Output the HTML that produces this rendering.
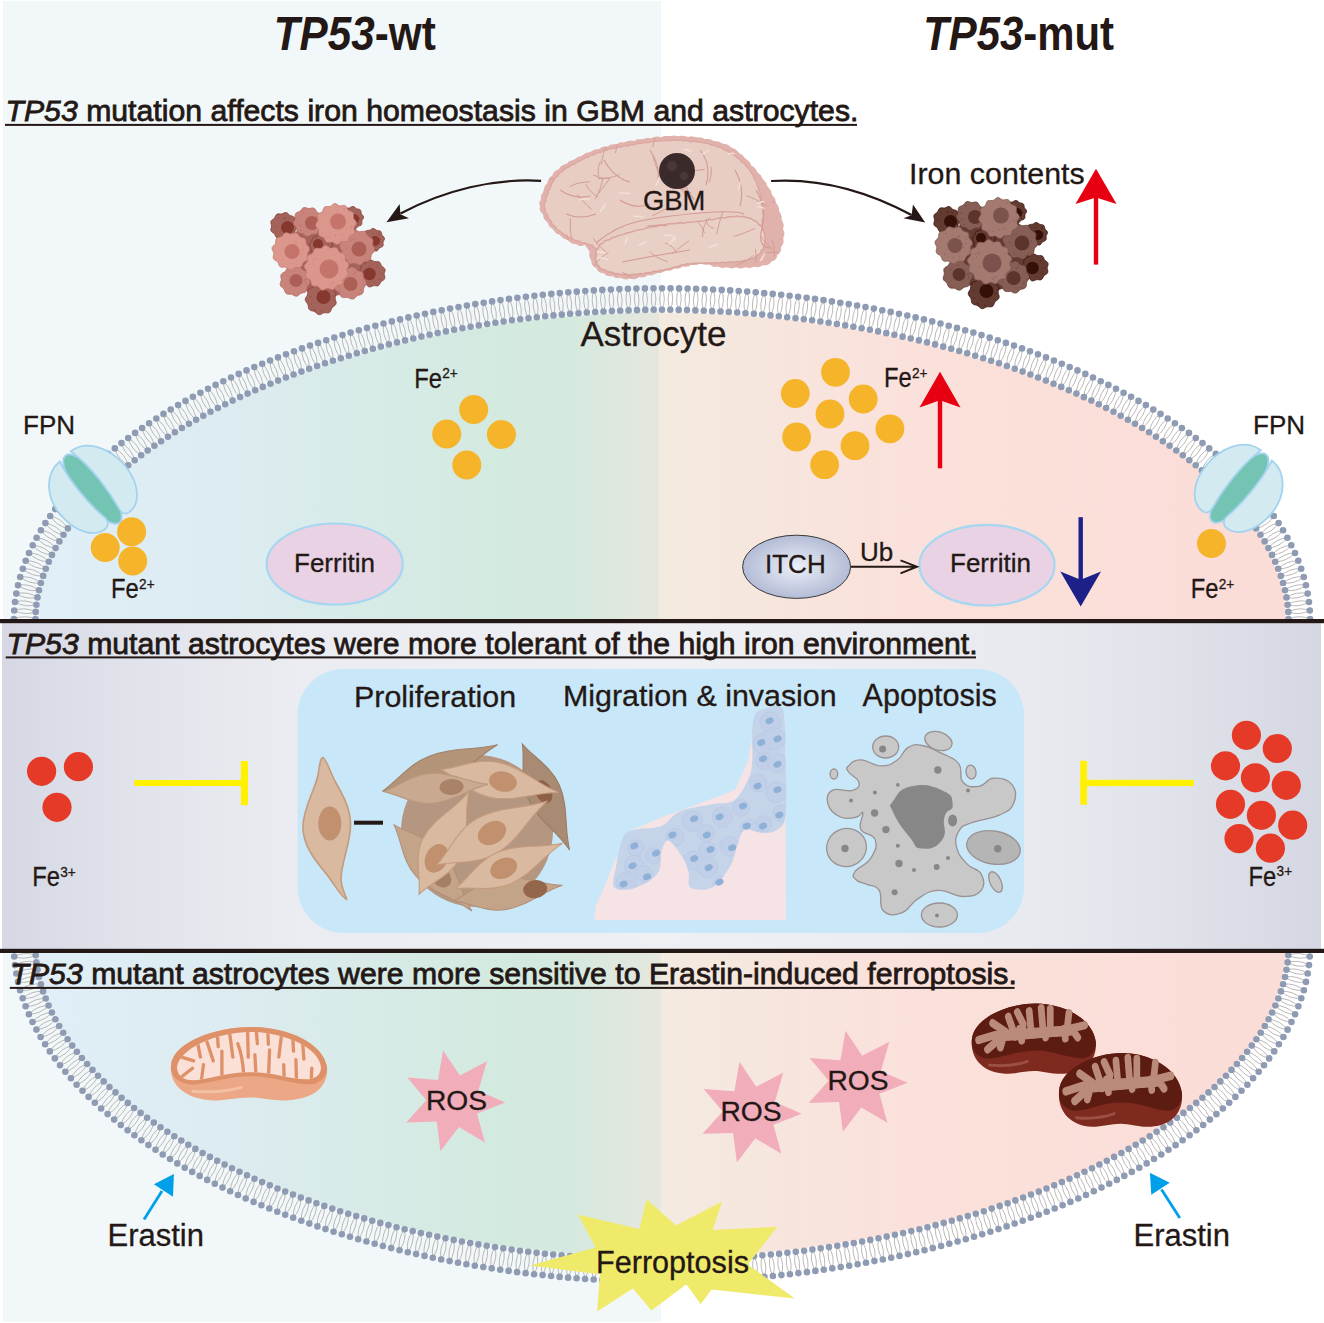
<!DOCTYPE html>
<html><head><meta charset="utf-8"><title>TP53 graphical abstract</title>
<style>html,body{margin:0;padding:0;background:#fff;width:1324px;height:1323px;overflow:hidden}
svg text{font-family:'Liberation Sans',sans-serif}</style></head><body>
<svg width="1324" height="1323" viewBox="0 0 1324 1323" style="display:block">
<defs>
<linearGradient id="gL" x1="0" y1="0" x2="1324" y2="0" gradientUnits="userSpaceOnUse">
 <stop offset="0.02" stop-color="#e1eff8"/><stop offset="0.2" stop-color="#dbebee"/><stop offset="0.38" stop-color="#d3eadf"/><stop offset="0.43" stop-color="#d5e9df"/><stop offset="0.5" stop-color="#e6e7de"/>
</linearGradient>
<linearGradient id="gR" x1="0" y1="0" x2="1324" y2="0" gradientUnits="userSpaceOnUse">
 <stop offset="0.5" stop-color="#f3eae0"/><stop offset="0.68" stop-color="#fbe1db"/><stop offset="1" stop-color="#fbdcd7"/>
</linearGradient>
<linearGradient id="gBand" x1="0" y1="0" x2="1324" y2="0" gradientUnits="userSpaceOnUse">
 <stop offset="0" stop-color="#d5d8e4"/><stop offset="0.1" stop-color="#e1e3eb"/><stop offset="0.22" stop-color="#ebecf1"/><stop offset="0.5" stop-color="#eff0f4"/><stop offset="0.78" stop-color="#e9eaf0"/><stop offset="0.88" stop-color="#e1e3ea"/><stop offset="1" stop-color="#d4d7e2"/>
</linearGradient>
<radialGradient id="gItch" cx="0.5" cy="0.5" r="0.5">
 <stop offset="0" stop-color="#eceff8"/><stop offset="1" stop-color="#b3bcd6"/>
</radialGradient>
<clipPath id="cTop"><path d="M38.1 619 L38.1 617.7 L38.1 616.3 L38.2 614.9 L38.2 613.4 L38.3 612 L38.4 610.5 L38.5 609 L38.7 607.6 L38.8 606.1 L39 604.6 L39.2 603.1 L39.4 601.6 L39.6 600.1 L39.8 598.6 L40.1 597.1 L40.4 595.6 L40.7 594 L41 592.5 L41.3 591 L41.6 589.5 L42 587.9 L42.4 586.4 L42.8 584.9 L43.2 583.4 L43.6 581.8 L44.1 580.3 L44.5 578.8 L45 577.2 L45.5 575.7 L46.1 574.2 L46.6 572.6 L47.2 571.1 L47.7 569.5 L48.3 568 L48.9 566.5 L49.5 564.9 L50.2 563.4 L50.9 561.9 L51.5 560.3 L52.2 558.8 L52.9 557.2 L53.7 555.7 L54.4 554.2 L55.2 552.6 L56 551.1 L56.8 549.6 L57.6 548 L58.4 546.5 L59.2 545 L60.1 543.4 L61 541.9 L61.9 540.4 L62.8 538.9 L63.8 537.3 L64.7 535.8 L65.7 534.3 L66.7 532.8 L67.7 531.2 L68.7 529.7 L69.7 528.2 L70.8 526.7 L71.8 525.2 L72.9 523.7 L74 522.2 L75.1 520.6 L76.3 519.1 L77.4 517.6 L78.6 516.1 L79.8 514.6 L81 513.1 L82.2 511.6 L83.4 510.2 L84.7 508.7 L86 507.2 L87.2 505.7 L88.5 504.2 L89.9 502.7 L91.2 501.2 L92.5 499.8 L93.9 498.3 L95.3 496.8 L96.7 495.4 L98.1 493.9 L99.5 492.4 L101 491 L102.4 489.5 L103.9 488.1 L105.4 486.6 L106.9 485.2 L108.4 483.7 L110 482.3 L111.5 480.9 L113.1 479.4 L114.7 478 L116.3 476.6 L117.9 475.2 L119.5 473.7 L121.2 472.3 L122.8 470.9 L124.5 469.5 L126.2 468.1 L127.9 466.7 L129.6 465.3 L131.4 463.9 L133.1 462.5 L134.9 461.1 L136.7 459.8 L138.4 458.4 L140.3 457 L142.1 455.7 L143.9 454.3 L145.8 452.9 L147.6 451.6 L149.5 450.2 L151.4 448.9 L153.3 447.5 L155.3 446.2 L157.2 444.9 L159.2 443.5 L161.1 442.2 L163.1 440.9 L165.1 439.6 L167.1 438.3 L169.1 437 L171.2 435.7 L173.2 434.4 L175.3 433.1 L177.4 431.8 L179.4 430.5 L181.6 429.3 L183.7 428 L185.8 426.7 L187.9 425.5 L190.1 424.2 L192.3 423 L194.5 421.7 L196.7 420.5 L198.9 419.3 L201.1 418 L203.3 416.8 L205.6 415.6 L207.8 414.4 L210.1 413.2 L212.4 412 L214.7 410.8 L217 409.6 L219.3 408.4 L221.6 407.2 L224 406.1 L226.3 404.9 L228.7 403.8 L231.1 402.6 L233.5 401.5 L235.9 400.3 L238.3 399.2 L240.7 398 L243.2 396.9 L245.6 395.8 L248.1 394.7 L250.6 393.6 L253.1 392.5 L255.5 391.4 L258.1 390.3 L260.6 389.2 L263.1 388.2 L265.6 387.1 L268.2 386 L270.8 385 L273.3 383.9 L275.9 382.9 L278.5 381.9 L281.1 380.8 L283.7 379.8 L286.3 378.8 L289 377.8 L291.6 376.8 L294.3 375.8 L296.9 374.8 L299.6 373.8 L302.3 372.9 L305 371.9 L307.7 370.9 L310.4 370 L313.1 369 L315.8 368.1 L318.6 367.2 L321.3 366.2 L324.1 365.3 L326.8 364.4 L329.6 363.5 L332.4 362.6 L335.2 361.7 L338 360.8 L340.8 360 L343.6 359.1 L346.4 358.2 L349.3 357.4 L352.1 356.5 L354.9 355.7 L357.8 354.9 L360.7 354 L363.5 353.2 L366.4 352.4 L369.3 351.6 L372.2 350.8 L375.1 350 L378 349.2 L380.9 348.5 L383.8 347.7 L386.8 347 L389.7 346.2 L392.6 345.5 L395.6 344.7 L398.5 344 L401.5 343.3 L404.5 342.6 L407.4 341.9 L410.4 341.2 L413.4 340.5 L416.4 339.8 L419.4 339.2 L422.4 338.5 L425.4 337.8 L428.4 337.2 L431.4 336.6 L434.4 335.9 L437.5 335.3 L440.5 334.7 L443.5 334.1 L446.6 333.5 L449.6 332.9 L452.7 332.3 L455.7 331.7 L458.8 331.2 L461.9 330.6 L464.9 330.1 L468 329.5 L471.1 329 L474.2 328.5 L477.2 327.9 L480.3 327.4 L483.4 326.9 L486.5 326.4 L489.6 325.9 L492.7 325.5 L495.8 325 L498.9 324.5 L502 324.1 L505.1 323.7 L508.2 323.2 L511.4 322.8 L514.5 322.4 L517.6 322 L520.7 321.6 L523.8 321.2 L527 320.8 L530.1 320.4 L533.2 320 L536.3 319.7 L539.5 319.3 L542.6 319 L545.7 318.7 L548.9 318.3 L552 318 L555.1 317.7 L558.2 317.4 L561.4 317.1 L564.5 316.8 L567.6 316.6 L570.8 316.3 L573.9 316.1 L577 315.8 L580.1 315.6 L583.2 315.3 L586.4 315.1 L589.5 314.9 L592.6 314.7 L595.7 314.5 L598.8 314.3 L601.9 314.1 L605 314 L608.1 313.8 L611.2 313.7 L614.3 313.5 L617.4 313.4 L620.4 313.3 L623.5 313.1 L626.6 313 L629.6 312.9 L632.7 312.8 L635.7 312.8 L638.7 312.7 L641.7 312.6 L644.7 312.6 L647.7 312.5 L650.6 312.5 L653.6 312.4 L656.5 312.4 L659.3 312.4 L662 312.4 L664.7 312.4 L667.5 312.4 L670.4 312.4 L673.4 312.5 L676.3 312.5 L679.3 312.6 L682.3 312.6 L685.3 312.7 L688.3 312.8 L691.3 312.8 L694.4 312.9 L697.4 313 L700.5 313.1 L703.6 313.3 L706.6 313.4 L709.7 313.5 L712.8 313.7 L715.9 313.8 L719 314 L722.1 314.1 L725.2 314.3 L728.3 314.5 L731.4 314.7 L734.5 314.9 L737.6 315.1 L740.8 315.3 L743.9 315.6 L747 315.8 L750.1 316.1 L753.2 316.3 L756.4 316.6 L759.5 316.8 L762.6 317.1 L765.8 317.4 L768.9 317.7 L772 318 L775.1 318.3 L778.3 318.7 L781.4 319 L784.5 319.3 L787.7 319.7 L790.8 320 L793.9 320.4 L797 320.8 L800.2 321.2 L803.3 321.6 L806.4 322 L809.5 322.4 L812.6 322.8 L815.8 323.2 L818.9 323.7 L822 324.1 L825.1 324.5 L828.2 325 L831.3 325.5 L834.4 325.9 L837.5 326.4 L840.6 326.9 L843.7 327.4 L846.8 327.9 L849.8 328.5 L852.9 329 L856 329.5 L859.1 330.1 L862.1 330.6 L865.2 331.2 L868.3 331.7 L871.3 332.3 L874.4 332.9 L877.4 333.5 L880.5 334.1 L883.5 334.7 L886.5 335.3 L889.6 335.9 L892.6 336.6 L895.6 337.2 L898.6 337.8 L901.6 338.5 L904.6 339.2 L907.6 339.8 L910.6 340.5 L913.6 341.2 L916.6 341.9 L919.5 342.6 L922.5 343.3 L925.5 344 L928.4 344.7 L931.4 345.5 L934.3 346.2 L937.2 347 L940.2 347.7 L943.1 348.5 L946 349.2 L948.9 350 L951.8 350.8 L954.7 351.6 L957.6 352.4 L960.5 353.2 L963.3 354 L966.2 354.9 L969.1 355.7 L971.9 356.5 L974.7 357.4 L977.6 358.2 L980.4 359.1 L983.2 360 L986 360.8 L988.8 361.7 L991.6 362.6 L994.4 363.5 L997.2 364.4 L999.9 365.3 L1002.7 366.2 L1005.4 367.2 L1008.2 368.1 L1010.9 369 L1013.6 370 L1016.3 370.9 L1019 371.9 L1021.7 372.9 L1024.4 373.8 L1027.1 374.8 L1029.7 375.8 L1032.4 376.8 L1035 377.8 L1037.7 378.8 L1040.3 379.8 L1042.9 380.8 L1045.5 381.9 L1048.1 382.9 L1050.7 383.9 L1053.2 385 L1055.8 386 L1058.4 387.1 L1060.9 388.2 L1063.4 389.2 L1065.9 390.3 L1068.5 391.4 L1070.9 392.5 L1073.4 393.6 L1075.9 394.7 L1078.4 395.8 L1080.8 396.9 L1083.3 398 L1085.7 399.2 L1088.1 400.3 L1090.5 401.5 L1092.9 402.6 L1095.3 403.8 L1097.7 404.9 L1100 406.1 L1102.4 407.2 L1104.7 408.4 L1107 409.6 L1109.3 410.8 L1111.6 412 L1113.9 413.2 L1116.2 414.4 L1118.4 415.6 L1120.7 416.8 L1122.9 418 L1125.1 419.3 L1127.3 420.5 L1129.5 421.7 L1131.7 423 L1133.9 424.2 L1136.1 425.5 L1138.2 426.7 L1140.3 428 L1142.4 429.3 L1144.6 430.5 L1146.6 431.8 L1148.7 433.1 L1150.8 434.4 L1152.8 435.7 L1154.9 437 L1156.9 438.3 L1158.9 439.6 L1160.9 440.9 L1162.9 442.2 L1164.8 443.5 L1166.8 444.9 L1168.7 446.2 L1170.7 447.5 L1172.6 448.9 L1174.5 450.2 L1176.4 451.6 L1178.2 452.9 L1180.1 454.3 L1181.9 455.7 L1183.7 457 L1185.6 458.4 L1187.3 459.8 L1189.1 461.1 L1190.9 462.5 L1192.6 463.9 L1194.4 465.3 L1196.1 466.7 L1197.8 468.1 L1199.5 469.5 L1201.2 470.9 L1202.8 472.3 L1204.5 473.7 L1206.1 475.2 L1207.7 476.6 L1209.3 478 L1210.9 479.4 L1212.5 480.9 L1214 482.3 L1215.6 483.7 L1217.1 485.2 L1218.6 486.6 L1220.1 488.1 L1221.6 489.5 L1223 491 L1224.5 492.4 L1225.9 493.9 L1227.3 495.4 L1228.7 496.8 L1230.1 498.3 L1231.5 499.8 L1232.8 501.2 L1234.1 502.7 L1235.5 504.2 L1236.8 505.7 L1238 507.2 L1239.3 508.7 L1240.6 510.2 L1241.8 511.6 L1243 513.1 L1244.2 514.6 L1245.4 516.1 L1246.6 517.6 L1247.7 519.1 L1248.9 520.6 L1250 522.2 L1251.1 523.7 L1252.2 525.2 L1253.2 526.7 L1254.3 528.2 L1255.3 529.7 L1256.3 531.2 L1257.3 532.8 L1258.3 534.3 L1259.3 535.8 L1260.2 537.3 L1261.2 538.9 L1262.1 540.4 L1263 541.9 L1263.9 543.4 L1264.8 545 L1265.6 546.5 L1266.4 548 L1267.2 549.6 L1268 551.1 L1268.8 552.6 L1269.6 554.2 L1270.3 555.7 L1271.1 557.2 L1271.8 558.8 L1272.5 560.3 L1273.1 561.9 L1273.8 563.4 L1274.5 564.9 L1275.1 566.5 L1275.7 568 L1276.3 569.5 L1276.8 571.1 L1277.4 572.6 L1277.9 574.2 L1278.5 575.7 L1279 577.2 L1279.5 578.8 L1279.9 580.3 L1280.4 581.8 L1280.8 583.4 L1281.2 584.9 L1281.6 586.4 L1282 587.9 L1282.4 589.5 L1282.7 591 L1283 592.5 L1283.3 594 L1283.6 595.6 L1283.9 597.1 L1284.2 598.6 L1284.4 600.1 L1284.6 601.6 L1284.8 603.1 L1285 604.6 L1285.2 606.1 L1285.3 607.6 L1285.5 609 L1285.6 610.5 L1285.7 612 L1285.8 613.4 L1285.8 614.9 L1285.9 616.3 L1285.9 617.7 L1285.9 619 Z"/></clipPath>
<clipPath id="cBot"><path d="M38.1 948 L38.1 949.3 L38.1 950.7 L38.2 952.2 L38.2 953.6 L38.3 955.1 L38.4 956.6 L38.5 958.1 L38.7 959.6 L38.8 961.1 L39 962.6 L39.2 964.1 L39.4 965.6 L39.6 967.1 L39.8 968.6 L40.1 970.1 L40.4 971.7 L40.7 973.2 L41 974.7 L41.3 976.3 L41.6 977.8 L42 979.4 L42.4 980.9 L42.8 982.4 L43.2 984 L43.6 985.5 L44.1 987.1 L44.5 988.6 L45 990.2 L45.5 991.7 L46.1 993.3 L46.6 994.8 L47.2 996.4 L47.7 997.9 L48.3 999.5 L48.9 1001 L49.5 1002.6 L50.2 1004.1 L50.9 1005.7 L51.5 1007.3 L52.2 1008.8 L52.9 1010.4 L53.7 1011.9 L54.4 1013.5 L55.2 1015 L56 1016.6 L56.8 1018.1 L57.6 1019.7 L58.4 1021.2 L59.2 1022.8 L60.1 1024.3 L61 1025.8 L61.9 1027.4 L62.8 1028.9 L63.8 1030.5 L64.7 1032 L65.7 1033.5 L66.7 1035.1 L67.7 1036.6 L68.7 1038.2 L69.7 1039.7 L70.8 1041.2 L71.8 1042.7 L72.9 1044.3 L74 1045.8 L75.1 1047.3 L76.3 1048.8 L77.4 1050.4 L78.6 1051.9 L79.8 1053.4 L81 1054.9 L82.2 1056.4 L83.4 1057.9 L84.7 1059.4 L86 1060.9 L87.2 1062.4 L88.5 1063.9 L89.9 1065.4 L91.2 1066.9 L92.5 1068.4 L93.9 1069.9 L95.3 1071.4 L96.7 1072.8 L98.1 1074.3 L99.5 1075.8 L101 1077.3 L102.4 1078.7 L103.9 1080.2 L105.4 1081.7 L106.9 1083.1 L108.4 1084.6 L110 1086 L111.5 1087.5 L113.1 1088.9 L114.7 1090.4 L116.3 1091.8 L117.9 1093.3 L119.5 1094.7 L121.2 1096.1 L122.8 1097.5 L124.5 1099 L126.2 1100.4 L127.9 1101.8 L129.6 1103.2 L131.4 1104.6 L133.1 1106 L134.9 1107.4 L136.7 1108.8 L138.4 1110.2 L140.3 1111.6 L142.1 1112.9 L143.9 1114.3 L145.8 1115.7 L147.6 1117.1 L149.5 1118.4 L151.4 1119.8 L153.3 1121.1 L155.3 1122.5 L157.2 1123.8 L159.2 1125.2 L161.1 1126.5 L163.1 1127.8 L165.1 1129.2 L167.1 1130.5 L169.1 1131.8 L171.2 1133.1 L173.2 1134.4 L175.3 1135.7 L177.4 1137 L179.4 1138.3 L181.6 1139.6 L183.7 1140.9 L185.8 1142.1 L187.9 1143.4 L190.1 1144.7 L192.3 1145.9 L194.5 1147.2 L196.7 1148.5 L198.9 1149.7 L201.1 1150.9 L203.3 1152.2 L205.6 1153.4 L207.8 1154.6 L210.1 1155.8 L212.4 1157 L214.7 1158.2 L217 1159.4 L219.3 1160.6 L221.6 1161.8 L224 1163 L226.3 1164.2 L228.7 1165.4 L231.1 1166.5 L233.5 1167.7 L235.9 1168.8 L238.3 1170 L240.7 1171.1 L243.2 1172.2 L245.6 1173.4 L248.1 1174.5 L250.6 1175.6 L253.1 1176.7 L255.5 1177.8 L258.1 1178.9 L260.6 1180 L263.1 1181.1 L265.6 1182.2 L268.2 1183.2 L270.8 1184.3 L273.3 1185.4 L275.9 1186.4 L278.5 1187.5 L281.1 1188.5 L283.7 1189.5 L286.3 1190.6 L289 1191.6 L291.6 1192.6 L294.3 1193.6 L296.9 1194.6 L299.6 1195.6 L302.3 1196.6 L305 1197.5 L307.7 1198.5 L310.4 1199.5 L313.1 1200.4 L315.8 1201.4 L318.6 1202.3 L321.3 1203.2 L324.1 1204.2 L326.8 1205.1 L329.6 1206 L332.4 1206.9 L335.2 1207.8 L338 1208.7 L340.8 1209.6 L343.6 1210.5 L346.4 1211.3 L349.3 1212.2 L352.1 1213 L354.9 1213.9 L357.8 1214.7 L360.7 1215.6 L363.5 1216.4 L366.4 1217.2 L369.3 1218 L372.2 1218.8 L375.1 1219.6 L378 1220.4 L380.9 1221.2 L383.8 1221.9 L386.8 1222.7 L389.7 1223.5 L392.6 1224.2 L395.6 1224.9 L398.5 1225.7 L401.5 1226.4 L404.5 1227.1 L407.4 1227.8 L410.4 1228.5 L413.4 1229.2 L416.4 1229.9 L419.4 1230.6 L422.4 1231.3 L425.4 1231.9 L428.4 1232.6 L431.4 1233.2 L434.4 1233.8 L437.5 1234.5 L440.5 1235.1 L443.5 1235.7 L446.6 1236.3 L449.6 1236.9 L452.7 1237.5 L455.7 1238.1 L458.8 1238.7 L461.9 1239.2 L464.9 1239.8 L468 1240.3 L471.1 1240.9 L474.2 1241.4 L477.2 1241.9 L480.3 1242.4 L483.4 1242.9 L486.5 1243.4 L489.6 1243.9 L492.7 1244.4 L495.8 1244.9 L498.9 1245.3 L502 1245.8 L505.1 1246.2 L508.2 1246.7 L511.4 1247.1 L514.5 1247.5 L517.6 1247.9 L520.7 1248.3 L523.8 1248.7 L527 1249.1 L530.1 1249.5 L533.2 1249.9 L536.3 1250.2 L539.5 1250.6 L542.6 1250.9 L545.7 1251.3 L548.9 1251.6 L552 1251.9 L555.1 1252.2 L558.2 1252.5 L561.4 1252.8 L564.5 1253.1 L567.6 1253.4 L570.8 1253.7 L573.9 1253.9 L577 1254.2 L580.1 1254.4 L583.2 1254.6 L586.4 1254.9 L589.5 1255.1 L592.6 1255.3 L595.7 1255.5 L598.8 1255.7 L601.9 1255.8 L605 1256 L608.1 1256.2 L611.2 1256.3 L614.3 1256.5 L617.4 1256.6 L620.4 1256.7 L623.5 1256.9 L626.6 1257 L629.6 1257.1 L632.7 1257.2 L635.7 1257.2 L638.7 1257.3 L641.7 1257.4 L644.7 1257.4 L647.7 1257.5 L650.6 1257.5 L653.6 1257.6 L656.5 1257.6 L659.3 1257.6 L662 1257.6 L664.7 1257.6 L667.5 1257.6 L670.4 1257.6 L673.4 1257.5 L676.3 1257.5 L679.3 1257.4 L682.3 1257.4 L685.3 1257.3 L688.3 1257.2 L691.3 1257.2 L694.4 1257.1 L697.4 1257 L700.5 1256.9 L703.6 1256.7 L706.6 1256.6 L709.7 1256.5 L712.8 1256.3 L715.9 1256.2 L719 1256 L722.1 1255.8 L725.2 1255.7 L728.3 1255.5 L731.4 1255.3 L734.5 1255.1 L737.6 1254.9 L740.8 1254.6 L743.9 1254.4 L747 1254.2 L750.1 1253.9 L753.2 1253.7 L756.4 1253.4 L759.5 1253.1 L762.6 1252.8 L765.8 1252.5 L768.9 1252.2 L772 1251.9 L775.1 1251.6 L778.3 1251.3 L781.4 1250.9 L784.5 1250.6 L787.7 1250.2 L790.8 1249.9 L793.9 1249.5 L797 1249.1 L800.2 1248.7 L803.3 1248.3 L806.4 1247.9 L809.5 1247.5 L812.6 1247.1 L815.8 1246.7 L818.9 1246.2 L822 1245.8 L825.1 1245.3 L828.2 1244.9 L831.3 1244.4 L834.4 1243.9 L837.5 1243.4 L840.6 1242.9 L843.7 1242.4 L846.8 1241.9 L849.8 1241.4 L852.9 1240.9 L856 1240.3 L859.1 1239.8 L862.1 1239.2 L865.2 1238.7 L868.3 1238.1 L871.3 1237.5 L874.4 1236.9 L877.4 1236.3 L880.5 1235.7 L883.5 1235.1 L886.5 1234.5 L889.6 1233.8 L892.6 1233.2 L895.6 1232.6 L898.6 1231.9 L901.6 1231.3 L904.6 1230.6 L907.6 1229.9 L910.6 1229.2 L913.6 1228.5 L916.6 1227.8 L919.5 1227.1 L922.5 1226.4 L925.5 1225.7 L928.4 1224.9 L931.4 1224.2 L934.3 1223.5 L937.2 1222.7 L940.2 1221.9 L943.1 1221.2 L946 1220.4 L948.9 1219.6 L951.8 1218.8 L954.7 1218 L957.6 1217.2 L960.5 1216.4 L963.3 1215.6 L966.2 1214.7 L969.1 1213.9 L971.9 1213 L974.7 1212.2 L977.6 1211.3 L980.4 1210.5 L983.2 1209.6 L986 1208.7 L988.8 1207.8 L991.6 1206.9 L994.4 1206 L997.2 1205.1 L999.9 1204.2 L1002.7 1203.2 L1005.4 1202.3 L1008.2 1201.4 L1010.9 1200.4 L1013.6 1199.5 L1016.3 1198.5 L1019 1197.5 L1021.7 1196.6 L1024.4 1195.6 L1027.1 1194.6 L1029.7 1193.6 L1032.4 1192.6 L1035 1191.6 L1037.7 1190.6 L1040.3 1189.5 L1042.9 1188.5 L1045.5 1187.5 L1048.1 1186.4 L1050.7 1185.4 L1053.2 1184.3 L1055.8 1183.2 L1058.4 1182.2 L1060.9 1181.1 L1063.4 1180 L1065.9 1178.9 L1068.5 1177.8 L1070.9 1176.7 L1073.4 1175.6 L1075.9 1174.5 L1078.4 1173.4 L1080.8 1172.2 L1083.3 1171.1 L1085.7 1170 L1088.1 1168.8 L1090.5 1167.7 L1092.9 1166.5 L1095.3 1165.4 L1097.7 1164.2 L1100 1163 L1102.4 1161.8 L1104.7 1160.6 L1107 1159.4 L1109.3 1158.2 L1111.6 1157 L1113.9 1155.8 L1116.2 1154.6 L1118.4 1153.4 L1120.7 1152.2 L1122.9 1150.9 L1125.1 1149.7 L1127.3 1148.5 L1129.5 1147.2 L1131.7 1145.9 L1133.9 1144.7 L1136.1 1143.4 L1138.2 1142.1 L1140.3 1140.9 L1142.4 1139.6 L1144.6 1138.3 L1146.6 1137 L1148.7 1135.7 L1150.8 1134.4 L1152.8 1133.1 L1154.9 1131.8 L1156.9 1130.5 L1158.9 1129.2 L1160.9 1127.8 L1162.9 1126.5 L1164.8 1125.2 L1166.8 1123.8 L1168.7 1122.5 L1170.7 1121.1 L1172.6 1119.8 L1174.5 1118.4 L1176.4 1117.1 L1178.2 1115.7 L1180.1 1114.3 L1181.9 1112.9 L1183.7 1111.6 L1185.6 1110.2 L1187.3 1108.8 L1189.1 1107.4 L1190.9 1106 L1192.6 1104.6 L1194.4 1103.2 L1196.1 1101.8 L1197.8 1100.4 L1199.5 1099 L1201.2 1097.5 L1202.8 1096.1 L1204.5 1094.7 L1206.1 1093.3 L1207.7 1091.8 L1209.3 1090.4 L1210.9 1088.9 L1212.5 1087.5 L1214 1086 L1215.6 1084.6 L1217.1 1083.1 L1218.6 1081.7 L1220.1 1080.2 L1221.6 1078.7 L1223 1077.3 L1224.5 1075.8 L1225.9 1074.3 L1227.3 1072.8 L1228.7 1071.4 L1230.1 1069.9 L1231.5 1068.4 L1232.8 1066.9 L1234.1 1065.4 L1235.5 1063.9 L1236.8 1062.4 L1238 1060.9 L1239.3 1059.4 L1240.6 1057.9 L1241.8 1056.4 L1243 1054.9 L1244.2 1053.4 L1245.4 1051.9 L1246.6 1050.4 L1247.7 1048.8 L1248.9 1047.3 L1250 1045.8 L1251.1 1044.3 L1252.2 1042.7 L1253.2 1041.2 L1254.3 1039.7 L1255.3 1038.2 L1256.3 1036.6 L1257.3 1035.1 L1258.3 1033.5 L1259.3 1032 L1260.2 1030.5 L1261.2 1028.9 L1262.1 1027.4 L1263 1025.8 L1263.9 1024.3 L1264.8 1022.8 L1265.6 1021.2 L1266.4 1019.7 L1267.2 1018.1 L1268 1016.6 L1268.8 1015 L1269.6 1013.5 L1270.3 1011.9 L1271.1 1010.4 L1271.8 1008.8 L1272.5 1007.3 L1273.1 1005.7 L1273.8 1004.1 L1274.5 1002.6 L1275.1 1001 L1275.7 999.5 L1276.3 997.9 L1276.8 996.4 L1277.4 994.8 L1277.9 993.3 L1278.5 991.7 L1279 990.2 L1279.5 988.6 L1279.9 987.1 L1280.4 985.5 L1280.8 984 L1281.2 982.4 L1281.6 980.9 L1282 979.4 L1282.4 977.8 L1282.7 976.3 L1283 974.7 L1283.3 973.2 L1283.6 971.7 L1283.9 970.1 L1284.2 968.6 L1284.4 967.1 L1284.6 965.6 L1284.8 964.1 L1285 962.6 L1285.2 961.1 L1285.3 959.6 L1285.5 958.1 L1285.6 956.6 L1285.7 955.1 L1285.8 953.6 L1285.8 952.2 L1285.9 950.7 L1285.9 949.3 L1285.9 948 Z"/></clipPath>
</defs>
<rect width="1324" height="1323" fill="#ffffff"/>
<rect x="3" y="1" width="658" height="1321" fill="#f2f8f9"/>
<g clip-path="url(#cTop)"><rect x="0" y="0" width="659" height="1323" fill="url(#gL)"/><rect x="659" y="0" width="665" height="1323" fill="url(#gR)"/></g>
<g clip-path="url(#cBot)"><rect x="0" y="0" width="661" height="1323" fill="url(#gL)"/><rect x="661" y="0" width="663" height="1323" fill="url(#gR)"/></g>
<path d="M13.9 619Q24.7 623.6 35.5 619 M13.9 619Q24.7 614.4 35.5 619 M14.2 610.5Q24.7 615.8 35.7 611.9 M14.2 610.5Q25.3 606.6 35.7 611.9 M15 602Q25.1 607.9 36.4 604.7 M15 602Q26.3 598.8 36.4 604.7 M16.3 593.6Q26.1 600 37.5 597.4 M16.3 593.6Q27.7 591 37.5 597.4 M18 585.2Q27.5 592.2 39 590.2 M18 585.2Q29.6 583.2 39 590.2 M20.2 577Q29.3 584.4 40.9 583 M20.2 577Q31.8 575.6 40.9 583 M22.8 568.8Q31.5 576.7 43.2 575.9 M22.8 568.8Q34.5 568 43.2 575.9 M25.7 560.8Q34.1 569.1 45.8 568.8 M25.7 560.8Q37.5 560.5 45.8 568.8 M29 553Q37 561.6 48.8 561.8 M29 553Q40.8 553.2 48.8 561.8 M32.7 545.3Q40.3 554.2 52 554.9 M32.7 545.3Q44.4 546 52 554.9 M36.6 537.7Q43.9 546.9 55.6 548.1 M36.6 537.7Q48.3 538.9 55.6 548.1 M40.9 530.3Q47.8 539.8 59.4 541.4 M40.9 530.3Q52.5 531.9 59.4 541.4 M45.4 523.1Q52 532.8 63.5 534.8 M45.4 523.1Q57 525.1 63.5 534.8 M50.2 516Q56.4 526 67.9 528.4 M50.2 516Q61.7 518.4 67.9 528.4 M55.2 509.1Q61.1 519.2 72.5 522 M55.2 509.1Q66.6 511.9 72.5 522 M60.4 502.3Q66 512.7 77.3 515.8 M60.4 502.3Q71.7 505.5 77.3 515.8 M65.8 495.8Q71.1 506.2 82.3 509.7 M65.8 495.8Q77 499.2 82.3 509.7 M71.4 489.3Q76.4 499.9 87.5 503.7 M71.4 489.3Q82.5 493.1 87.5 503.7 M77.1 483Q81.8 493.8 92.9 497.9 M77.1 483Q88.2 487.1 92.9 497.9 M83.1 476.9Q87.5 487.8 98.4 492.1 M83.1 476.9Q94 481.2 98.4 492.1 M89.2 470.9Q93.3 481.9 104.1 486.5 M89.2 470.9Q100 475.5 104.1 486.5 M95.4 465.1Q99.3 476.2 110 481 M95.4 465.1Q106.1 469.9 110 481 M101.7 459.4Q105.4 470.5 116 475.6 M101.7 459.4Q112.3 464.5 116 475.6 M108.2 453.8Q111.6 465.1 122.1 470.4 M108.2 453.8Q118.7 459.1 122.1 470.4 M114.8 448.4Q118 459.7 128.3 465.2 M114.8 448.4Q125.1 453.9 128.3 465.2 M121.5 443.1Q124.4 454.5 134.7 460.2 M121.5 443.1Q131.7 448.8 134.7 460.2 M128.2 438Q131 449.4 141.2 455.3 M128.2 438Q138.4 443.9 141.2 455.3 M135.1 432.9Q137.7 444.4 147.7 450.5 M135.1 432.9Q145.2 439 147.7 450.5 M142.1 428Q144.5 439.5 154.4 445.8 M142.1 428Q152 434.3 154.4 445.8 M149.1 423.2Q151.3 434.7 161.1 441.2 M149.1 423.2Q159 429.6 161.1 441.2 M156.3 418.5Q158.3 430.1 168 436.7 M156.3 418.5Q166 425.1 168 436.7 M163.5 413.9Q165.3 425.5 174.9 432.3 M163.5 413.9Q173.1 420.7 174.9 432.3 M170.7 409.5Q172.4 421.1 181.9 428 M170.7 409.5Q180.3 416.4 181.9 428 M178.1 405.1Q179.5 416.8 189 423.8 M178.1 405.1Q187.5 412.1 189 423.8 M185.5 400.9Q186.8 412.6 196.1 419.7 M185.5 400.9Q194.8 408 196.1 419.7 M192.9 396.7Q194.1 408.4 203.3 415.7 M192.9 396.7Q202.1 404 203.3 415.7 M200.4 392.7Q201.4 404.4 210.5 411.8 M200.4 392.7Q209.6 400.1 210.5 411.8 M208 388.8Q208.8 400.5 217.9 408 M208 388.8Q217 396.3 217.9 408 M215.6 384.9Q216.3 396.6 225.2 404.2 M215.6 384.9Q224.5 392.5 225.2 404.2 M223.3 381.2Q223.8 392.9 232.6 400.6 M223.3 381.2Q232.1 388.9 232.6 400.6 M231 377.5Q231.4 389.2 240.1 397.1 M231 377.5Q239.7 385.3 240.1 397.1 M238.7 373.9Q239 385.7 247.6 393.6 M238.7 373.9Q247.4 381.9 247.6 393.6 M246.5 370.4Q246.6 382.2 255.2 390.2 M246.5 370.4Q255.1 378.5 255.2 390.2 M254.3 367Q254.3 378.8 262.8 386.9 M254.3 367Q262.8 375.2 262.8 386.9 M262.2 363.7Q262.1 375.5 270.5 383.7 M262.2 363.7Q270.6 372 270.5 383.7 M270.1 360.5Q269.8 372.3 278.1 380.6 M270.1 360.5Q278.4 368.8 278.1 380.6 M278 357.4Q277.6 369.1 285.9 377.5 M278 357.4Q286.2 365.8 285.9 377.5 M286 354.3Q285.5 366 293.6 374.5 M286 354.3Q294.1 362.8 293.6 374.5 M294 351.3Q293.4 363.1 301.4 371.6 M294 351.3Q302 359.9 301.4 371.6 M302 348.4Q301.3 360.2 309.2 368.8 M302 348.4Q309.9 357.1 309.2 368.8 M310 345.6Q309.2 357.3 317.1 366 M310 345.6Q317.9 354.3 317.1 366 M318.1 342.9Q317.2 354.6 325 363.3 M318.1 342.9Q325.9 351.6 325 363.3 M326.2 340.2Q325.2 351.9 332.9 360.7 M326.2 340.2Q333.9 349 332.9 360.7 M334.3 337.6Q333.2 349.3 340.8 358.2 M334.3 337.6Q341.9 346.5 340.8 358.2 M342.5 335.1Q341.2 346.7 348.8 355.7 M342.5 335.1Q350 344.1 348.8 355.7 M350.6 332.6Q349.3 344.3 356.8 353.3 M350.6 332.6Q358.1 341.7 356.8 353.3 M358.8 330.2Q357.4 341.9 364.8 351 M358.8 330.2Q366.2 339.4 364.8 351 M367 327.9Q365.5 339.6 372.8 348.8 M367 327.9Q374.3 337.1 372.8 348.8 M375.3 325.7Q373.6 337.3 380.8 346.6 M375.3 325.7Q382.5 334.9 380.8 346.6 M383.5 323.5Q381.8 335.1 388.9 344.4 M383.5 323.5Q390.7 332.8 388.9 344.4 M391.8 321.4Q389.9 333 397 342.4 M391.8 321.4Q398.9 330.8 397 342.4 M400.1 319.4Q398.1 331 405.1 340.4 M400.1 319.4Q407.1 328.8 405.1 340.4 M408.4 317.4Q406.3 329 413.3 338.5 M408.4 317.4Q415.3 326.9 413.3 338.5 M416.7 315.5Q414.5 327.1 421.4 336.6 M416.7 315.5Q423.5 325.1 421.4 336.6 M425 313.7Q422.8 325.2 429.6 334.8 M425 313.7Q431.8 323.3 429.6 334.8 M433.3 311.9Q431 323.5 437.7 333.1 M433.3 311.9Q440 321.6 437.7 333.1 M441.7 310.2Q439.3 321.7 445.9 331.4 M441.7 310.2Q448.3 319.9 445.9 331.4 M450.1 308.6Q447.6 320.1 454.1 329.8 M450.1 308.6Q456.6 318.3 454.1 329.8 M458.5 307Q455.9 318.5 462.4 328.3 M458.5 307Q464.9 316.8 462.4 328.3 M466.9 305.5Q464.2 317 470.6 326.8 M466.9 305.5Q473.3 315.4 470.6 326.8 M475.3 304.1Q472.5 315.5 478.8 325.4 M475.3 304.1Q481.6 314 478.8 325.4 M483.7 302.7Q480.8 314.1 487.1 324 M483.7 302.7Q489.9 312.6 487.1 324 M492.1 301.4Q489.2 312.8 495.4 322.7 M492.1 301.4Q498.3 311.4 495.4 322.7 M500.5 300.1Q497.5 311.5 503.6 321.5 M500.5 300.1Q506.6 310.2 503.6 321.5 M509 298.9Q505.9 310.3 511.9 320.3 M509 298.9Q515 309 511.9 320.3 M517.4 297.8Q514.3 309.1 520.2 319.2 M517.4 297.8Q523.4 307.9 520.2 319.2 M525.9 296.7Q522.6 308 528.5 318.2 M525.9 296.7Q531.8 306.9 528.5 318.2 M534.4 295.7Q531 307 536.8 317.2 M534.4 295.7Q540.2 305.9 536.8 317.2 M542.8 294.8Q539.4 306 545.2 316.3 M542.8 294.8Q548.6 305 545.2 316.3 M551.3 293.9Q547.8 305.1 553.5 315.4 M551.3 293.9Q557 304.2 553.5 315.4 M559.8 293.1Q556.2 304.3 561.8 314.6 M559.8 293.1Q565.4 303.4 561.8 314.6 M568.3 292.3Q564.6 303.5 570.1 313.8 M568.3 292.3Q573.8 302.7 570.1 313.8 M576.8 291.6Q573.1 302.8 578.5 313.2 M576.8 291.6Q582.2 302 578.5 313.2 M585.3 291Q581.5 302.1 586.8 312.5 M585.3 291Q590.7 301.4 586.8 312.5 M593.8 290.4Q589.9 301.5 595.2 312 M593.8 290.4Q599.1 300.9 595.2 312 M602.3 289.9Q598.3 301 603.5 311.5 M602.3 289.9Q607.5 300.4 603.5 311.5 M610.9 289.5Q606.8 300.5 611.9 311.1 M610.9 289.5Q616 300 611.9 311.1 M619.4 289.1Q615.2 300.1 620.2 310.7 M619.4 289.1Q624.4 299.7 620.2 310.7 M627.9 288.8Q623.7 299.7 628.6 310.4 M627.9 288.8Q632.8 299.4 628.6 310.4 M636.4 288.5Q632.1 299.4 637 310.1 M636.4 288.5Q641.3 299.2 637 310.1 M644.9 288.4Q640.5 299.2 645.3 309.9 M644.9 288.4Q649.7 299.1 645.3 309.9 M653.5 288.2Q649 299.1 653.7 309.8 M653.5 288.2Q658.2 299 653.7 309.8 M662 288.2Q657.4 299 662 309.8 M662 288.2Q666.6 299 662 309.8 M670.5 288.2Q665.8 299 670.3 309.8 M670.5 288.2Q675 299.1 670.3 309.8 M679.1 288.4Q674.3 299.1 678.7 309.9 M679.1 288.4Q683.5 299.2 678.7 309.9 M687.6 288.5Q682.7 299.2 687 310.1 M687.6 288.5Q691.9 299.4 687 310.1 M696.1 288.8Q691.2 299.4 695.4 310.4 M696.1 288.8Q700.3 299.7 695.4 310.4 M704.6 289.1Q699.6 299.7 703.8 310.7 M704.6 289.1Q708.8 300.1 703.8 310.7 M713.1 289.5Q708 300 712.1 311.1 M713.1 289.5Q717.2 300.5 712.1 311.1 M721.7 289.9Q716.5 300.4 720.5 311.5 M721.7 289.9Q725.7 301 720.5 311.5 M730.2 290.4Q724.9 300.9 728.8 312 M730.2 290.4Q734.1 301.5 728.8 312 M738.7 291Q733.3 301.4 737.2 312.5 M738.7 291Q742.5 302.1 737.2 312.5 M747.2 291.6Q741.8 302 745.5 313.2 M747.2 291.6Q750.9 302.8 745.5 313.2 M755.7 292.3Q750.2 302.7 753.9 313.8 M755.7 292.3Q759.4 303.5 753.9 313.8 M764.2 293.1Q758.6 303.4 762.2 314.6 M764.2 293.1Q767.8 304.3 762.2 314.6 M772.7 293.9Q767 304.2 770.5 315.4 M772.7 293.9Q776.2 305.1 770.5 315.4 M781.2 294.8Q775.4 305 778.8 316.3 M781.2 294.8Q784.6 306 778.8 316.3 M789.6 295.7Q783.8 305.9 787.2 317.2 M789.6 295.7Q793 307 787.2 317.2 M798.1 296.7Q792.2 306.9 795.5 318.2 M798.1 296.7Q801.4 308 795.5 318.2 M806.6 297.8Q800.6 307.9 803.8 319.2 M806.6 297.8Q809.7 309.1 803.8 319.2 M815 298.9Q809 309 812.1 320.3 M815 298.9Q818.1 310.3 812.1 320.3 M823.5 300.1Q817.4 310.2 820.4 321.5 M823.5 300.1Q826.5 311.5 820.4 321.5 M831.9 301.4Q825.7 311.4 828.6 322.7 M831.9 301.4Q834.8 312.8 828.6 322.7 M840.3 302.7Q834.1 312.6 836.9 324 M840.3 302.7Q843.2 314.1 836.9 324 M848.7 304.1Q842.4 314 845.2 325.4 M848.7 304.1Q851.5 315.5 845.2 325.4 M857.1 305.5Q850.7 315.4 853.4 326.8 M857.1 305.5Q859.8 317 853.4 326.8 M865.5 307Q859.1 316.8 861.6 328.3 M865.5 307Q868.1 318.5 861.6 328.3 M873.9 308.6Q867.4 318.3 869.9 329.8 M873.9 308.6Q876.4 320.1 869.9 329.8 M882.3 310.2Q875.7 319.9 878.1 331.4 M882.3 310.2Q884.7 321.7 878.1 331.4 M890.7 311.9Q884 321.6 886.3 333.1 M890.7 311.9Q893 323.5 886.3 333.1 M899 313.7Q892.2 323.3 894.4 334.8 M899 313.7Q901.2 325.2 894.4 334.8 M907.3 315.5Q900.5 325.1 902.6 336.6 M907.3 315.5Q909.5 327.1 902.6 336.6 M915.6 317.4Q908.7 326.9 910.7 338.5 M915.6 317.4Q917.7 329 910.7 338.5 M923.9 319.4Q916.9 328.8 918.9 340.4 M923.9 319.4Q925.9 331 918.9 340.4 M932.2 321.4Q925.1 330.8 927 342.4 M932.2 321.4Q934.1 333 927 342.4 M940.5 323.5Q933.3 332.8 935.1 344.4 M940.5 323.5Q942.2 335.1 935.1 344.4 M948.7 325.7Q941.5 334.9 943.2 346.6 M948.7 325.7Q950.4 337.3 943.2 346.6 M957 327.9Q949.7 337.1 951.2 348.8 M957 327.9Q958.5 339.6 951.2 348.8 M965.2 330.2Q957.8 339.4 959.2 351 M965.2 330.2Q966.6 341.9 959.2 351 M973.4 332.6Q965.9 341.7 967.2 353.3 M973.4 332.6Q974.7 344.3 967.2 353.3 M981.5 335.1Q974 344.1 975.2 355.7 M981.5 335.1Q982.8 346.7 975.2 355.7 M989.7 337.6Q982.1 346.5 983.2 358.2 M989.7 337.6Q990.8 349.3 983.2 358.2 M997.8 340.2Q990.1 349 991.1 360.7 M997.8 340.2Q998.8 351.9 991.1 360.7 M1005.9 342.9Q998.1 351.6 999 363.3 M1005.9 342.9Q1006.8 354.6 999 363.3 M1014 345.6Q1006.1 354.3 1006.9 366 M1014 345.6Q1014.8 357.3 1006.9 366 M1022 348.4Q1014.1 357.1 1014.8 368.8 M1022 348.4Q1022.7 360.2 1014.8 368.8 M1030 351.3Q1022 359.9 1022.6 371.6 M1030 351.3Q1030.6 363.1 1022.6 371.6 M1038 354.3Q1029.9 362.8 1030.4 374.5 M1038 354.3Q1038.5 366 1030.4 374.5 M1046 357.4Q1037.8 365.8 1038.1 377.5 M1046 357.4Q1046.4 369.1 1038.1 377.5 M1053.9 360.5Q1045.6 368.8 1045.9 380.6 M1053.9 360.5Q1054.2 372.3 1045.9 380.6 M1061.8 363.7Q1053.4 372 1053.5 383.7 M1061.8 363.7Q1061.9 375.5 1053.5 383.7 M1069.7 367Q1061.2 375.2 1061.2 386.9 M1069.7 367Q1069.7 378.8 1061.2 386.9 M1077.5 370.4Q1068.9 378.5 1068.8 390.2 M1077.5 370.4Q1077.4 382.2 1068.8 390.2 M1085.3 373.9Q1076.6 381.9 1076.4 393.6 M1085.3 373.9Q1085 385.7 1076.4 393.6 M1093 377.5Q1084.3 385.3 1083.9 397.1 M1093 377.5Q1092.6 389.2 1083.9 397.1 M1100.7 381.2Q1091.9 388.9 1091.4 400.6 M1100.7 381.2Q1100.2 392.9 1091.4 400.6 M1108.4 384.9Q1099.5 392.5 1098.8 404.2 M1108.4 384.9Q1107.7 396.6 1098.8 404.2 M1116 388.8Q1107 396.3 1106.1 408 M1116 388.8Q1115.2 400.5 1106.1 408 M1123.6 392.7Q1114.4 400.1 1113.5 411.8 M1123.6 392.7Q1122.6 404.4 1113.5 411.8 M1131.1 396.7Q1121.9 404 1120.7 415.7 M1131.1 396.7Q1129.9 408.4 1120.7 415.7 M1138.5 400.9Q1129.2 408 1127.9 419.7 M1138.5 400.9Q1137.2 412.6 1127.9 419.7 M1145.9 405.1Q1136.5 412.1 1135 423.8 M1145.9 405.1Q1144.5 416.8 1135 423.8 M1153.3 409.5Q1143.7 416.4 1142.1 428 M1153.3 409.5Q1151.6 421.1 1142.1 428 M1160.5 413.9Q1150.9 420.7 1149.1 432.3 M1160.5 413.9Q1158.7 425.5 1149.1 432.3 M1167.7 418.5Q1158 425.1 1156 436.7 M1167.7 418.5Q1165.7 430.1 1156 436.7 M1174.9 423.2Q1165 429.6 1162.9 441.2 M1174.9 423.2Q1172.7 434.7 1162.9 441.2 M1181.9 428Q1172 434.3 1169.6 445.8 M1181.9 428Q1179.5 439.5 1169.6 445.8 M1188.9 432.9Q1178.8 439 1176.3 450.5 M1188.9 432.9Q1186.3 444.4 1176.3 450.5 M1195.8 438Q1185.6 443.9 1182.8 455.3 M1195.8 438Q1193 449.4 1182.8 455.3 M1202.5 443.1Q1192.3 448.8 1189.3 460.2 M1202.5 443.1Q1199.6 454.5 1189.3 460.2 M1209.2 448.4Q1198.9 453.9 1195.7 465.2 M1209.2 448.4Q1206 459.7 1195.7 465.2 M1215.8 453.8Q1205.3 459.1 1201.9 470.4 M1215.8 453.8Q1212.4 465.1 1201.9 470.4 M1222.3 459.4Q1211.7 464.5 1208 475.6 M1222.3 459.4Q1218.6 470.5 1208 475.6 M1228.6 465.1Q1217.9 469.9 1214 481 M1228.6 465.1Q1224.7 476.2 1214 481 M1234.8 470.9Q1224 475.5 1219.9 486.5 M1234.8 470.9Q1230.7 481.9 1219.9 486.5 M1240.9 476.9Q1230 481.2 1225.6 492.1 M1240.9 476.9Q1236.5 487.8 1225.6 492.1 M1246.9 483Q1235.8 487.1 1231.1 497.9 M1246.9 483Q1242.2 493.8 1231.1 497.9 M1252.6 489.3Q1241.5 493.1 1236.5 503.7 M1252.6 489.3Q1247.6 499.9 1236.5 503.7 M1258.2 495.8Q1247 499.2 1241.7 509.7 M1258.2 495.8Q1252.9 506.2 1241.7 509.7 M1263.6 502.3Q1252.3 505.5 1246.7 515.8 M1263.6 502.3Q1258 512.7 1246.7 515.8 M1268.8 509.1Q1257.4 511.9 1251.5 522 M1268.8 509.1Q1262.9 519.2 1251.5 522 M1273.8 516Q1262.3 518.4 1256.1 528.4 M1273.8 516Q1267.6 526 1256.1 528.4 M1278.6 523.1Q1267 525.1 1260.5 534.8 M1278.6 523.1Q1272 532.8 1260.5 534.8 M1283.1 530.3Q1271.5 531.9 1264.6 541.4 M1283.1 530.3Q1276.2 539.8 1264.6 541.4 M1287.4 537.7Q1275.7 538.9 1268.4 548.1 M1287.4 537.7Q1280.1 546.9 1268.4 548.1 M1291.3 545.3Q1279.6 546 1272 554.9 M1291.3 545.3Q1283.7 554.2 1272 554.9 M1295 553Q1283.2 553.2 1275.2 561.8 M1295 553Q1287 561.6 1275.2 561.8 M1298.3 560.8Q1286.5 560.5 1278.2 568.8 M1298.3 560.8Q1289.9 569.1 1278.2 568.8 M1301.2 568.8Q1289.5 568 1280.8 575.9 M1301.2 568.8Q1292.5 576.7 1280.8 575.9 M1303.8 577Q1292.2 575.6 1283.1 583 M1303.8 577Q1294.7 584.4 1283.1 583 M1306 585.2Q1294.4 583.2 1285 590.2 M1306 585.2Q1296.5 592.2 1285 590.2 M1307.7 593.6Q1296.3 591 1286.5 597.4 M1307.7 593.6Q1297.9 600 1286.5 597.4 M1309 602Q1297.7 598.8 1287.6 604.7 M1309 602Q1298.9 607.9 1287.6 604.7 M1309.8 610.5Q1298.7 606.6 1288.3 611.9 M1309.8 610.5Q1299.3 615.8 1288.3 611.9 M1310.1 619Q1299.3 614.4 1288.5 619 M1310.1 619Q1299.3 623.6 1288.5 619" fill="none" stroke="#a09a9a" stroke-width="0.7"/>
<path d="M10.6 619a3.3 3.3 0 1 0 6.6 0a3.3 3.3 0 1 0 -6.6 0 M10.9 610.5a3.3 3.3 0 1 0 6.6 0a3.3 3.3 0 1 0 -6.6 0 M11.7 602a3.3 3.3 0 1 0 6.6 0a3.3 3.3 0 1 0 -6.6 0 M13 593.6a3.3 3.3 0 1 0 6.6 0a3.3 3.3 0 1 0 -6.6 0 M14.7 585.2a3.3 3.3 0 1 0 6.6 0a3.3 3.3 0 1 0 -6.6 0 M16.9 577a3.3 3.3 0 1 0 6.6 0a3.3 3.3 0 1 0 -6.6 0 M19.5 568.8a3.3 3.3 0 1 0 6.6 0a3.3 3.3 0 1 0 -6.6 0 M22.4 560.8a3.3 3.3 0 1 0 6.6 0a3.3 3.3 0 1 0 -6.6 0 M25.7 553a3.3 3.3 0 1 0 6.6 0a3.3 3.3 0 1 0 -6.6 0 M29.4 545.3a3.3 3.3 0 1 0 6.6 0a3.3 3.3 0 1 0 -6.6 0 M33.3 537.7a3.3 3.3 0 1 0 6.6 0a3.3 3.3 0 1 0 -6.6 0 M37.6 530.3a3.3 3.3 0 1 0 6.6 0a3.3 3.3 0 1 0 -6.6 0 M42.1 523.1a3.3 3.3 0 1 0 6.6 0a3.3 3.3 0 1 0 -6.6 0 M46.9 516a3.3 3.3 0 1 0 6.6 0a3.3 3.3 0 1 0 -6.6 0 M51.9 509.1a3.3 3.3 0 1 0 6.6 0a3.3 3.3 0 1 0 -6.6 0 M57.1 502.3a3.3 3.3 0 1 0 6.6 0a3.3 3.3 0 1 0 -6.6 0 M62.5 495.8a3.3 3.3 0 1 0 6.6 0a3.3 3.3 0 1 0 -6.6 0 M68.1 489.3a3.3 3.3 0 1 0 6.6 0a3.3 3.3 0 1 0 -6.6 0 M73.8 483a3.3 3.3 0 1 0 6.6 0a3.3 3.3 0 1 0 -6.6 0 M79.8 476.9a3.3 3.3 0 1 0 6.6 0a3.3 3.3 0 1 0 -6.6 0 M85.9 470.9a3.3 3.3 0 1 0 6.6 0a3.3 3.3 0 1 0 -6.6 0 M92.1 465.1a3.3 3.3 0 1 0 6.6 0a3.3 3.3 0 1 0 -6.6 0 M98.4 459.4a3.3 3.3 0 1 0 6.6 0a3.3 3.3 0 1 0 -6.6 0 M104.9 453.8a3.3 3.3 0 1 0 6.6 0a3.3 3.3 0 1 0 -6.6 0 M111.5 448.4a3.3 3.3 0 1 0 6.6 0a3.3 3.3 0 1 0 -6.6 0 M118.2 443.1a3.3 3.3 0 1 0 6.6 0a3.3 3.3 0 1 0 -6.6 0 M124.9 438a3.3 3.3 0 1 0 6.6 0a3.3 3.3 0 1 0 -6.6 0 M131.8 432.9a3.3 3.3 0 1 0 6.6 0a3.3 3.3 0 1 0 -6.6 0 M138.8 428a3.3 3.3 0 1 0 6.6 0a3.3 3.3 0 1 0 -6.6 0 M145.8 423.2a3.3 3.3 0 1 0 6.6 0a3.3 3.3 0 1 0 -6.6 0 M153 418.5a3.3 3.3 0 1 0 6.6 0a3.3 3.3 0 1 0 -6.6 0 M160.2 413.9a3.3 3.3 0 1 0 6.6 0a3.3 3.3 0 1 0 -6.6 0 M167.4 409.5a3.3 3.3 0 1 0 6.6 0a3.3 3.3 0 1 0 -6.6 0 M174.8 405.1a3.3 3.3 0 1 0 6.6 0a3.3 3.3 0 1 0 -6.6 0 M182.2 400.9a3.3 3.3 0 1 0 6.6 0a3.3 3.3 0 1 0 -6.6 0 M189.6 396.7a3.3 3.3 0 1 0 6.6 0a3.3 3.3 0 1 0 -6.6 0 M197.1 392.7a3.3 3.3 0 1 0 6.6 0a3.3 3.3 0 1 0 -6.6 0 M204.7 388.8a3.3 3.3 0 1 0 6.6 0a3.3 3.3 0 1 0 -6.6 0 M212.3 384.9a3.3 3.3 0 1 0 6.6 0a3.3 3.3 0 1 0 -6.6 0 M220 381.2a3.3 3.3 0 1 0 6.6 0a3.3 3.3 0 1 0 -6.6 0 M227.7 377.5a3.3 3.3 0 1 0 6.6 0a3.3 3.3 0 1 0 -6.6 0 M235.4 373.9a3.3 3.3 0 1 0 6.6 0a3.3 3.3 0 1 0 -6.6 0 M243.2 370.4a3.3 3.3 0 1 0 6.6 0a3.3 3.3 0 1 0 -6.6 0 M251 367a3.3 3.3 0 1 0 6.6 0a3.3 3.3 0 1 0 -6.6 0 M258.9 363.7a3.3 3.3 0 1 0 6.6 0a3.3 3.3 0 1 0 -6.6 0 M266.8 360.5a3.3 3.3 0 1 0 6.6 0a3.3 3.3 0 1 0 -6.6 0 M274.7 357.4a3.3 3.3 0 1 0 6.6 0a3.3 3.3 0 1 0 -6.6 0 M282.7 354.3a3.3 3.3 0 1 0 6.6 0a3.3 3.3 0 1 0 -6.6 0 M290.7 351.3a3.3 3.3 0 1 0 6.6 0a3.3 3.3 0 1 0 -6.6 0 M298.7 348.4a3.3 3.3 0 1 0 6.6 0a3.3 3.3 0 1 0 -6.6 0 M306.7 345.6a3.3 3.3 0 1 0 6.6 0a3.3 3.3 0 1 0 -6.6 0 M314.8 342.9a3.3 3.3 0 1 0 6.6 0a3.3 3.3 0 1 0 -6.6 0 M322.9 340.2a3.3 3.3 0 1 0 6.6 0a3.3 3.3 0 1 0 -6.6 0 M331 337.6a3.3 3.3 0 1 0 6.6 0a3.3 3.3 0 1 0 -6.6 0 M339.2 335.1a3.3 3.3 0 1 0 6.6 0a3.3 3.3 0 1 0 -6.6 0 M347.3 332.6a3.3 3.3 0 1 0 6.6 0a3.3 3.3 0 1 0 -6.6 0 M355.5 330.2a3.3 3.3 0 1 0 6.6 0a3.3 3.3 0 1 0 -6.6 0 M363.7 327.9a3.3 3.3 0 1 0 6.6 0a3.3 3.3 0 1 0 -6.6 0 M372 325.7a3.3 3.3 0 1 0 6.6 0a3.3 3.3 0 1 0 -6.6 0 M380.2 323.5a3.3 3.3 0 1 0 6.6 0a3.3 3.3 0 1 0 -6.6 0 M388.5 321.4a3.3 3.3 0 1 0 6.6 0a3.3 3.3 0 1 0 -6.6 0 M396.8 319.4a3.3 3.3 0 1 0 6.6 0a3.3 3.3 0 1 0 -6.6 0 M405.1 317.4a3.3 3.3 0 1 0 6.6 0a3.3 3.3 0 1 0 -6.6 0 M413.4 315.5a3.3 3.3 0 1 0 6.6 0a3.3 3.3 0 1 0 -6.6 0 M421.7 313.7a3.3 3.3 0 1 0 6.6 0a3.3 3.3 0 1 0 -6.6 0 M430 311.9a3.3 3.3 0 1 0 6.6 0a3.3 3.3 0 1 0 -6.6 0 M438.4 310.2a3.3 3.3 0 1 0 6.6 0a3.3 3.3 0 1 0 -6.6 0 M446.8 308.6a3.3 3.3 0 1 0 6.6 0a3.3 3.3 0 1 0 -6.6 0 M455.2 307a3.3 3.3 0 1 0 6.6 0a3.3 3.3 0 1 0 -6.6 0 M463.6 305.5a3.3 3.3 0 1 0 6.6 0a3.3 3.3 0 1 0 -6.6 0 M472 304.1a3.3 3.3 0 1 0 6.6 0a3.3 3.3 0 1 0 -6.6 0 M480.4 302.7a3.3 3.3 0 1 0 6.6 0a3.3 3.3 0 1 0 -6.6 0 M488.8 301.4a3.3 3.3 0 1 0 6.6 0a3.3 3.3 0 1 0 -6.6 0 M497.2 300.1a3.3 3.3 0 1 0 6.6 0a3.3 3.3 0 1 0 -6.6 0 M505.7 298.9a3.3 3.3 0 1 0 6.6 0a3.3 3.3 0 1 0 -6.6 0 M514.1 297.8a3.3 3.3 0 1 0 6.6 0a3.3 3.3 0 1 0 -6.6 0 M522.6 296.7a3.3 3.3 0 1 0 6.6 0a3.3 3.3 0 1 0 -6.6 0 M531.1 295.7a3.3 3.3 0 1 0 6.6 0a3.3 3.3 0 1 0 -6.6 0 M539.5 294.8a3.3 3.3 0 1 0 6.6 0a3.3 3.3 0 1 0 -6.6 0 M548 293.9a3.3 3.3 0 1 0 6.6 0a3.3 3.3 0 1 0 -6.6 0 M556.5 293.1a3.3 3.3 0 1 0 6.6 0a3.3 3.3 0 1 0 -6.6 0 M565 292.3a3.3 3.3 0 1 0 6.6 0a3.3 3.3 0 1 0 -6.6 0 M573.5 291.6a3.3 3.3 0 1 0 6.6 0a3.3 3.3 0 1 0 -6.6 0 M582 291a3.3 3.3 0 1 0 6.6 0a3.3 3.3 0 1 0 -6.6 0 M590.5 290.4a3.3 3.3 0 1 0 6.6 0a3.3 3.3 0 1 0 -6.6 0 M599 289.9a3.3 3.3 0 1 0 6.6 0a3.3 3.3 0 1 0 -6.6 0 M607.6 289.5a3.3 3.3 0 1 0 6.6 0a3.3 3.3 0 1 0 -6.6 0 M616.1 289.1a3.3 3.3 0 1 0 6.6 0a3.3 3.3 0 1 0 -6.6 0 M624.6 288.8a3.3 3.3 0 1 0 6.6 0a3.3 3.3 0 1 0 -6.6 0 M633.1 288.5a3.3 3.3 0 1 0 6.6 0a3.3 3.3 0 1 0 -6.6 0 M641.6 288.4a3.3 3.3 0 1 0 6.6 0a3.3 3.3 0 1 0 -6.6 0 M650.2 288.2a3.3 3.3 0 1 0 6.6 0a3.3 3.3 0 1 0 -6.6 0 M658.7 288.2a3.3 3.3 0 1 0 6.6 0a3.3 3.3 0 1 0 -6.6 0 M667.2 288.2a3.3 3.3 0 1 0 6.6 0a3.3 3.3 0 1 0 -6.6 0 M675.8 288.4a3.3 3.3 0 1 0 6.6 0a3.3 3.3 0 1 0 -6.6 0 M684.3 288.5a3.3 3.3 0 1 0 6.6 0a3.3 3.3 0 1 0 -6.6 0 M692.8 288.8a3.3 3.3 0 1 0 6.6 0a3.3 3.3 0 1 0 -6.6 0 M701.3 289.1a3.3 3.3 0 1 0 6.6 0a3.3 3.3 0 1 0 -6.6 0 M709.8 289.5a3.3 3.3 0 1 0 6.6 0a3.3 3.3 0 1 0 -6.6 0 M718.4 289.9a3.3 3.3 0 1 0 6.6 0a3.3 3.3 0 1 0 -6.6 0 M726.9 290.4a3.3 3.3 0 1 0 6.6 0a3.3 3.3 0 1 0 -6.6 0 M735.4 291a3.3 3.3 0 1 0 6.6 0a3.3 3.3 0 1 0 -6.6 0 M743.9 291.6a3.3 3.3 0 1 0 6.6 0a3.3 3.3 0 1 0 -6.6 0 M752.4 292.3a3.3 3.3 0 1 0 6.6 0a3.3 3.3 0 1 0 -6.6 0 M760.9 293.1a3.3 3.3 0 1 0 6.6 0a3.3 3.3 0 1 0 -6.6 0 M769.4 293.9a3.3 3.3 0 1 0 6.6 0a3.3 3.3 0 1 0 -6.6 0 M777.9 294.8a3.3 3.3 0 1 0 6.6 0a3.3 3.3 0 1 0 -6.6 0 M786.3 295.7a3.3 3.3 0 1 0 6.6 0a3.3 3.3 0 1 0 -6.6 0 M794.8 296.7a3.3 3.3 0 1 0 6.6 0a3.3 3.3 0 1 0 -6.6 0 M803.3 297.8a3.3 3.3 0 1 0 6.6 0a3.3 3.3 0 1 0 -6.6 0 M811.7 298.9a3.3 3.3 0 1 0 6.6 0a3.3 3.3 0 1 0 -6.6 0 M820.2 300.1a3.3 3.3 0 1 0 6.6 0a3.3 3.3 0 1 0 -6.6 0 M828.6 301.4a3.3 3.3 0 1 0 6.6 0a3.3 3.3 0 1 0 -6.6 0 M837 302.7a3.3 3.3 0 1 0 6.6 0a3.3 3.3 0 1 0 -6.6 0 M845.4 304.1a3.3 3.3 0 1 0 6.6 0a3.3 3.3 0 1 0 -6.6 0 M853.8 305.5a3.3 3.3 0 1 0 6.6 0a3.3 3.3 0 1 0 -6.6 0 M862.2 307a3.3 3.3 0 1 0 6.6 0a3.3 3.3 0 1 0 -6.6 0 M870.6 308.6a3.3 3.3 0 1 0 6.6 0a3.3 3.3 0 1 0 -6.6 0 M879 310.2a3.3 3.3 0 1 0 6.6 0a3.3 3.3 0 1 0 -6.6 0 M887.4 311.9a3.3 3.3 0 1 0 6.6 0a3.3 3.3 0 1 0 -6.6 0 M895.7 313.7a3.3 3.3 0 1 0 6.6 0a3.3 3.3 0 1 0 -6.6 0 M904 315.5a3.3 3.3 0 1 0 6.6 0a3.3 3.3 0 1 0 -6.6 0 M912.3 317.4a3.3 3.3 0 1 0 6.6 0a3.3 3.3 0 1 0 -6.6 0 M920.6 319.4a3.3 3.3 0 1 0 6.6 0a3.3 3.3 0 1 0 -6.6 0 M928.9 321.4a3.3 3.3 0 1 0 6.6 0a3.3 3.3 0 1 0 -6.6 0 M937.2 323.5a3.3 3.3 0 1 0 6.6 0a3.3 3.3 0 1 0 -6.6 0 M945.4 325.7a3.3 3.3 0 1 0 6.6 0a3.3 3.3 0 1 0 -6.6 0 M953.7 327.9a3.3 3.3 0 1 0 6.6 0a3.3 3.3 0 1 0 -6.6 0 M961.9 330.2a3.3 3.3 0 1 0 6.6 0a3.3 3.3 0 1 0 -6.6 0 M970.1 332.6a3.3 3.3 0 1 0 6.6 0a3.3 3.3 0 1 0 -6.6 0 M978.2 335.1a3.3 3.3 0 1 0 6.6 0a3.3 3.3 0 1 0 -6.6 0 M986.4 337.6a3.3 3.3 0 1 0 6.6 0a3.3 3.3 0 1 0 -6.6 0 M994.5 340.2a3.3 3.3 0 1 0 6.6 0a3.3 3.3 0 1 0 -6.6 0 M1002.6 342.9a3.3 3.3 0 1 0 6.6 0a3.3 3.3 0 1 0 -6.6 0 M1010.7 345.6a3.3 3.3 0 1 0 6.6 0a3.3 3.3 0 1 0 -6.6 0 M1018.7 348.4a3.3 3.3 0 1 0 6.6 0a3.3 3.3 0 1 0 -6.6 0 M1026.7 351.3a3.3 3.3 0 1 0 6.6 0a3.3 3.3 0 1 0 -6.6 0 M1034.7 354.3a3.3 3.3 0 1 0 6.6 0a3.3 3.3 0 1 0 -6.6 0 M1042.7 357.4a3.3 3.3 0 1 0 6.6 0a3.3 3.3 0 1 0 -6.6 0 M1050.6 360.5a3.3 3.3 0 1 0 6.6 0a3.3 3.3 0 1 0 -6.6 0 M1058.5 363.7a3.3 3.3 0 1 0 6.6 0a3.3 3.3 0 1 0 -6.6 0 M1066.4 367a3.3 3.3 0 1 0 6.6 0a3.3 3.3 0 1 0 -6.6 0 M1074.2 370.4a3.3 3.3 0 1 0 6.6 0a3.3 3.3 0 1 0 -6.6 0 M1082 373.9a3.3 3.3 0 1 0 6.6 0a3.3 3.3 0 1 0 -6.6 0 M1089.7 377.5a3.3 3.3 0 1 0 6.6 0a3.3 3.3 0 1 0 -6.6 0 M1097.4 381.2a3.3 3.3 0 1 0 6.6 0a3.3 3.3 0 1 0 -6.6 0 M1105.1 384.9a3.3 3.3 0 1 0 6.6 0a3.3 3.3 0 1 0 -6.6 0 M1112.7 388.8a3.3 3.3 0 1 0 6.6 0a3.3 3.3 0 1 0 -6.6 0 M1120.3 392.7a3.3 3.3 0 1 0 6.6 0a3.3 3.3 0 1 0 -6.6 0 M1127.8 396.7a3.3 3.3 0 1 0 6.6 0a3.3 3.3 0 1 0 -6.6 0 M1135.2 400.9a3.3 3.3 0 1 0 6.6 0a3.3 3.3 0 1 0 -6.6 0 M1142.6 405.1a3.3 3.3 0 1 0 6.6 0a3.3 3.3 0 1 0 -6.6 0 M1150 409.5a3.3 3.3 0 1 0 6.6 0a3.3 3.3 0 1 0 -6.6 0 M1157.2 413.9a3.3 3.3 0 1 0 6.6 0a3.3 3.3 0 1 0 -6.6 0 M1164.4 418.5a3.3 3.3 0 1 0 6.6 0a3.3 3.3 0 1 0 -6.6 0 M1171.6 423.2a3.3 3.3 0 1 0 6.6 0a3.3 3.3 0 1 0 -6.6 0 M1178.6 428a3.3 3.3 0 1 0 6.6 0a3.3 3.3 0 1 0 -6.6 0 M1185.6 432.9a3.3 3.3 0 1 0 6.6 0a3.3 3.3 0 1 0 -6.6 0 M1192.5 438a3.3 3.3 0 1 0 6.6 0a3.3 3.3 0 1 0 -6.6 0 M1199.2 443.1a3.3 3.3 0 1 0 6.6 0a3.3 3.3 0 1 0 -6.6 0 M1205.9 448.4a3.3 3.3 0 1 0 6.6 0a3.3 3.3 0 1 0 -6.6 0 M1212.5 453.8a3.3 3.3 0 1 0 6.6 0a3.3 3.3 0 1 0 -6.6 0 M1219 459.4a3.3 3.3 0 1 0 6.6 0a3.3 3.3 0 1 0 -6.6 0 M1225.3 465.1a3.3 3.3 0 1 0 6.6 0a3.3 3.3 0 1 0 -6.6 0 M1231.5 470.9a3.3 3.3 0 1 0 6.6 0a3.3 3.3 0 1 0 -6.6 0 M1237.6 476.9a3.3 3.3 0 1 0 6.6 0a3.3 3.3 0 1 0 -6.6 0 M1243.6 483a3.3 3.3 0 1 0 6.6 0a3.3 3.3 0 1 0 -6.6 0 M1249.3 489.3a3.3 3.3 0 1 0 6.6 0a3.3 3.3 0 1 0 -6.6 0 M1254.9 495.8a3.3 3.3 0 1 0 6.6 0a3.3 3.3 0 1 0 -6.6 0 M1260.3 502.3a3.3 3.3 0 1 0 6.6 0a3.3 3.3 0 1 0 -6.6 0 M1265.5 509.1a3.3 3.3 0 1 0 6.6 0a3.3 3.3 0 1 0 -6.6 0 M1270.5 516a3.3 3.3 0 1 0 6.6 0a3.3 3.3 0 1 0 -6.6 0 M1275.3 523.1a3.3 3.3 0 1 0 6.6 0a3.3 3.3 0 1 0 -6.6 0 M1279.8 530.3a3.3 3.3 0 1 0 6.6 0a3.3 3.3 0 1 0 -6.6 0 M1284.1 537.7a3.3 3.3 0 1 0 6.6 0a3.3 3.3 0 1 0 -6.6 0 M1288 545.3a3.3 3.3 0 1 0 6.6 0a3.3 3.3 0 1 0 -6.6 0 M1291.7 553a3.3 3.3 0 1 0 6.6 0a3.3 3.3 0 1 0 -6.6 0 M1295 560.8a3.3 3.3 0 1 0 6.6 0a3.3 3.3 0 1 0 -6.6 0 M1297.9 568.8a3.3 3.3 0 1 0 6.6 0a3.3 3.3 0 1 0 -6.6 0 M1300.5 577a3.3 3.3 0 1 0 6.6 0a3.3 3.3 0 1 0 -6.6 0 M1302.7 585.2a3.3 3.3 0 1 0 6.6 0a3.3 3.3 0 1 0 -6.6 0 M1304.4 593.6a3.3 3.3 0 1 0 6.6 0a3.3 3.3 0 1 0 -6.6 0 M1305.7 602a3.3 3.3 0 1 0 6.6 0a3.3 3.3 0 1 0 -6.6 0 M1306.5 610.5a3.3 3.3 0 1 0 6.6 0a3.3 3.3 0 1 0 -6.6 0 M1306.8 619a3.3 3.3 0 1 0 6.6 0a3.3 3.3 0 1 0 -6.6 0 M32.2 619a3.3 3.3 0 1 0 6.6 0a3.3 3.3 0 1 0 -6.6 0 M32.4 611.9a3.3 3.3 0 1 0 6.6 0a3.3 3.3 0 1 0 -6.6 0 M33.1 604.7a3.3 3.3 0 1 0 6.6 0a3.3 3.3 0 1 0 -6.6 0 M34.2 597.4a3.3 3.3 0 1 0 6.6 0a3.3 3.3 0 1 0 -6.6 0 M35.7 590.2a3.3 3.3 0 1 0 6.6 0a3.3 3.3 0 1 0 -6.6 0 M37.6 583a3.3 3.3 0 1 0 6.6 0a3.3 3.3 0 1 0 -6.6 0 M39.9 575.9a3.3 3.3 0 1 0 6.6 0a3.3 3.3 0 1 0 -6.6 0 M42.5 568.8a3.3 3.3 0 1 0 6.6 0a3.3 3.3 0 1 0 -6.6 0 M45.5 561.8a3.3 3.3 0 1 0 6.6 0a3.3 3.3 0 1 0 -6.6 0 M48.7 554.9a3.3 3.3 0 1 0 6.6 0a3.3 3.3 0 1 0 -6.6 0 M52.3 548.1a3.3 3.3 0 1 0 6.6 0a3.3 3.3 0 1 0 -6.6 0 M56.1 541.4a3.3 3.3 0 1 0 6.6 0a3.3 3.3 0 1 0 -6.6 0 M60.2 534.8a3.3 3.3 0 1 0 6.6 0a3.3 3.3 0 1 0 -6.6 0 M64.6 528.4a3.3 3.3 0 1 0 6.6 0a3.3 3.3 0 1 0 -6.6 0 M69.2 522a3.3 3.3 0 1 0 6.6 0a3.3 3.3 0 1 0 -6.6 0 M74 515.8a3.3 3.3 0 1 0 6.6 0a3.3 3.3 0 1 0 -6.6 0 M79 509.7a3.3 3.3 0 1 0 6.6 0a3.3 3.3 0 1 0 -6.6 0 M84.2 503.7a3.3 3.3 0 1 0 6.6 0a3.3 3.3 0 1 0 -6.6 0 M89.6 497.9a3.3 3.3 0 1 0 6.6 0a3.3 3.3 0 1 0 -6.6 0 M95.1 492.1a3.3 3.3 0 1 0 6.6 0a3.3 3.3 0 1 0 -6.6 0 M100.8 486.5a3.3 3.3 0 1 0 6.6 0a3.3 3.3 0 1 0 -6.6 0 M106.7 481a3.3 3.3 0 1 0 6.6 0a3.3 3.3 0 1 0 -6.6 0 M112.7 475.6a3.3 3.3 0 1 0 6.6 0a3.3 3.3 0 1 0 -6.6 0 M118.8 470.4a3.3 3.3 0 1 0 6.6 0a3.3 3.3 0 1 0 -6.6 0 M125 465.2a3.3 3.3 0 1 0 6.6 0a3.3 3.3 0 1 0 -6.6 0 M131.4 460.2a3.3 3.3 0 1 0 6.6 0a3.3 3.3 0 1 0 -6.6 0 M137.9 455.3a3.3 3.3 0 1 0 6.6 0a3.3 3.3 0 1 0 -6.6 0 M144.4 450.5a3.3 3.3 0 1 0 6.6 0a3.3 3.3 0 1 0 -6.6 0 M151.1 445.8a3.3 3.3 0 1 0 6.6 0a3.3 3.3 0 1 0 -6.6 0 M157.8 441.2a3.3 3.3 0 1 0 6.6 0a3.3 3.3 0 1 0 -6.6 0 M164.7 436.7a3.3 3.3 0 1 0 6.6 0a3.3 3.3 0 1 0 -6.6 0 M171.6 432.3a3.3 3.3 0 1 0 6.6 0a3.3 3.3 0 1 0 -6.6 0 M178.6 428a3.3 3.3 0 1 0 6.6 0a3.3 3.3 0 1 0 -6.6 0 M185.7 423.8a3.3 3.3 0 1 0 6.6 0a3.3 3.3 0 1 0 -6.6 0 M192.8 419.7a3.3 3.3 0 1 0 6.6 0a3.3 3.3 0 1 0 -6.6 0 M200 415.7a3.3 3.3 0 1 0 6.6 0a3.3 3.3 0 1 0 -6.6 0 M207.2 411.8a3.3 3.3 0 1 0 6.6 0a3.3 3.3 0 1 0 -6.6 0 M214.6 408a3.3 3.3 0 1 0 6.6 0a3.3 3.3 0 1 0 -6.6 0 M221.9 404.2a3.3 3.3 0 1 0 6.6 0a3.3 3.3 0 1 0 -6.6 0 M229.3 400.6a3.3 3.3 0 1 0 6.6 0a3.3 3.3 0 1 0 -6.6 0 M236.8 397.1a3.3 3.3 0 1 0 6.6 0a3.3 3.3 0 1 0 -6.6 0 M244.3 393.6a3.3 3.3 0 1 0 6.6 0a3.3 3.3 0 1 0 -6.6 0 M251.9 390.2a3.3 3.3 0 1 0 6.6 0a3.3 3.3 0 1 0 -6.6 0 M259.5 386.9a3.3 3.3 0 1 0 6.6 0a3.3 3.3 0 1 0 -6.6 0 M267.2 383.7a3.3 3.3 0 1 0 6.6 0a3.3 3.3 0 1 0 -6.6 0 M274.8 380.6a3.3 3.3 0 1 0 6.6 0a3.3 3.3 0 1 0 -6.6 0 M282.6 377.5a3.3 3.3 0 1 0 6.6 0a3.3 3.3 0 1 0 -6.6 0 M290.3 374.5a3.3 3.3 0 1 0 6.6 0a3.3 3.3 0 1 0 -6.6 0 M298.1 371.6a3.3 3.3 0 1 0 6.6 0a3.3 3.3 0 1 0 -6.6 0 M305.9 368.8a3.3 3.3 0 1 0 6.6 0a3.3 3.3 0 1 0 -6.6 0 M313.8 366a3.3 3.3 0 1 0 6.6 0a3.3 3.3 0 1 0 -6.6 0 M321.7 363.3a3.3 3.3 0 1 0 6.6 0a3.3 3.3 0 1 0 -6.6 0 M329.6 360.7a3.3 3.3 0 1 0 6.6 0a3.3 3.3 0 1 0 -6.6 0 M337.5 358.2a3.3 3.3 0 1 0 6.6 0a3.3 3.3 0 1 0 -6.6 0 M345.5 355.7a3.3 3.3 0 1 0 6.6 0a3.3 3.3 0 1 0 -6.6 0 M353.5 353.3a3.3 3.3 0 1 0 6.6 0a3.3 3.3 0 1 0 -6.6 0 M361.5 351a3.3 3.3 0 1 0 6.6 0a3.3 3.3 0 1 0 -6.6 0 M369.5 348.8a3.3 3.3 0 1 0 6.6 0a3.3 3.3 0 1 0 -6.6 0 M377.5 346.6a3.3 3.3 0 1 0 6.6 0a3.3 3.3 0 1 0 -6.6 0 M385.6 344.4a3.3 3.3 0 1 0 6.6 0a3.3 3.3 0 1 0 -6.6 0 M393.7 342.4a3.3 3.3 0 1 0 6.6 0a3.3 3.3 0 1 0 -6.6 0 M401.8 340.4a3.3 3.3 0 1 0 6.6 0a3.3 3.3 0 1 0 -6.6 0 M410 338.5a3.3 3.3 0 1 0 6.6 0a3.3 3.3 0 1 0 -6.6 0 M418.1 336.6a3.3 3.3 0 1 0 6.6 0a3.3 3.3 0 1 0 -6.6 0 M426.3 334.8a3.3 3.3 0 1 0 6.6 0a3.3 3.3 0 1 0 -6.6 0 M434.4 333.1a3.3 3.3 0 1 0 6.6 0a3.3 3.3 0 1 0 -6.6 0 M442.6 331.4a3.3 3.3 0 1 0 6.6 0a3.3 3.3 0 1 0 -6.6 0 M450.8 329.8a3.3 3.3 0 1 0 6.6 0a3.3 3.3 0 1 0 -6.6 0 M459.1 328.3a3.3 3.3 0 1 0 6.6 0a3.3 3.3 0 1 0 -6.6 0 M467.3 326.8a3.3 3.3 0 1 0 6.6 0a3.3 3.3 0 1 0 -6.6 0 M475.5 325.4a3.3 3.3 0 1 0 6.6 0a3.3 3.3 0 1 0 -6.6 0 M483.8 324a3.3 3.3 0 1 0 6.6 0a3.3 3.3 0 1 0 -6.6 0 M492.1 322.7a3.3 3.3 0 1 0 6.6 0a3.3 3.3 0 1 0 -6.6 0 M500.3 321.5a3.3 3.3 0 1 0 6.6 0a3.3 3.3 0 1 0 -6.6 0 M508.6 320.3a3.3 3.3 0 1 0 6.6 0a3.3 3.3 0 1 0 -6.6 0 M516.9 319.2a3.3 3.3 0 1 0 6.6 0a3.3 3.3 0 1 0 -6.6 0 M525.2 318.2a3.3 3.3 0 1 0 6.6 0a3.3 3.3 0 1 0 -6.6 0 M533.5 317.2a3.3 3.3 0 1 0 6.6 0a3.3 3.3 0 1 0 -6.6 0 M541.9 316.3a3.3 3.3 0 1 0 6.6 0a3.3 3.3 0 1 0 -6.6 0 M550.2 315.4a3.3 3.3 0 1 0 6.6 0a3.3 3.3 0 1 0 -6.6 0 M558.5 314.6a3.3 3.3 0 1 0 6.6 0a3.3 3.3 0 1 0 -6.6 0 M566.8 313.8a3.3 3.3 0 1 0 6.6 0a3.3 3.3 0 1 0 -6.6 0 M575.2 313.2a3.3 3.3 0 1 0 6.6 0a3.3 3.3 0 1 0 -6.6 0 M583.5 312.5a3.3 3.3 0 1 0 6.6 0a3.3 3.3 0 1 0 -6.6 0 M591.9 312a3.3 3.3 0 1 0 6.6 0a3.3 3.3 0 1 0 -6.6 0 M600.2 311.5a3.3 3.3 0 1 0 6.6 0a3.3 3.3 0 1 0 -6.6 0 M608.6 311.1a3.3 3.3 0 1 0 6.6 0a3.3 3.3 0 1 0 -6.6 0 M616.9 310.7a3.3 3.3 0 1 0 6.6 0a3.3 3.3 0 1 0 -6.6 0 M625.3 310.4a3.3 3.3 0 1 0 6.6 0a3.3 3.3 0 1 0 -6.6 0 M633.7 310.1a3.3 3.3 0 1 0 6.6 0a3.3 3.3 0 1 0 -6.6 0 M642 309.9a3.3 3.3 0 1 0 6.6 0a3.3 3.3 0 1 0 -6.6 0 M650.4 309.8a3.3 3.3 0 1 0 6.6 0a3.3 3.3 0 1 0 -6.6 0 M658.7 309.8a3.3 3.3 0 1 0 6.6 0a3.3 3.3 0 1 0 -6.6 0 M667 309.8a3.3 3.3 0 1 0 6.6 0a3.3 3.3 0 1 0 -6.6 0 M675.4 309.9a3.3 3.3 0 1 0 6.6 0a3.3 3.3 0 1 0 -6.6 0 M683.7 310.1a3.3 3.3 0 1 0 6.6 0a3.3 3.3 0 1 0 -6.6 0 M692.1 310.4a3.3 3.3 0 1 0 6.6 0a3.3 3.3 0 1 0 -6.6 0 M700.5 310.7a3.3 3.3 0 1 0 6.6 0a3.3 3.3 0 1 0 -6.6 0 M708.8 311.1a3.3 3.3 0 1 0 6.6 0a3.3 3.3 0 1 0 -6.6 0 M717.2 311.5a3.3 3.3 0 1 0 6.6 0a3.3 3.3 0 1 0 -6.6 0 M725.5 312a3.3 3.3 0 1 0 6.6 0a3.3 3.3 0 1 0 -6.6 0 M733.9 312.5a3.3 3.3 0 1 0 6.6 0a3.3 3.3 0 1 0 -6.6 0 M742.2 313.2a3.3 3.3 0 1 0 6.6 0a3.3 3.3 0 1 0 -6.6 0 M750.6 313.8a3.3 3.3 0 1 0 6.6 0a3.3 3.3 0 1 0 -6.6 0 M758.9 314.6a3.3 3.3 0 1 0 6.6 0a3.3 3.3 0 1 0 -6.6 0 M767.2 315.4a3.3 3.3 0 1 0 6.6 0a3.3 3.3 0 1 0 -6.6 0 M775.5 316.3a3.3 3.3 0 1 0 6.6 0a3.3 3.3 0 1 0 -6.6 0 M783.9 317.2a3.3 3.3 0 1 0 6.6 0a3.3 3.3 0 1 0 -6.6 0 M792.2 318.2a3.3 3.3 0 1 0 6.6 0a3.3 3.3 0 1 0 -6.6 0 M800.5 319.2a3.3 3.3 0 1 0 6.6 0a3.3 3.3 0 1 0 -6.6 0 M808.8 320.3a3.3 3.3 0 1 0 6.6 0a3.3 3.3 0 1 0 -6.6 0 M817.1 321.5a3.3 3.3 0 1 0 6.6 0a3.3 3.3 0 1 0 -6.6 0 M825.3 322.7a3.3 3.3 0 1 0 6.6 0a3.3 3.3 0 1 0 -6.6 0 M833.6 324a3.3 3.3 0 1 0 6.6 0a3.3 3.3 0 1 0 -6.6 0 M841.9 325.4a3.3 3.3 0 1 0 6.6 0a3.3 3.3 0 1 0 -6.6 0 M850.1 326.8a3.3 3.3 0 1 0 6.6 0a3.3 3.3 0 1 0 -6.6 0 M858.3 328.3a3.3 3.3 0 1 0 6.6 0a3.3 3.3 0 1 0 -6.6 0 M866.6 329.8a3.3 3.3 0 1 0 6.6 0a3.3 3.3 0 1 0 -6.6 0 M874.8 331.4a3.3 3.3 0 1 0 6.6 0a3.3 3.3 0 1 0 -6.6 0 M883 333.1a3.3 3.3 0 1 0 6.6 0a3.3 3.3 0 1 0 -6.6 0 M891.1 334.8a3.3 3.3 0 1 0 6.6 0a3.3 3.3 0 1 0 -6.6 0 M899.3 336.6a3.3 3.3 0 1 0 6.6 0a3.3 3.3 0 1 0 -6.6 0 M907.4 338.5a3.3 3.3 0 1 0 6.6 0a3.3 3.3 0 1 0 -6.6 0 M915.6 340.4a3.3 3.3 0 1 0 6.6 0a3.3 3.3 0 1 0 -6.6 0 M923.7 342.4a3.3 3.3 0 1 0 6.6 0a3.3 3.3 0 1 0 -6.6 0 M931.8 344.4a3.3 3.3 0 1 0 6.6 0a3.3 3.3 0 1 0 -6.6 0 M939.9 346.6a3.3 3.3 0 1 0 6.6 0a3.3 3.3 0 1 0 -6.6 0 M947.9 348.8a3.3 3.3 0 1 0 6.6 0a3.3 3.3 0 1 0 -6.6 0 M955.9 351a3.3 3.3 0 1 0 6.6 0a3.3 3.3 0 1 0 -6.6 0 M963.9 353.3a3.3 3.3 0 1 0 6.6 0a3.3 3.3 0 1 0 -6.6 0 M971.9 355.7a3.3 3.3 0 1 0 6.6 0a3.3 3.3 0 1 0 -6.6 0 M979.9 358.2a3.3 3.3 0 1 0 6.6 0a3.3 3.3 0 1 0 -6.6 0 M987.8 360.7a3.3 3.3 0 1 0 6.6 0a3.3 3.3 0 1 0 -6.6 0 M995.7 363.3a3.3 3.3 0 1 0 6.6 0a3.3 3.3 0 1 0 -6.6 0 M1003.6 366a3.3 3.3 0 1 0 6.6 0a3.3 3.3 0 1 0 -6.6 0 M1011.5 368.8a3.3 3.3 0 1 0 6.6 0a3.3 3.3 0 1 0 -6.6 0 M1019.3 371.6a3.3 3.3 0 1 0 6.6 0a3.3 3.3 0 1 0 -6.6 0 M1027.1 374.5a3.3 3.3 0 1 0 6.6 0a3.3 3.3 0 1 0 -6.6 0 M1034.8 377.5a3.3 3.3 0 1 0 6.6 0a3.3 3.3 0 1 0 -6.6 0 M1042.6 380.6a3.3 3.3 0 1 0 6.6 0a3.3 3.3 0 1 0 -6.6 0 M1050.2 383.7a3.3 3.3 0 1 0 6.6 0a3.3 3.3 0 1 0 -6.6 0 M1057.9 386.9a3.3 3.3 0 1 0 6.6 0a3.3 3.3 0 1 0 -6.6 0 M1065.5 390.2a3.3 3.3 0 1 0 6.6 0a3.3 3.3 0 1 0 -6.6 0 M1073.1 393.6a3.3 3.3 0 1 0 6.6 0a3.3 3.3 0 1 0 -6.6 0 M1080.6 397.1a3.3 3.3 0 1 0 6.6 0a3.3 3.3 0 1 0 -6.6 0 M1088.1 400.6a3.3 3.3 0 1 0 6.6 0a3.3 3.3 0 1 0 -6.6 0 M1095.5 404.2a3.3 3.3 0 1 0 6.6 0a3.3 3.3 0 1 0 -6.6 0 M1102.8 408a3.3 3.3 0 1 0 6.6 0a3.3 3.3 0 1 0 -6.6 0 M1110.2 411.8a3.3 3.3 0 1 0 6.6 0a3.3 3.3 0 1 0 -6.6 0 M1117.4 415.7a3.3 3.3 0 1 0 6.6 0a3.3 3.3 0 1 0 -6.6 0 M1124.6 419.7a3.3 3.3 0 1 0 6.6 0a3.3 3.3 0 1 0 -6.6 0 M1131.7 423.8a3.3 3.3 0 1 0 6.6 0a3.3 3.3 0 1 0 -6.6 0 M1138.8 428a3.3 3.3 0 1 0 6.6 0a3.3 3.3 0 1 0 -6.6 0 M1145.8 432.3a3.3 3.3 0 1 0 6.6 0a3.3 3.3 0 1 0 -6.6 0 M1152.7 436.7a3.3 3.3 0 1 0 6.6 0a3.3 3.3 0 1 0 -6.6 0 M1159.6 441.2a3.3 3.3 0 1 0 6.6 0a3.3 3.3 0 1 0 -6.6 0 M1166.3 445.8a3.3 3.3 0 1 0 6.6 0a3.3 3.3 0 1 0 -6.6 0 M1173 450.5a3.3 3.3 0 1 0 6.6 0a3.3 3.3 0 1 0 -6.6 0 M1179.5 455.3a3.3 3.3 0 1 0 6.6 0a3.3 3.3 0 1 0 -6.6 0 M1186 460.2a3.3 3.3 0 1 0 6.6 0a3.3 3.3 0 1 0 -6.6 0 M1192.4 465.2a3.3 3.3 0 1 0 6.6 0a3.3 3.3 0 1 0 -6.6 0 M1198.6 470.4a3.3 3.3 0 1 0 6.6 0a3.3 3.3 0 1 0 -6.6 0 M1204.7 475.6a3.3 3.3 0 1 0 6.6 0a3.3 3.3 0 1 0 -6.6 0 M1210.7 481a3.3 3.3 0 1 0 6.6 0a3.3 3.3 0 1 0 -6.6 0 M1216.6 486.5a3.3 3.3 0 1 0 6.6 0a3.3 3.3 0 1 0 -6.6 0 M1222.3 492.1a3.3 3.3 0 1 0 6.6 0a3.3 3.3 0 1 0 -6.6 0 M1227.8 497.9a3.3 3.3 0 1 0 6.6 0a3.3 3.3 0 1 0 -6.6 0 M1233.2 503.7a3.3 3.3 0 1 0 6.6 0a3.3 3.3 0 1 0 -6.6 0 M1238.4 509.7a3.3 3.3 0 1 0 6.6 0a3.3 3.3 0 1 0 -6.6 0 M1243.4 515.8a3.3 3.3 0 1 0 6.6 0a3.3 3.3 0 1 0 -6.6 0 M1248.2 522a3.3 3.3 0 1 0 6.6 0a3.3 3.3 0 1 0 -6.6 0 M1252.8 528.4a3.3 3.3 0 1 0 6.6 0a3.3 3.3 0 1 0 -6.6 0 M1257.2 534.8a3.3 3.3 0 1 0 6.6 0a3.3 3.3 0 1 0 -6.6 0 M1261.3 541.4a3.3 3.3 0 1 0 6.6 0a3.3 3.3 0 1 0 -6.6 0 M1265.1 548.1a3.3 3.3 0 1 0 6.6 0a3.3 3.3 0 1 0 -6.6 0 M1268.7 554.9a3.3 3.3 0 1 0 6.6 0a3.3 3.3 0 1 0 -6.6 0 M1271.9 561.8a3.3 3.3 0 1 0 6.6 0a3.3 3.3 0 1 0 -6.6 0 M1274.9 568.8a3.3 3.3 0 1 0 6.6 0a3.3 3.3 0 1 0 -6.6 0 M1277.5 575.9a3.3 3.3 0 1 0 6.6 0a3.3 3.3 0 1 0 -6.6 0 M1279.8 583a3.3 3.3 0 1 0 6.6 0a3.3 3.3 0 1 0 -6.6 0 M1281.7 590.2a3.3 3.3 0 1 0 6.6 0a3.3 3.3 0 1 0 -6.6 0 M1283.2 597.4a3.3 3.3 0 1 0 6.6 0a3.3 3.3 0 1 0 -6.6 0 M1284.3 604.7a3.3 3.3 0 1 0 6.6 0a3.3 3.3 0 1 0 -6.6 0 M1285 611.9a3.3 3.3 0 1 0 6.6 0a3.3 3.3 0 1 0 -6.6 0 M1285.2 619a3.3 3.3 0 1 0 6.6 0a3.3 3.3 0 1 0 -6.6 0" fill="#8e9bb3"/>
<path d="M13.9 948Q24.7 952.6 35.5 948 M13.9 948Q24.7 943.4 35.5 948 M14.2 956.5Q25.3 960.4 35.7 955.2 M14.2 956.5Q24.7 951.3 35.7 955.2 M15 965.1Q26.3 968.3 36.4 962.4 M15 965.1Q25.1 959.2 36.4 962.4 M16.3 973.5Q27.7 976.1 37.5 969.7 M16.3 973.5Q26.1 967.1 37.5 969.7 M18 981.9Q29.5 983.9 39 977 M18 981.9Q27.4 975 39 977 M20.1 990.2Q31.8 991.6 40.9 984.2 M20.1 990.2Q29.2 982.8 40.9 984.2 M22.7 998.3Q34.4 999.2 43.1 991.4 M22.7 998.3Q31.4 990.5 43.1 991.4 M25.6 1006.3Q37.3 1006.7 45.7 998.5 M25.6 1006.3Q34 998.1 45.7 998.5 M28.9 1014.2Q40.6 1014.1 48.6 1005.5 M28.9 1014.2Q36.9 1005.7 48.6 1005.5 M32.5 1022Q44.2 1021.4 51.9 1012.5 M32.5 1022Q40.1 1013.1 51.9 1012.5 M36.4 1029.6Q48.1 1028.5 55.4 1019.3 M36.4 1029.6Q43.7 1020.4 55.4 1019.3 M40.6 1037Q52.3 1035.5 59.2 1026 M40.6 1037Q47.6 1027.6 59.2 1026 M45.1 1044.3Q56.7 1042.4 63.3 1032.7 M45.1 1044.3Q51.7 1034.6 63.3 1032.7 M49.8 1051.4Q61.3 1049.1 67.6 1039.2 M49.8 1051.4Q56.1 1041.5 67.6 1039.2 M54.8 1058.4Q66.2 1055.7 72.2 1045.6 M54.8 1058.4Q60.7 1048.3 72.2 1045.6 M60 1065.2Q71.3 1062.1 76.9 1051.8 M60 1065.2Q65.6 1054.9 76.9 1051.8 M65.3 1071.8Q76.6 1068.4 81.9 1058 M65.3 1071.8Q70.7 1061.4 81.9 1058 M70.9 1078.3Q82 1074.6 87.1 1064 M70.9 1078.3Q76 1067.7 87.1 1064 M76.6 1084.7Q87.7 1080.7 92.5 1069.9 M76.6 1084.7Q81.4 1073.9 92.5 1069.9 M82.5 1090.8Q93.5 1086.6 98 1075.7 M82.5 1090.8Q87 1080 98 1075.7 M88.6 1096.9Q99.4 1092.3 103.7 1081.4 M88.6 1096.9Q92.8 1085.9 103.7 1081.4 M94.8 1102.8Q105.5 1098 109.5 1087 M94.8 1102.8Q98.8 1091.7 109.5 1087 M101.1 1108.5Q111.7 1103.5 115.5 1092.4 M101.1 1108.5Q104.9 1097.4 115.5 1092.4 M107.6 1114.1Q118.1 1108.9 121.6 1097.7 M107.6 1114.1Q111.1 1102.9 121.6 1097.7 M114.1 1119.6Q124.5 1114.2 127.8 1102.9 M114.1 1119.6Q117.4 1108.3 127.8 1102.9 M120.8 1125Q131.1 1119.3 134.1 1108 M120.8 1125Q123.9 1113.6 134.1 1108 M127.6 1130.2Q137.7 1124.3 140.6 1112.9 M127.6 1130.2Q130.4 1118.8 140.6 1112.9 M134.4 1135.3Q144.5 1129.2 147.1 1117.8 M134.4 1135.3Q137.1 1123.8 147.1 1117.8 M141.4 1140.2Q151.4 1134 153.8 1122.6 M141.4 1140.2Q143.8 1128.8 153.8 1122.6 M148.4 1145.1Q158.3 1138.7 160.5 1127.2 M148.4 1145.1Q150.7 1133.6 160.5 1127.2 M155.5 1149.8Q165.3 1143.3 167.4 1131.8 M155.5 1149.8Q157.6 1138.3 167.4 1131.8 M162.7 1154.5Q172.4 1147.8 174.3 1136.2 M162.7 1154.5Q164.6 1142.9 174.3 1136.2 M170 1159Q179.6 1152.1 181.3 1140.5 M170 1159Q171.7 1147.3 181.3 1140.5 M177.3 1163.4Q186.8 1156.4 188.3 1144.8 M177.3 1163.4Q178.9 1151.7 188.3 1144.8 M184.7 1167.7Q194.1 1160.6 195.4 1148.9 M184.7 1167.7Q186.1 1156 195.4 1148.9 M192.2 1171.9Q201.4 1164.6 202.6 1153 M192.2 1171.9Q193.4 1160.2 202.6 1153 M199.7 1175.9Q208.8 1168.6 209.9 1156.9 M199.7 1175.9Q200.7 1164.3 209.9 1156.9 M207.2 1179.9Q216.3 1172.5 217.2 1160.8 M207.2 1179.9Q208.1 1168.2 217.2 1160.8 M214.8 1183.8Q223.8 1176.3 224.6 1164.5 M214.8 1183.8Q215.6 1172.1 224.6 1164.5 M222.5 1187.6Q231.4 1179.9 232 1168.2 M222.5 1187.6Q223.1 1175.9 232 1168.2 M230.2 1191.3Q239 1183.5 239.5 1171.8 M230.2 1191.3Q230.7 1179.6 239.5 1171.8 M238 1195Q246.6 1187.1 247 1175.3 M238 1195Q238.3 1183.2 247 1175.3 M245.7 1198.5Q254.3 1190.5 254.5 1178.7 M245.7 1198.5Q245.9 1186.7 254.5 1178.7 M253.6 1201.9Q262.1 1193.8 262.1 1182.1 M253.6 1201.9Q253.6 1190.2 262.1 1182.1 M261.4 1205.3Q269.9 1197.1 269.8 1185.3 M261.4 1205.3Q261.4 1193.5 269.8 1185.3 M269.3 1208.5Q277.7 1200.3 277.5 1188.5 M269.3 1208.5Q269.1 1196.8 277.5 1188.5 M277.3 1211.7Q285.5 1203.4 285.2 1191.6 M277.3 1211.7Q277 1200 285.2 1191.6 M285.2 1214.8Q293.4 1206.4 293 1194.6 M285.2 1214.8Q284.8 1203.1 293 1194.6 M293.2 1217.8Q301.3 1209.3 300.8 1197.6 M293.2 1217.8Q292.7 1206.1 300.8 1197.6 M301.3 1220.8Q309.3 1212.2 308.6 1200.4 M301.3 1220.8Q300.6 1209 308.6 1200.4 M309.3 1223.6Q317.2 1214.9 316.4 1203.2 M309.3 1223.6Q308.5 1211.9 316.4 1203.2 M317.4 1226.4Q325.2 1217.6 324.3 1205.9 M317.4 1226.4Q316.5 1214.7 324.3 1205.9 M325.5 1229.1Q333.3 1220.3 332.3 1208.6 M325.5 1229.1Q324.5 1217.4 332.3 1208.6 M333.6 1231.7Q341.3 1222.8 340.2 1211.2 M333.6 1231.7Q332.5 1220.1 340.2 1211.2 M341.8 1234.3Q349.4 1225.3 348.2 1213.7 M341.8 1234.3Q340.6 1222.6 348.2 1213.7 M350 1236.8Q357.5 1227.7 356.2 1216.1 M350 1236.8Q348.7 1225.1 356.2 1216.1 M358.2 1239.2Q365.6 1230.1 364.2 1218.4 M358.2 1239.2Q356.8 1227.5 364.2 1218.4 M366.4 1241.5Q373.7 1232.4 372.2 1220.7 M366.4 1241.5Q364.9 1229.9 372.2 1220.7 M374.7 1243.8Q381.9 1234.6 380.3 1222.9 M374.7 1243.8Q373 1232.2 380.3 1222.9 M382.9 1246Q390.1 1236.7 388.4 1225.1 M382.9 1246Q381.2 1234.4 388.4 1225.1 M391.2 1248.1Q398.3 1238.8 396.5 1227.2 M391.2 1248.1Q389.4 1236.5 396.5 1227.2 M399.5 1250.2Q406.5 1240.8 404.6 1229.2 M399.5 1250.2Q397.6 1238.6 404.6 1229.2 M407.8 1252.2Q414.8 1242.7 412.7 1231.1 M407.8 1252.2Q405.8 1240.6 412.7 1231.1 M416.1 1254.1Q423 1244.6 420.9 1233 M416.1 1254.1Q414 1242.5 420.9 1233 M424.5 1255.9Q431.3 1246.4 429.1 1234.8 M424.5 1255.9Q422.3 1244.4 429.1 1234.8 M432.8 1257.7Q439.6 1248.1 437.3 1236.6 M432.8 1257.7Q430.6 1246.2 437.3 1236.6 M441.2 1259.5Q447.9 1249.8 445.5 1238.3 M441.2 1259.5Q438.8 1248 445.5 1238.3 M449.6 1261.1Q456.2 1251.4 453.7 1239.9 M449.6 1261.1Q447.1 1249.6 453.7 1239.9 M458 1262.7Q464.5 1252.9 461.9 1241.5 M458 1262.7Q455.4 1251.3 461.9 1241.5 M466.4 1264.2Q472.8 1254.4 470.2 1243 M466.4 1264.2Q463.8 1252.8 470.2 1243 M474.8 1265.7Q481.2 1255.8 478.4 1244.4 M474.8 1265.7Q472.1 1254.3 478.4 1244.4 M483.3 1267.1Q489.5 1257.2 486.7 1245.8 M483.3 1267.1Q480.5 1255.7 486.7 1245.8 M491.7 1268.4Q497.9 1258.5 495 1247.1 M491.7 1268.4Q488.8 1257.1 495 1247.1 M500.2 1269.7Q506.3 1259.7 503.3 1248.3 M500.2 1269.7Q497.2 1258.4 503.3 1248.3 M508.6 1270.9Q514.7 1260.9 511.6 1249.5 M508.6 1270.9Q505.6 1259.6 511.6 1249.5 M517.1 1272.1Q523.1 1262 519.9 1250.7 M517.1 1272.1Q513.9 1260.8 519.9 1250.7 M525.6 1273.1Q531.5 1263 528.2 1251.7 M525.6 1273.1Q522.3 1261.9 528.2 1251.7 M534.1 1274.2Q539.9 1264 536.6 1252.7 M534.1 1274.2Q530.7 1262.9 536.6 1252.7 M542.6 1275.1Q548.3 1264.9 544.9 1253.7 M542.6 1275.1Q539.2 1263.9 544.9 1253.7 M551.1 1276Q556.7 1265.7 553.2 1254.5 M551.1 1276Q547.6 1264.8 553.2 1254.5 M559.6 1276.9Q565.2 1266.5 561.6 1255.3 M559.6 1276.9Q556 1265.7 561.6 1255.3 M568.1 1277.6Q573.6 1267.3 569.9 1256.1 M568.1 1277.6Q564.4 1266.5 569.9 1256.1 M576.6 1278.3Q582 1267.9 578.3 1256.8 M576.6 1278.3Q572.9 1267.2 578.3 1256.8 M585.1 1279Q590.5 1268.5 586.7 1257.4 M585.1 1279Q581.3 1267.9 586.7 1257.4 M593.7 1279.5Q598.9 1269.1 595 1258 M593.7 1279.5Q589.8 1268.5 595 1258 M602.2 1280.1Q607.4 1269.5 603.4 1258.5 M602.2 1280.1Q598.2 1269 603.4 1258.5 M610.7 1280.5Q615.8 1269.9 611.8 1258.9 M610.7 1280.5Q606.7 1269.5 611.8 1258.9 M619.3 1280.9Q624.3 1270.3 620.2 1259.3 M619.3 1280.9Q615.1 1269.9 620.2 1259.3 M627.8 1281.2Q632.8 1270.6 628.5 1259.6 M627.8 1281.2Q623.6 1270.3 628.5 1259.6 M636.4 1281.5Q641.2 1270.8 636.9 1259.9 M636.4 1281.5Q632 1270.5 636.9 1259.9 M644.9 1281.6Q649.7 1270.9 645.3 1260 M644.9 1281.6Q640.5 1270.8 645.3 1260 M653.5 1281.8Q658.2 1271 653.6 1260.2 M653.5 1281.8Q649 1270.9 653.6 1260.2 M662 1281.8Q666.6 1271 662 1260.2 M662 1281.8Q657.4 1271 662 1260.2 M670.5 1281.8Q675 1270.9 670.4 1260.2 M670.5 1281.8Q665.8 1271 670.4 1260.2 M679.1 1281.6Q683.5 1270.8 678.7 1260 M679.1 1281.6Q674.3 1270.9 678.7 1260 M687.6 1281.5Q692 1270.5 687.1 1259.9 M687.6 1281.5Q682.8 1270.8 687.1 1259.9 M696.2 1281.2Q700.4 1270.3 695.5 1259.6 M696.2 1281.2Q691.2 1270.6 695.5 1259.6 M704.7 1280.9Q708.9 1269.9 703.8 1259.3 M704.7 1280.9Q699.7 1270.3 703.8 1259.3 M713.3 1280.5Q717.3 1269.5 712.2 1258.9 M713.3 1280.5Q708.2 1269.9 712.2 1258.9 M721.8 1280.1Q725.8 1269 720.6 1258.5 M721.8 1280.1Q716.6 1269.5 720.6 1258.5 M730.3 1279.5Q734.2 1268.5 729 1258 M730.3 1279.5Q725.1 1269.1 729 1258 M738.9 1279Q742.7 1267.9 737.3 1257.4 M738.9 1279Q733.5 1268.5 737.3 1257.4 M747.4 1278.3Q751.1 1267.2 745.7 1256.8 M747.4 1278.3Q742 1267.9 745.7 1256.8 M755.9 1277.6Q759.6 1266.5 754.1 1256.1 M755.9 1277.6Q750.4 1267.3 754.1 1256.1 M764.4 1276.9Q768 1265.7 762.4 1255.3 M764.4 1276.9Q758.8 1266.5 762.4 1255.3 M772.9 1276Q776.4 1264.8 770.8 1254.5 M772.9 1276Q767.3 1265.7 770.8 1254.5 M781.4 1275.1Q784.8 1263.9 779.1 1253.7 M781.4 1275.1Q775.7 1264.9 779.1 1253.7 M789.9 1274.2Q793.3 1262.9 787.4 1252.7 M789.9 1274.2Q784.1 1264 787.4 1252.7 M798.4 1273.1Q801.7 1261.9 795.8 1251.7 M798.4 1273.1Q792.5 1263 795.8 1251.7 M806.9 1272.1Q810.1 1260.8 804.1 1250.7 M806.9 1272.1Q800.9 1262 804.1 1250.7 M815.4 1270.9Q818.4 1259.6 812.4 1249.5 M815.4 1270.9Q809.3 1260.9 812.4 1249.5 M823.8 1269.7Q826.8 1258.4 820.7 1248.3 M823.8 1269.7Q817.7 1259.7 820.7 1248.3 M832.3 1268.4Q835.2 1257.1 829 1247.1 M832.3 1268.4Q826.1 1258.5 829 1247.1 M840.7 1267.1Q843.5 1255.7 837.3 1245.8 M840.7 1267.1Q834.5 1257.2 837.3 1245.8 M849.2 1265.7Q851.9 1254.3 845.6 1244.4 M849.2 1265.7Q842.8 1255.8 845.6 1244.4 M857.6 1264.2Q860.2 1252.8 853.8 1243 M857.6 1264.2Q851.2 1254.4 853.8 1243 M866 1262.7Q868.6 1251.3 862.1 1241.5 M866 1262.7Q859.5 1252.9 862.1 1241.5 M874.4 1261.1Q876.9 1249.6 870.3 1239.9 M874.4 1261.1Q867.8 1251.4 870.3 1239.9 M882.8 1259.5Q885.2 1248 878.5 1238.3 M882.8 1259.5Q876.1 1249.8 878.5 1238.3 M891.2 1257.7Q893.4 1246.2 886.7 1236.6 M891.2 1257.7Q884.4 1248.1 886.7 1236.6 M899.5 1255.9Q901.7 1244.4 894.9 1234.8 M899.5 1255.9Q892.7 1246.4 894.9 1234.8 M907.9 1254.1Q910 1242.5 903.1 1233 M907.9 1254.1Q901 1244.6 903.1 1233 M916.2 1252.2Q918.2 1240.6 911.3 1231.1 M916.2 1252.2Q909.2 1242.7 911.3 1231.1 M924.5 1250.2Q926.4 1238.6 919.4 1229.2 M924.5 1250.2Q917.5 1240.8 919.4 1229.2 M932.8 1248.1Q934.6 1236.5 927.5 1227.2 M932.8 1248.1Q925.7 1238.8 927.5 1227.2 M941.1 1246Q942.8 1234.4 935.6 1225.1 M941.1 1246Q933.9 1236.7 935.6 1225.1 M949.3 1243.8Q951 1232.2 943.7 1222.9 M949.3 1243.8Q942.1 1234.6 943.7 1222.9 M957.6 1241.5Q959.1 1229.9 951.8 1220.7 M957.6 1241.5Q950.3 1232.4 951.8 1220.7 M965.8 1239.2Q967.2 1227.5 959.8 1218.4 M965.8 1239.2Q958.4 1230.1 959.8 1218.4 M974 1236.8Q975.3 1225.1 967.8 1216.1 M974 1236.8Q966.5 1227.7 967.8 1216.1 M982.2 1234.3Q983.4 1222.6 975.8 1213.7 M982.2 1234.3Q974.6 1225.3 975.8 1213.7 M990.4 1231.7Q991.5 1220.1 983.8 1211.2 M990.4 1231.7Q982.7 1222.8 983.8 1211.2 M998.5 1229.1Q999.5 1217.4 991.7 1208.6 M998.5 1229.1Q990.7 1220.3 991.7 1208.6 M1006.6 1226.4Q1007.5 1214.7 999.7 1205.9 M1006.6 1226.4Q998.8 1217.6 999.7 1205.9 M1014.7 1223.6Q1015.5 1211.9 1007.6 1203.2 M1014.7 1223.6Q1006.8 1214.9 1007.6 1203.2 M1022.7 1220.8Q1023.4 1209 1015.4 1200.4 M1022.7 1220.8Q1014.7 1212.2 1015.4 1200.4 M1030.8 1217.8Q1031.3 1206.1 1023.2 1197.6 M1030.8 1217.8Q1022.7 1209.3 1023.2 1197.6 M1038.8 1214.8Q1039.2 1203.1 1031 1194.6 M1038.8 1214.8Q1030.6 1206.4 1031 1194.6 M1046.7 1211.7Q1047 1200 1038.8 1191.6 M1046.7 1211.7Q1038.5 1203.4 1038.8 1191.6 M1054.7 1208.5Q1054.9 1196.8 1046.5 1188.5 M1054.7 1208.5Q1046.3 1200.3 1046.5 1188.5 M1062.6 1205.3Q1062.6 1193.5 1054.2 1185.3 M1062.6 1205.3Q1054.1 1197.1 1054.2 1185.3 M1070.4 1201.9Q1070.4 1190.2 1061.9 1182.1 M1070.4 1201.9Q1061.9 1193.8 1061.9 1182.1 M1078.3 1198.5Q1078.1 1186.7 1069.5 1178.7 M1078.3 1198.5Q1069.7 1190.5 1069.5 1178.7 M1086 1195Q1085.7 1183.2 1077 1175.3 M1086 1195Q1077.4 1187.1 1077 1175.3 M1093.8 1191.3Q1093.3 1179.6 1084.5 1171.8 M1093.8 1191.3Q1085 1183.5 1084.5 1171.8 M1101.5 1187.6Q1100.9 1175.9 1092 1168.2 M1101.5 1187.6Q1092.6 1179.9 1092 1168.2 M1109.2 1183.8Q1108.4 1172.1 1099.4 1164.5 M1109.2 1183.8Q1100.2 1176.3 1099.4 1164.5 M1116.8 1179.9Q1115.9 1168.2 1106.8 1160.8 M1116.8 1179.9Q1107.7 1172.5 1106.8 1160.8 M1124.3 1175.9Q1123.3 1164.3 1114.1 1156.9 M1124.3 1175.9Q1115.2 1168.6 1114.1 1156.9 M1131.8 1171.9Q1130.6 1160.2 1121.4 1153 M1131.8 1171.9Q1122.6 1164.6 1121.4 1153 M1139.3 1167.7Q1137.9 1156 1128.6 1148.9 M1139.3 1167.7Q1129.9 1160.6 1128.6 1148.9 M1146.7 1163.4Q1145.1 1151.7 1135.7 1144.8 M1146.7 1163.4Q1137.2 1156.4 1135.7 1144.8 M1154 1159Q1152.3 1147.3 1142.7 1140.5 M1154 1159Q1144.4 1152.1 1142.7 1140.5 M1161.3 1154.5Q1159.4 1142.9 1149.7 1136.2 M1161.3 1154.5Q1151.6 1147.8 1149.7 1136.2 M1168.5 1149.8Q1166.4 1138.3 1156.6 1131.8 M1168.5 1149.8Q1158.7 1143.3 1156.6 1131.8 M1175.6 1145.1Q1173.3 1133.6 1163.5 1127.2 M1175.6 1145.1Q1165.7 1138.7 1163.5 1127.2 M1182.6 1140.2Q1180.2 1128.8 1170.2 1122.6 M1182.6 1140.2Q1172.6 1134 1170.2 1122.6 M1189.6 1135.3Q1186.9 1123.8 1176.9 1117.8 M1189.6 1135.3Q1179.5 1129.2 1176.9 1117.8 M1196.4 1130.2Q1193.6 1118.8 1183.4 1112.9 M1196.4 1130.2Q1186.3 1124.3 1183.4 1112.9 M1203.2 1125Q1200.1 1113.6 1189.9 1108 M1203.2 1125Q1192.9 1119.3 1189.9 1108 M1209.9 1119.6Q1206.6 1108.3 1196.2 1102.9 M1209.9 1119.6Q1199.5 1114.2 1196.2 1102.9 M1216.4 1114.1Q1212.9 1102.9 1202.4 1097.7 M1216.4 1114.1Q1205.9 1108.9 1202.4 1097.7 M1222.9 1108.5Q1219.1 1097.4 1208.5 1092.4 M1222.9 1108.5Q1212.3 1103.5 1208.5 1092.4 M1229.2 1102.8Q1225.2 1091.7 1214.5 1087 M1229.2 1102.8Q1218.5 1098 1214.5 1087 M1235.4 1096.9Q1231.2 1085.9 1220.3 1081.4 M1235.4 1096.9Q1224.6 1092.3 1220.3 1081.4 M1241.5 1090.8Q1237 1080 1226 1075.7 M1241.5 1090.8Q1230.5 1086.6 1226 1075.7 M1247.4 1084.7Q1242.6 1073.9 1231.5 1069.9 M1247.4 1084.7Q1236.3 1080.7 1231.5 1069.9 M1253.1 1078.3Q1248 1067.7 1236.9 1064 M1253.1 1078.3Q1242 1074.6 1236.9 1064 M1258.7 1071.8Q1253.3 1061.4 1242.1 1058 M1258.7 1071.8Q1247.4 1068.4 1242.1 1058 M1264 1065.2Q1258.4 1054.9 1247.1 1051.8 M1264 1065.2Q1252.7 1062.1 1247.1 1051.8 M1269.2 1058.4Q1263.3 1048.3 1251.8 1045.6 M1269.2 1058.4Q1257.8 1055.7 1251.8 1045.6 M1274.2 1051.4Q1267.9 1041.5 1256.4 1039.2 M1274.2 1051.4Q1262.7 1049.1 1256.4 1039.2 M1278.9 1044.3Q1272.3 1034.6 1260.7 1032.7 M1278.9 1044.3Q1267.3 1042.4 1260.7 1032.7 M1283.4 1037Q1276.4 1027.6 1264.8 1026 M1283.4 1037Q1271.7 1035.5 1264.8 1026 M1287.6 1029.6Q1280.3 1020.4 1268.6 1019.3 M1287.6 1029.6Q1275.9 1028.5 1268.6 1019.3 M1291.5 1022Q1283.9 1013.1 1272.1 1012.5 M1291.5 1022Q1279.8 1021.4 1272.1 1012.5 M1295.1 1014.2Q1287.1 1005.7 1275.4 1005.5 M1295.1 1014.2Q1283.4 1014.1 1275.4 1005.5 M1298.4 1006.3Q1290 998.1 1278.3 998.5 M1298.4 1006.3Q1286.7 1006.7 1278.3 998.5 M1301.3 998.3Q1292.6 990.5 1280.9 991.4 M1301.3 998.3Q1289.6 999.2 1280.9 991.4 M1303.9 990.2Q1294.8 982.8 1283.1 984.2 M1303.9 990.2Q1292.2 991.6 1283.1 984.2 M1306 981.9Q1296.6 975 1285 977 M1306 981.9Q1294.5 983.9 1285 977 M1307.7 973.5Q1297.9 967.1 1286.5 969.7 M1307.7 973.5Q1296.3 976.1 1286.5 969.7 M1309 965.1Q1298.9 959.2 1287.6 962.4 M1309 965.1Q1297.7 968.3 1287.6 962.4 M1309.8 956.5Q1299.3 951.3 1288.3 955.2 M1309.8 956.5Q1298.7 960.4 1288.3 955.2 M1310.1 948Q1299.3 943.4 1288.5 948 M1310.1 948Q1299.3 952.6 1288.5 948" fill="none" stroke="#a09a9a" stroke-width="0.7"/>
<path d="M10.6 948a3.3 3.3 0 1 0 6.6 0a3.3 3.3 0 1 0 -6.6 0 M10.9 956.5a3.3 3.3 0 1 0 6.6 0a3.3 3.3 0 1 0 -6.6 0 M11.7 965.1a3.3 3.3 0 1 0 6.6 0a3.3 3.3 0 1 0 -6.6 0 M13 973.5a3.3 3.3 0 1 0 6.6 0a3.3 3.3 0 1 0 -6.6 0 M14.7 981.9a3.3 3.3 0 1 0 6.6 0a3.3 3.3 0 1 0 -6.6 0 M16.8 990.2a3.3 3.3 0 1 0 6.6 0a3.3 3.3 0 1 0 -6.6 0 M19.4 998.3a3.3 3.3 0 1 0 6.6 0a3.3 3.3 0 1 0 -6.6 0 M22.3 1006.3a3.3 3.3 0 1 0 6.6 0a3.3 3.3 0 1 0 -6.6 0 M25.6 1014.2a3.3 3.3 0 1 0 6.6 0a3.3 3.3 0 1 0 -6.6 0 M29.2 1022a3.3 3.3 0 1 0 6.6 0a3.3 3.3 0 1 0 -6.6 0 M33.1 1029.6a3.3 3.3 0 1 0 6.6 0a3.3 3.3 0 1 0 -6.6 0 M37.3 1037a3.3 3.3 0 1 0 6.6 0a3.3 3.3 0 1 0 -6.6 0 M41.8 1044.3a3.3 3.3 0 1 0 6.6 0a3.3 3.3 0 1 0 -6.6 0 M46.5 1051.4a3.3 3.3 0 1 0 6.6 0a3.3 3.3 0 1 0 -6.6 0 M51.5 1058.4a3.3 3.3 0 1 0 6.6 0a3.3 3.3 0 1 0 -6.6 0 M56.7 1065.2a3.3 3.3 0 1 0 6.6 0a3.3 3.3 0 1 0 -6.6 0 M62 1071.8a3.3 3.3 0 1 0 6.6 0a3.3 3.3 0 1 0 -6.6 0 M67.6 1078.3a3.3 3.3 0 1 0 6.6 0a3.3 3.3 0 1 0 -6.6 0 M73.3 1084.7a3.3 3.3 0 1 0 6.6 0a3.3 3.3 0 1 0 -6.6 0 M79.2 1090.8a3.3 3.3 0 1 0 6.6 0a3.3 3.3 0 1 0 -6.6 0 M85.3 1096.9a3.3 3.3 0 1 0 6.6 0a3.3 3.3 0 1 0 -6.6 0 M91.5 1102.8a3.3 3.3 0 1 0 6.6 0a3.3 3.3 0 1 0 -6.6 0 M97.8 1108.5a3.3 3.3 0 1 0 6.6 0a3.3 3.3 0 1 0 -6.6 0 M104.3 1114.1a3.3 3.3 0 1 0 6.6 0a3.3 3.3 0 1 0 -6.6 0 M110.8 1119.6a3.3 3.3 0 1 0 6.6 0a3.3 3.3 0 1 0 -6.6 0 M117.5 1125a3.3 3.3 0 1 0 6.6 0a3.3 3.3 0 1 0 -6.6 0 M124.3 1130.2a3.3 3.3 0 1 0 6.6 0a3.3 3.3 0 1 0 -6.6 0 M131.1 1135.3a3.3 3.3 0 1 0 6.6 0a3.3 3.3 0 1 0 -6.6 0 M138.1 1140.2a3.3 3.3 0 1 0 6.6 0a3.3 3.3 0 1 0 -6.6 0 M145.1 1145.1a3.3 3.3 0 1 0 6.6 0a3.3 3.3 0 1 0 -6.6 0 M152.2 1149.8a3.3 3.3 0 1 0 6.6 0a3.3 3.3 0 1 0 -6.6 0 M159.4 1154.5a3.3 3.3 0 1 0 6.6 0a3.3 3.3 0 1 0 -6.6 0 M166.7 1159a3.3 3.3 0 1 0 6.6 0a3.3 3.3 0 1 0 -6.6 0 M174 1163.4a3.3 3.3 0 1 0 6.6 0a3.3 3.3 0 1 0 -6.6 0 M181.4 1167.7a3.3 3.3 0 1 0 6.6 0a3.3 3.3 0 1 0 -6.6 0 M188.9 1171.9a3.3 3.3 0 1 0 6.6 0a3.3 3.3 0 1 0 -6.6 0 M196.4 1175.9a3.3 3.3 0 1 0 6.6 0a3.3 3.3 0 1 0 -6.6 0 M203.9 1179.9a3.3 3.3 0 1 0 6.6 0a3.3 3.3 0 1 0 -6.6 0 M211.5 1183.8a3.3 3.3 0 1 0 6.6 0a3.3 3.3 0 1 0 -6.6 0 M219.2 1187.6a3.3 3.3 0 1 0 6.6 0a3.3 3.3 0 1 0 -6.6 0 M226.9 1191.3a3.3 3.3 0 1 0 6.6 0a3.3 3.3 0 1 0 -6.6 0 M234.7 1195a3.3 3.3 0 1 0 6.6 0a3.3 3.3 0 1 0 -6.6 0 M242.4 1198.5a3.3 3.3 0 1 0 6.6 0a3.3 3.3 0 1 0 -6.6 0 M250.3 1201.9a3.3 3.3 0 1 0 6.6 0a3.3 3.3 0 1 0 -6.6 0 M258.1 1205.3a3.3 3.3 0 1 0 6.6 0a3.3 3.3 0 1 0 -6.6 0 M266 1208.5a3.3 3.3 0 1 0 6.6 0a3.3 3.3 0 1 0 -6.6 0 M274 1211.7a3.3 3.3 0 1 0 6.6 0a3.3 3.3 0 1 0 -6.6 0 M281.9 1214.8a3.3 3.3 0 1 0 6.6 0a3.3 3.3 0 1 0 -6.6 0 M289.9 1217.8a3.3 3.3 0 1 0 6.6 0a3.3 3.3 0 1 0 -6.6 0 M298 1220.8a3.3 3.3 0 1 0 6.6 0a3.3 3.3 0 1 0 -6.6 0 M306 1223.6a3.3 3.3 0 1 0 6.6 0a3.3 3.3 0 1 0 -6.6 0 M314.1 1226.4a3.3 3.3 0 1 0 6.6 0a3.3 3.3 0 1 0 -6.6 0 M322.2 1229.1a3.3 3.3 0 1 0 6.6 0a3.3 3.3 0 1 0 -6.6 0 M330.3 1231.7a3.3 3.3 0 1 0 6.6 0a3.3 3.3 0 1 0 -6.6 0 M338.5 1234.3a3.3 3.3 0 1 0 6.6 0a3.3 3.3 0 1 0 -6.6 0 M346.7 1236.8a3.3 3.3 0 1 0 6.6 0a3.3 3.3 0 1 0 -6.6 0 M354.9 1239.2a3.3 3.3 0 1 0 6.6 0a3.3 3.3 0 1 0 -6.6 0 M363.1 1241.5a3.3 3.3 0 1 0 6.6 0a3.3 3.3 0 1 0 -6.6 0 M371.4 1243.8a3.3 3.3 0 1 0 6.6 0a3.3 3.3 0 1 0 -6.6 0 M379.6 1246a3.3 3.3 0 1 0 6.6 0a3.3 3.3 0 1 0 -6.6 0 M387.9 1248.1a3.3 3.3 0 1 0 6.6 0a3.3 3.3 0 1 0 -6.6 0 M396.2 1250.2a3.3 3.3 0 1 0 6.6 0a3.3 3.3 0 1 0 -6.6 0 M404.5 1252.2a3.3 3.3 0 1 0 6.6 0a3.3 3.3 0 1 0 -6.6 0 M412.8 1254.1a3.3 3.3 0 1 0 6.6 0a3.3 3.3 0 1 0 -6.6 0 M421.2 1255.9a3.3 3.3 0 1 0 6.6 0a3.3 3.3 0 1 0 -6.6 0 M429.5 1257.7a3.3 3.3 0 1 0 6.6 0a3.3 3.3 0 1 0 -6.6 0 M437.9 1259.5a3.3 3.3 0 1 0 6.6 0a3.3 3.3 0 1 0 -6.6 0 M446.3 1261.1a3.3 3.3 0 1 0 6.6 0a3.3 3.3 0 1 0 -6.6 0 M454.7 1262.7a3.3 3.3 0 1 0 6.6 0a3.3 3.3 0 1 0 -6.6 0 M463.1 1264.2a3.3 3.3 0 1 0 6.6 0a3.3 3.3 0 1 0 -6.6 0 M471.5 1265.7a3.3 3.3 0 1 0 6.6 0a3.3 3.3 0 1 0 -6.6 0 M480 1267.1a3.3 3.3 0 1 0 6.6 0a3.3 3.3 0 1 0 -6.6 0 M488.4 1268.4a3.3 3.3 0 1 0 6.6 0a3.3 3.3 0 1 0 -6.6 0 M496.9 1269.7a3.3 3.3 0 1 0 6.6 0a3.3 3.3 0 1 0 -6.6 0 M505.3 1270.9a3.3 3.3 0 1 0 6.6 0a3.3 3.3 0 1 0 -6.6 0 M513.8 1272.1a3.3 3.3 0 1 0 6.6 0a3.3 3.3 0 1 0 -6.6 0 M522.3 1273.1a3.3 3.3 0 1 0 6.6 0a3.3 3.3 0 1 0 -6.6 0 M530.8 1274.2a3.3 3.3 0 1 0 6.6 0a3.3 3.3 0 1 0 -6.6 0 M539.3 1275.1a3.3 3.3 0 1 0 6.6 0a3.3 3.3 0 1 0 -6.6 0 M547.8 1276a3.3 3.3 0 1 0 6.6 0a3.3 3.3 0 1 0 -6.6 0 M556.3 1276.9a3.3 3.3 0 1 0 6.6 0a3.3 3.3 0 1 0 -6.6 0 M564.8 1277.6a3.3 3.3 0 1 0 6.6 0a3.3 3.3 0 1 0 -6.6 0 M573.3 1278.3a3.3 3.3 0 1 0 6.6 0a3.3 3.3 0 1 0 -6.6 0 M581.8 1279a3.3 3.3 0 1 0 6.6 0a3.3 3.3 0 1 0 -6.6 0 M590.4 1279.5a3.3 3.3 0 1 0 6.6 0a3.3 3.3 0 1 0 -6.6 0 M598.9 1280.1a3.3 3.3 0 1 0 6.6 0a3.3 3.3 0 1 0 -6.6 0 M607.4 1280.5a3.3 3.3 0 1 0 6.6 0a3.3 3.3 0 1 0 -6.6 0 M616 1280.9a3.3 3.3 0 1 0 6.6 0a3.3 3.3 0 1 0 -6.6 0 M624.5 1281.2a3.3 3.3 0 1 0 6.6 0a3.3 3.3 0 1 0 -6.6 0 M633.1 1281.5a3.3 3.3 0 1 0 6.6 0a3.3 3.3 0 1 0 -6.6 0 M641.6 1281.6a3.3 3.3 0 1 0 6.6 0a3.3 3.3 0 1 0 -6.6 0 M650.2 1281.8a3.3 3.3 0 1 0 6.6 0a3.3 3.3 0 1 0 -6.6 0 M658.7 1281.8a3.3 3.3 0 1 0 6.6 0a3.3 3.3 0 1 0 -6.6 0 M667.2 1281.8a3.3 3.3 0 1 0 6.6 0a3.3 3.3 0 1 0 -6.6 0 M675.8 1281.6a3.3 3.3 0 1 0 6.6 0a3.3 3.3 0 1 0 -6.6 0 M684.3 1281.5a3.3 3.3 0 1 0 6.6 0a3.3 3.3 0 1 0 -6.6 0 M692.9 1281.2a3.3 3.3 0 1 0 6.6 0a3.3 3.3 0 1 0 -6.6 0 M701.4 1280.9a3.3 3.3 0 1 0 6.6 0a3.3 3.3 0 1 0 -6.6 0 M710 1280.5a3.3 3.3 0 1 0 6.6 0a3.3 3.3 0 1 0 -6.6 0 M718.5 1280.1a3.3 3.3 0 1 0 6.6 0a3.3 3.3 0 1 0 -6.6 0 M727 1279.5a3.3 3.3 0 1 0 6.6 0a3.3 3.3 0 1 0 -6.6 0 M735.6 1279a3.3 3.3 0 1 0 6.6 0a3.3 3.3 0 1 0 -6.6 0 M744.1 1278.3a3.3 3.3 0 1 0 6.6 0a3.3 3.3 0 1 0 -6.6 0 M752.6 1277.6a3.3 3.3 0 1 0 6.6 0a3.3 3.3 0 1 0 -6.6 0 M761.1 1276.9a3.3 3.3 0 1 0 6.6 0a3.3 3.3 0 1 0 -6.6 0 M769.6 1276a3.3 3.3 0 1 0 6.6 0a3.3 3.3 0 1 0 -6.6 0 M778.1 1275.1a3.3 3.3 0 1 0 6.6 0a3.3 3.3 0 1 0 -6.6 0 M786.6 1274.2a3.3 3.3 0 1 0 6.6 0a3.3 3.3 0 1 0 -6.6 0 M795.1 1273.1a3.3 3.3 0 1 0 6.6 0a3.3 3.3 0 1 0 -6.6 0 M803.6 1272.1a3.3 3.3 0 1 0 6.6 0a3.3 3.3 0 1 0 -6.6 0 M812.1 1270.9a3.3 3.3 0 1 0 6.6 0a3.3 3.3 0 1 0 -6.6 0 M820.5 1269.7a3.3 3.3 0 1 0 6.6 0a3.3 3.3 0 1 0 -6.6 0 M829 1268.4a3.3 3.3 0 1 0 6.6 0a3.3 3.3 0 1 0 -6.6 0 M837.4 1267.1a3.3 3.3 0 1 0 6.6 0a3.3 3.3 0 1 0 -6.6 0 M845.9 1265.7a3.3 3.3 0 1 0 6.6 0a3.3 3.3 0 1 0 -6.6 0 M854.3 1264.2a3.3 3.3 0 1 0 6.6 0a3.3 3.3 0 1 0 -6.6 0 M862.7 1262.7a3.3 3.3 0 1 0 6.6 0a3.3 3.3 0 1 0 -6.6 0 M871.1 1261.1a3.3 3.3 0 1 0 6.6 0a3.3 3.3 0 1 0 -6.6 0 M879.5 1259.5a3.3 3.3 0 1 0 6.6 0a3.3 3.3 0 1 0 -6.6 0 M887.9 1257.7a3.3 3.3 0 1 0 6.6 0a3.3 3.3 0 1 0 -6.6 0 M896.2 1255.9a3.3 3.3 0 1 0 6.6 0a3.3 3.3 0 1 0 -6.6 0 M904.6 1254.1a3.3 3.3 0 1 0 6.6 0a3.3 3.3 0 1 0 -6.6 0 M912.9 1252.2a3.3 3.3 0 1 0 6.6 0a3.3 3.3 0 1 0 -6.6 0 M921.2 1250.2a3.3 3.3 0 1 0 6.6 0a3.3 3.3 0 1 0 -6.6 0 M929.5 1248.1a3.3 3.3 0 1 0 6.6 0a3.3 3.3 0 1 0 -6.6 0 M937.8 1246a3.3 3.3 0 1 0 6.6 0a3.3 3.3 0 1 0 -6.6 0 M946 1243.8a3.3 3.3 0 1 0 6.6 0a3.3 3.3 0 1 0 -6.6 0 M954.3 1241.5a3.3 3.3 0 1 0 6.6 0a3.3 3.3 0 1 0 -6.6 0 M962.5 1239.2a3.3 3.3 0 1 0 6.6 0a3.3 3.3 0 1 0 -6.6 0 M970.7 1236.8a3.3 3.3 0 1 0 6.6 0a3.3 3.3 0 1 0 -6.6 0 M978.9 1234.3a3.3 3.3 0 1 0 6.6 0a3.3 3.3 0 1 0 -6.6 0 M987.1 1231.7a3.3 3.3 0 1 0 6.6 0a3.3 3.3 0 1 0 -6.6 0 M995.2 1229.1a3.3 3.3 0 1 0 6.6 0a3.3 3.3 0 1 0 -6.6 0 M1003.3 1226.4a3.3 3.3 0 1 0 6.6 0a3.3 3.3 0 1 0 -6.6 0 M1011.4 1223.6a3.3 3.3 0 1 0 6.6 0a3.3 3.3 0 1 0 -6.6 0 M1019.4 1220.8a3.3 3.3 0 1 0 6.6 0a3.3 3.3 0 1 0 -6.6 0 M1027.5 1217.8a3.3 3.3 0 1 0 6.6 0a3.3 3.3 0 1 0 -6.6 0 M1035.5 1214.8a3.3 3.3 0 1 0 6.6 0a3.3 3.3 0 1 0 -6.6 0 M1043.4 1211.7a3.3 3.3 0 1 0 6.6 0a3.3 3.3 0 1 0 -6.6 0 M1051.4 1208.5a3.3 3.3 0 1 0 6.6 0a3.3 3.3 0 1 0 -6.6 0 M1059.3 1205.3a3.3 3.3 0 1 0 6.6 0a3.3 3.3 0 1 0 -6.6 0 M1067.1 1201.9a3.3 3.3 0 1 0 6.6 0a3.3 3.3 0 1 0 -6.6 0 M1075 1198.5a3.3 3.3 0 1 0 6.6 0a3.3 3.3 0 1 0 -6.6 0 M1082.7 1195a3.3 3.3 0 1 0 6.6 0a3.3 3.3 0 1 0 -6.6 0 M1090.5 1191.3a3.3 3.3 0 1 0 6.6 0a3.3 3.3 0 1 0 -6.6 0 M1098.2 1187.6a3.3 3.3 0 1 0 6.6 0a3.3 3.3 0 1 0 -6.6 0 M1105.9 1183.8a3.3 3.3 0 1 0 6.6 0a3.3 3.3 0 1 0 -6.6 0 M1113.5 1179.9a3.3 3.3 0 1 0 6.6 0a3.3 3.3 0 1 0 -6.6 0 M1121 1175.9a3.3 3.3 0 1 0 6.6 0a3.3 3.3 0 1 0 -6.6 0 M1128.5 1171.9a3.3 3.3 0 1 0 6.6 0a3.3 3.3 0 1 0 -6.6 0 M1136 1167.7a3.3 3.3 0 1 0 6.6 0a3.3 3.3 0 1 0 -6.6 0 M1143.4 1163.4a3.3 3.3 0 1 0 6.6 0a3.3 3.3 0 1 0 -6.6 0 M1150.7 1159a3.3 3.3 0 1 0 6.6 0a3.3 3.3 0 1 0 -6.6 0 M1158 1154.5a3.3 3.3 0 1 0 6.6 0a3.3 3.3 0 1 0 -6.6 0 M1165.2 1149.8a3.3 3.3 0 1 0 6.6 0a3.3 3.3 0 1 0 -6.6 0 M1172.3 1145.1a3.3 3.3 0 1 0 6.6 0a3.3 3.3 0 1 0 -6.6 0 M1179.3 1140.2a3.3 3.3 0 1 0 6.6 0a3.3 3.3 0 1 0 -6.6 0 M1186.3 1135.3a3.3 3.3 0 1 0 6.6 0a3.3 3.3 0 1 0 -6.6 0 M1193.1 1130.2a3.3 3.3 0 1 0 6.6 0a3.3 3.3 0 1 0 -6.6 0 M1199.9 1125a3.3 3.3 0 1 0 6.6 0a3.3 3.3 0 1 0 -6.6 0 M1206.6 1119.6a3.3 3.3 0 1 0 6.6 0a3.3 3.3 0 1 0 -6.6 0 M1213.1 1114.1a3.3 3.3 0 1 0 6.6 0a3.3 3.3 0 1 0 -6.6 0 M1219.6 1108.5a3.3 3.3 0 1 0 6.6 0a3.3 3.3 0 1 0 -6.6 0 M1225.9 1102.8a3.3 3.3 0 1 0 6.6 0a3.3 3.3 0 1 0 -6.6 0 M1232.1 1096.9a3.3 3.3 0 1 0 6.6 0a3.3 3.3 0 1 0 -6.6 0 M1238.2 1090.8a3.3 3.3 0 1 0 6.6 0a3.3 3.3 0 1 0 -6.6 0 M1244.1 1084.7a3.3 3.3 0 1 0 6.6 0a3.3 3.3 0 1 0 -6.6 0 M1249.8 1078.3a3.3 3.3 0 1 0 6.6 0a3.3 3.3 0 1 0 -6.6 0 M1255.4 1071.8a3.3 3.3 0 1 0 6.6 0a3.3 3.3 0 1 0 -6.6 0 M1260.7 1065.2a3.3 3.3 0 1 0 6.6 0a3.3 3.3 0 1 0 -6.6 0 M1265.9 1058.4a3.3 3.3 0 1 0 6.6 0a3.3 3.3 0 1 0 -6.6 0 M1270.9 1051.4a3.3 3.3 0 1 0 6.6 0a3.3 3.3 0 1 0 -6.6 0 M1275.6 1044.3a3.3 3.3 0 1 0 6.6 0a3.3 3.3 0 1 0 -6.6 0 M1280.1 1037a3.3 3.3 0 1 0 6.6 0a3.3 3.3 0 1 0 -6.6 0 M1284.3 1029.6a3.3 3.3 0 1 0 6.6 0a3.3 3.3 0 1 0 -6.6 0 M1288.2 1022a3.3 3.3 0 1 0 6.6 0a3.3 3.3 0 1 0 -6.6 0 M1291.8 1014.2a3.3 3.3 0 1 0 6.6 0a3.3 3.3 0 1 0 -6.6 0 M1295.1 1006.3a3.3 3.3 0 1 0 6.6 0a3.3 3.3 0 1 0 -6.6 0 M1298 998.3a3.3 3.3 0 1 0 6.6 0a3.3 3.3 0 1 0 -6.6 0 M1300.6 990.2a3.3 3.3 0 1 0 6.6 0a3.3 3.3 0 1 0 -6.6 0 M1302.7 981.9a3.3 3.3 0 1 0 6.6 0a3.3 3.3 0 1 0 -6.6 0 M1304.4 973.5a3.3 3.3 0 1 0 6.6 0a3.3 3.3 0 1 0 -6.6 0 M1305.7 965.1a3.3 3.3 0 1 0 6.6 0a3.3 3.3 0 1 0 -6.6 0 M1306.5 956.5a3.3 3.3 0 1 0 6.6 0a3.3 3.3 0 1 0 -6.6 0 M1306.8 948a3.3 3.3 0 1 0 6.6 0a3.3 3.3 0 1 0 -6.6 0 M32.2 948a3.3 3.3 0 1 0 6.6 0a3.3 3.3 0 1 0 -6.6 0 M32.4 955.2a3.3 3.3 0 1 0 6.6 0a3.3 3.3 0 1 0 -6.6 0 M33.1 962.4a3.3 3.3 0 1 0 6.6 0a3.3 3.3 0 1 0 -6.6 0 M34.2 969.7a3.3 3.3 0 1 0 6.6 0a3.3 3.3 0 1 0 -6.6 0 M35.7 977a3.3 3.3 0 1 0 6.6 0a3.3 3.3 0 1 0 -6.6 0 M37.6 984.2a3.3 3.3 0 1 0 6.6 0a3.3 3.3 0 1 0 -6.6 0 M39.8 991.4a3.3 3.3 0 1 0 6.6 0a3.3 3.3 0 1 0 -6.6 0 M42.4 998.5a3.3 3.3 0 1 0 6.6 0a3.3 3.3 0 1 0 -6.6 0 M45.3 1005.5a3.3 3.3 0 1 0 6.6 0a3.3 3.3 0 1 0 -6.6 0 M48.6 1012.5a3.3 3.3 0 1 0 6.6 0a3.3 3.3 0 1 0 -6.6 0 M52.1 1019.3a3.3 3.3 0 1 0 6.6 0a3.3 3.3 0 1 0 -6.6 0 M55.9 1026a3.3 3.3 0 1 0 6.6 0a3.3 3.3 0 1 0 -6.6 0 M60 1032.7a3.3 3.3 0 1 0 6.6 0a3.3 3.3 0 1 0 -6.6 0 M64.3 1039.2a3.3 3.3 0 1 0 6.6 0a3.3 3.3 0 1 0 -6.6 0 M68.9 1045.6a3.3 3.3 0 1 0 6.6 0a3.3 3.3 0 1 0 -6.6 0 M73.6 1051.8a3.3 3.3 0 1 0 6.6 0a3.3 3.3 0 1 0 -6.6 0 M78.6 1058a3.3 3.3 0 1 0 6.6 0a3.3 3.3 0 1 0 -6.6 0 M83.8 1064a3.3 3.3 0 1 0 6.6 0a3.3 3.3 0 1 0 -6.6 0 M89.2 1069.9a3.3 3.3 0 1 0 6.6 0a3.3 3.3 0 1 0 -6.6 0 M94.7 1075.7a3.3 3.3 0 1 0 6.6 0a3.3 3.3 0 1 0 -6.6 0 M100.4 1081.4a3.3 3.3 0 1 0 6.6 0a3.3 3.3 0 1 0 -6.6 0 M106.2 1087a3.3 3.3 0 1 0 6.6 0a3.3 3.3 0 1 0 -6.6 0 M112.2 1092.4a3.3 3.3 0 1 0 6.6 0a3.3 3.3 0 1 0 -6.6 0 M118.3 1097.7a3.3 3.3 0 1 0 6.6 0a3.3 3.3 0 1 0 -6.6 0 M124.5 1102.9a3.3 3.3 0 1 0 6.6 0a3.3 3.3 0 1 0 -6.6 0 M130.8 1108a3.3 3.3 0 1 0 6.6 0a3.3 3.3 0 1 0 -6.6 0 M137.3 1112.9a3.3 3.3 0 1 0 6.6 0a3.3 3.3 0 1 0 -6.6 0 M143.8 1117.8a3.3 3.3 0 1 0 6.6 0a3.3 3.3 0 1 0 -6.6 0 M150.5 1122.6a3.3 3.3 0 1 0 6.6 0a3.3 3.3 0 1 0 -6.6 0 M157.2 1127.2a3.3 3.3 0 1 0 6.6 0a3.3 3.3 0 1 0 -6.6 0 M164.1 1131.8a3.3 3.3 0 1 0 6.6 0a3.3 3.3 0 1 0 -6.6 0 M171 1136.2a3.3 3.3 0 1 0 6.6 0a3.3 3.3 0 1 0 -6.6 0 M178 1140.5a3.3 3.3 0 1 0 6.6 0a3.3 3.3 0 1 0 -6.6 0 M185 1144.8a3.3 3.3 0 1 0 6.6 0a3.3 3.3 0 1 0 -6.6 0 M192.1 1148.9a3.3 3.3 0 1 0 6.6 0a3.3 3.3 0 1 0 -6.6 0 M199.3 1153a3.3 3.3 0 1 0 6.6 0a3.3 3.3 0 1 0 -6.6 0 M206.6 1156.9a3.3 3.3 0 1 0 6.6 0a3.3 3.3 0 1 0 -6.6 0 M213.9 1160.8a3.3 3.3 0 1 0 6.6 0a3.3 3.3 0 1 0 -6.6 0 M221.3 1164.5a3.3 3.3 0 1 0 6.6 0a3.3 3.3 0 1 0 -6.6 0 M228.7 1168.2a3.3 3.3 0 1 0 6.6 0a3.3 3.3 0 1 0 -6.6 0 M236.2 1171.8a3.3 3.3 0 1 0 6.6 0a3.3 3.3 0 1 0 -6.6 0 M243.7 1175.3a3.3 3.3 0 1 0 6.6 0a3.3 3.3 0 1 0 -6.6 0 M251.2 1178.7a3.3 3.3 0 1 0 6.6 0a3.3 3.3 0 1 0 -6.6 0 M258.8 1182.1a3.3 3.3 0 1 0 6.6 0a3.3 3.3 0 1 0 -6.6 0 M266.5 1185.3a3.3 3.3 0 1 0 6.6 0a3.3 3.3 0 1 0 -6.6 0 M274.2 1188.5a3.3 3.3 0 1 0 6.6 0a3.3 3.3 0 1 0 -6.6 0 M281.9 1191.6a3.3 3.3 0 1 0 6.6 0a3.3 3.3 0 1 0 -6.6 0 M289.7 1194.6a3.3 3.3 0 1 0 6.6 0a3.3 3.3 0 1 0 -6.6 0 M297.5 1197.6a3.3 3.3 0 1 0 6.6 0a3.3 3.3 0 1 0 -6.6 0 M305.3 1200.4a3.3 3.3 0 1 0 6.6 0a3.3 3.3 0 1 0 -6.6 0 M313.1 1203.2a3.3 3.3 0 1 0 6.6 0a3.3 3.3 0 1 0 -6.6 0 M321 1205.9a3.3 3.3 0 1 0 6.6 0a3.3 3.3 0 1 0 -6.6 0 M329 1208.6a3.3 3.3 0 1 0 6.6 0a3.3 3.3 0 1 0 -6.6 0 M336.9 1211.2a3.3 3.3 0 1 0 6.6 0a3.3 3.3 0 1 0 -6.6 0 M344.9 1213.7a3.3 3.3 0 1 0 6.6 0a3.3 3.3 0 1 0 -6.6 0 M352.9 1216.1a3.3 3.3 0 1 0 6.6 0a3.3 3.3 0 1 0 -6.6 0 M360.9 1218.4a3.3 3.3 0 1 0 6.6 0a3.3 3.3 0 1 0 -6.6 0 M368.9 1220.7a3.3 3.3 0 1 0 6.6 0a3.3 3.3 0 1 0 -6.6 0 M377 1222.9a3.3 3.3 0 1 0 6.6 0a3.3 3.3 0 1 0 -6.6 0 M385.1 1225.1a3.3 3.3 0 1 0 6.6 0a3.3 3.3 0 1 0 -6.6 0 M393.2 1227.2a3.3 3.3 0 1 0 6.6 0a3.3 3.3 0 1 0 -6.6 0 M401.3 1229.2a3.3 3.3 0 1 0 6.6 0a3.3 3.3 0 1 0 -6.6 0 M409.4 1231.1a3.3 3.3 0 1 0 6.6 0a3.3 3.3 0 1 0 -6.6 0 M417.6 1233a3.3 3.3 0 1 0 6.6 0a3.3 3.3 0 1 0 -6.6 0 M425.8 1234.8a3.3 3.3 0 1 0 6.6 0a3.3 3.3 0 1 0 -6.6 0 M434 1236.6a3.3 3.3 0 1 0 6.6 0a3.3 3.3 0 1 0 -6.6 0 M442.2 1238.3a3.3 3.3 0 1 0 6.6 0a3.3 3.3 0 1 0 -6.6 0 M450.4 1239.9a3.3 3.3 0 1 0 6.6 0a3.3 3.3 0 1 0 -6.6 0 M458.6 1241.5a3.3 3.3 0 1 0 6.6 0a3.3 3.3 0 1 0 -6.6 0 M466.9 1243a3.3 3.3 0 1 0 6.6 0a3.3 3.3 0 1 0 -6.6 0 M475.1 1244.4a3.3 3.3 0 1 0 6.6 0a3.3 3.3 0 1 0 -6.6 0 M483.4 1245.8a3.3 3.3 0 1 0 6.6 0a3.3 3.3 0 1 0 -6.6 0 M491.7 1247.1a3.3 3.3 0 1 0 6.6 0a3.3 3.3 0 1 0 -6.6 0 M500 1248.3a3.3 3.3 0 1 0 6.6 0a3.3 3.3 0 1 0 -6.6 0 M508.3 1249.5a3.3 3.3 0 1 0 6.6 0a3.3 3.3 0 1 0 -6.6 0 M516.6 1250.7a3.3 3.3 0 1 0 6.6 0a3.3 3.3 0 1 0 -6.6 0 M524.9 1251.7a3.3 3.3 0 1 0 6.6 0a3.3 3.3 0 1 0 -6.6 0 M533.3 1252.7a3.3 3.3 0 1 0 6.6 0a3.3 3.3 0 1 0 -6.6 0 M541.6 1253.7a3.3 3.3 0 1 0 6.6 0a3.3 3.3 0 1 0 -6.6 0 M549.9 1254.5a3.3 3.3 0 1 0 6.6 0a3.3 3.3 0 1 0 -6.6 0 M558.3 1255.3a3.3 3.3 0 1 0 6.6 0a3.3 3.3 0 1 0 -6.6 0 M566.6 1256.1a3.3 3.3 0 1 0 6.6 0a3.3 3.3 0 1 0 -6.6 0 M575 1256.8a3.3 3.3 0 1 0 6.6 0a3.3 3.3 0 1 0 -6.6 0 M583.4 1257.4a3.3 3.3 0 1 0 6.6 0a3.3 3.3 0 1 0 -6.6 0 M591.7 1258a3.3 3.3 0 1 0 6.6 0a3.3 3.3 0 1 0 -6.6 0 M600.1 1258.5a3.3 3.3 0 1 0 6.6 0a3.3 3.3 0 1 0 -6.6 0 M608.5 1258.9a3.3 3.3 0 1 0 6.6 0a3.3 3.3 0 1 0 -6.6 0 M616.9 1259.3a3.3 3.3 0 1 0 6.6 0a3.3 3.3 0 1 0 -6.6 0 M625.2 1259.6a3.3 3.3 0 1 0 6.6 0a3.3 3.3 0 1 0 -6.6 0 M633.6 1259.9a3.3 3.3 0 1 0 6.6 0a3.3 3.3 0 1 0 -6.6 0 M642 1260a3.3 3.3 0 1 0 6.6 0a3.3 3.3 0 1 0 -6.6 0 M650.3 1260.2a3.3 3.3 0 1 0 6.6 0a3.3 3.3 0 1 0 -6.6 0 M658.7 1260.2a3.3 3.3 0 1 0 6.6 0a3.3 3.3 0 1 0 -6.6 0 M667.1 1260.2a3.3 3.3 0 1 0 6.6 0a3.3 3.3 0 1 0 -6.6 0 M675.4 1260a3.3 3.3 0 1 0 6.6 0a3.3 3.3 0 1 0 -6.6 0 M683.8 1259.9a3.3 3.3 0 1 0 6.6 0a3.3 3.3 0 1 0 -6.6 0 M692.2 1259.6a3.3 3.3 0 1 0 6.6 0a3.3 3.3 0 1 0 -6.6 0 M700.5 1259.3a3.3 3.3 0 1 0 6.6 0a3.3 3.3 0 1 0 -6.6 0 M708.9 1258.9a3.3 3.3 0 1 0 6.6 0a3.3 3.3 0 1 0 -6.6 0 M717.3 1258.5a3.3 3.3 0 1 0 6.6 0a3.3 3.3 0 1 0 -6.6 0 M725.7 1258a3.3 3.3 0 1 0 6.6 0a3.3 3.3 0 1 0 -6.6 0 M734 1257.4a3.3 3.3 0 1 0 6.6 0a3.3 3.3 0 1 0 -6.6 0 M742.4 1256.8a3.3 3.3 0 1 0 6.6 0a3.3 3.3 0 1 0 -6.6 0 M750.8 1256.1a3.3 3.3 0 1 0 6.6 0a3.3 3.3 0 1 0 -6.6 0 M759.1 1255.3a3.3 3.3 0 1 0 6.6 0a3.3 3.3 0 1 0 -6.6 0 M767.5 1254.5a3.3 3.3 0 1 0 6.6 0a3.3 3.3 0 1 0 -6.6 0 M775.8 1253.7a3.3 3.3 0 1 0 6.6 0a3.3 3.3 0 1 0 -6.6 0 M784.1 1252.7a3.3 3.3 0 1 0 6.6 0a3.3 3.3 0 1 0 -6.6 0 M792.5 1251.7a3.3 3.3 0 1 0 6.6 0a3.3 3.3 0 1 0 -6.6 0 M800.8 1250.7a3.3 3.3 0 1 0 6.6 0a3.3 3.3 0 1 0 -6.6 0 M809.1 1249.5a3.3 3.3 0 1 0 6.6 0a3.3 3.3 0 1 0 -6.6 0 M817.4 1248.3a3.3 3.3 0 1 0 6.6 0a3.3 3.3 0 1 0 -6.6 0 M825.7 1247.1a3.3 3.3 0 1 0 6.6 0a3.3 3.3 0 1 0 -6.6 0 M834 1245.8a3.3 3.3 0 1 0 6.6 0a3.3 3.3 0 1 0 -6.6 0 M842.3 1244.4a3.3 3.3 0 1 0 6.6 0a3.3 3.3 0 1 0 -6.6 0 M850.5 1243a3.3 3.3 0 1 0 6.6 0a3.3 3.3 0 1 0 -6.6 0 M858.8 1241.5a3.3 3.3 0 1 0 6.6 0a3.3 3.3 0 1 0 -6.6 0 M867 1239.9a3.3 3.3 0 1 0 6.6 0a3.3 3.3 0 1 0 -6.6 0 M875.2 1238.3a3.3 3.3 0 1 0 6.6 0a3.3 3.3 0 1 0 -6.6 0 M883.4 1236.6a3.3 3.3 0 1 0 6.6 0a3.3 3.3 0 1 0 -6.6 0 M891.6 1234.8a3.3 3.3 0 1 0 6.6 0a3.3 3.3 0 1 0 -6.6 0 M899.8 1233a3.3 3.3 0 1 0 6.6 0a3.3 3.3 0 1 0 -6.6 0 M908 1231.1a3.3 3.3 0 1 0 6.6 0a3.3 3.3 0 1 0 -6.6 0 M916.1 1229.2a3.3 3.3 0 1 0 6.6 0a3.3 3.3 0 1 0 -6.6 0 M924.2 1227.2a3.3 3.3 0 1 0 6.6 0a3.3 3.3 0 1 0 -6.6 0 M932.3 1225.1a3.3 3.3 0 1 0 6.6 0a3.3 3.3 0 1 0 -6.6 0 M940.4 1222.9a3.3 3.3 0 1 0 6.6 0a3.3 3.3 0 1 0 -6.6 0 M948.5 1220.7a3.3 3.3 0 1 0 6.6 0a3.3 3.3 0 1 0 -6.6 0 M956.5 1218.4a3.3 3.3 0 1 0 6.6 0a3.3 3.3 0 1 0 -6.6 0 M964.5 1216.1a3.3 3.3 0 1 0 6.6 0a3.3 3.3 0 1 0 -6.6 0 M972.5 1213.7a3.3 3.3 0 1 0 6.6 0a3.3 3.3 0 1 0 -6.6 0 M980.5 1211.2a3.3 3.3 0 1 0 6.6 0a3.3 3.3 0 1 0 -6.6 0 M988.4 1208.6a3.3 3.3 0 1 0 6.6 0a3.3 3.3 0 1 0 -6.6 0 M996.4 1205.9a3.3 3.3 0 1 0 6.6 0a3.3 3.3 0 1 0 -6.6 0 M1004.3 1203.2a3.3 3.3 0 1 0 6.6 0a3.3 3.3 0 1 0 -6.6 0 M1012.1 1200.4a3.3 3.3 0 1 0 6.6 0a3.3 3.3 0 1 0 -6.6 0 M1019.9 1197.6a3.3 3.3 0 1 0 6.6 0a3.3 3.3 0 1 0 -6.6 0 M1027.7 1194.6a3.3 3.3 0 1 0 6.6 0a3.3 3.3 0 1 0 -6.6 0 M1035.5 1191.6a3.3 3.3 0 1 0 6.6 0a3.3 3.3 0 1 0 -6.6 0 M1043.2 1188.5a3.3 3.3 0 1 0 6.6 0a3.3 3.3 0 1 0 -6.6 0 M1050.9 1185.3a3.3 3.3 0 1 0 6.6 0a3.3 3.3 0 1 0 -6.6 0 M1058.6 1182.1a3.3 3.3 0 1 0 6.6 0a3.3 3.3 0 1 0 -6.6 0 M1066.2 1178.7a3.3 3.3 0 1 0 6.6 0a3.3 3.3 0 1 0 -6.6 0 M1073.7 1175.3a3.3 3.3 0 1 0 6.6 0a3.3 3.3 0 1 0 -6.6 0 M1081.2 1171.8a3.3 3.3 0 1 0 6.6 0a3.3 3.3 0 1 0 -6.6 0 M1088.7 1168.2a3.3 3.3 0 1 0 6.6 0a3.3 3.3 0 1 0 -6.6 0 M1096.1 1164.5a3.3 3.3 0 1 0 6.6 0a3.3 3.3 0 1 0 -6.6 0 M1103.5 1160.8a3.3 3.3 0 1 0 6.6 0a3.3 3.3 0 1 0 -6.6 0 M1110.8 1156.9a3.3 3.3 0 1 0 6.6 0a3.3 3.3 0 1 0 -6.6 0 M1118.1 1153a3.3 3.3 0 1 0 6.6 0a3.3 3.3 0 1 0 -6.6 0 M1125.3 1148.9a3.3 3.3 0 1 0 6.6 0a3.3 3.3 0 1 0 -6.6 0 M1132.4 1144.8a3.3 3.3 0 1 0 6.6 0a3.3 3.3 0 1 0 -6.6 0 M1139.4 1140.5a3.3 3.3 0 1 0 6.6 0a3.3 3.3 0 1 0 -6.6 0 M1146.4 1136.2a3.3 3.3 0 1 0 6.6 0a3.3 3.3 0 1 0 -6.6 0 M1153.3 1131.8a3.3 3.3 0 1 0 6.6 0a3.3 3.3 0 1 0 -6.6 0 M1160.2 1127.2a3.3 3.3 0 1 0 6.6 0a3.3 3.3 0 1 0 -6.6 0 M1166.9 1122.6a3.3 3.3 0 1 0 6.6 0a3.3 3.3 0 1 0 -6.6 0 M1173.6 1117.8a3.3 3.3 0 1 0 6.6 0a3.3 3.3 0 1 0 -6.6 0 M1180.1 1112.9a3.3 3.3 0 1 0 6.6 0a3.3 3.3 0 1 0 -6.6 0 M1186.6 1108a3.3 3.3 0 1 0 6.6 0a3.3 3.3 0 1 0 -6.6 0 M1192.9 1102.9a3.3 3.3 0 1 0 6.6 0a3.3 3.3 0 1 0 -6.6 0 M1199.1 1097.7a3.3 3.3 0 1 0 6.6 0a3.3 3.3 0 1 0 -6.6 0 M1205.2 1092.4a3.3 3.3 0 1 0 6.6 0a3.3 3.3 0 1 0 -6.6 0 M1211.2 1087a3.3 3.3 0 1 0 6.6 0a3.3 3.3 0 1 0 -6.6 0 M1217 1081.4a3.3 3.3 0 1 0 6.6 0a3.3 3.3 0 1 0 -6.6 0 M1222.7 1075.7a3.3 3.3 0 1 0 6.6 0a3.3 3.3 0 1 0 -6.6 0 M1228.2 1069.9a3.3 3.3 0 1 0 6.6 0a3.3 3.3 0 1 0 -6.6 0 M1233.6 1064a3.3 3.3 0 1 0 6.6 0a3.3 3.3 0 1 0 -6.6 0 M1238.8 1058a3.3 3.3 0 1 0 6.6 0a3.3 3.3 0 1 0 -6.6 0 M1243.8 1051.8a3.3 3.3 0 1 0 6.6 0a3.3 3.3 0 1 0 -6.6 0 M1248.5 1045.6a3.3 3.3 0 1 0 6.6 0a3.3 3.3 0 1 0 -6.6 0 M1253.1 1039.2a3.3 3.3 0 1 0 6.6 0a3.3 3.3 0 1 0 -6.6 0 M1257.4 1032.7a3.3 3.3 0 1 0 6.6 0a3.3 3.3 0 1 0 -6.6 0 M1261.5 1026a3.3 3.3 0 1 0 6.6 0a3.3 3.3 0 1 0 -6.6 0 M1265.3 1019.3a3.3 3.3 0 1 0 6.6 0a3.3 3.3 0 1 0 -6.6 0 M1268.8 1012.5a3.3 3.3 0 1 0 6.6 0a3.3 3.3 0 1 0 -6.6 0 M1272.1 1005.5a3.3 3.3 0 1 0 6.6 0a3.3 3.3 0 1 0 -6.6 0 M1275 998.5a3.3 3.3 0 1 0 6.6 0a3.3 3.3 0 1 0 -6.6 0 M1277.6 991.4a3.3 3.3 0 1 0 6.6 0a3.3 3.3 0 1 0 -6.6 0 M1279.8 984.2a3.3 3.3 0 1 0 6.6 0a3.3 3.3 0 1 0 -6.6 0 M1281.7 977a3.3 3.3 0 1 0 6.6 0a3.3 3.3 0 1 0 -6.6 0 M1283.2 969.7a3.3 3.3 0 1 0 6.6 0a3.3 3.3 0 1 0 -6.6 0 M1284.3 962.4a3.3 3.3 0 1 0 6.6 0a3.3 3.3 0 1 0 -6.6 0 M1285 955.2a3.3 3.3 0 1 0 6.6 0a3.3 3.3 0 1 0 -6.6 0 M1285.2 948a3.3 3.3 0 1 0 6.6 0a3.3 3.3 0 1 0 -6.6 0" fill="#8e9bb3"/>
<g><circle cx="327" cy="257" r="40" fill="#a3625a"/><path d="M297.5 226 L297.3 227.2 L296.6 228.3 L295.9 229.2 L295.3 230.2 L295.1 231.3 L295.1 232.5 L294.9 233.7 L294.3 234.8 L293.3 235.5 L292.2 236 L291 236.2 L289.9 236.6 L289.1 237.3 L288.2 238.2 L287.3 239 L286.2 239.5 L285 239.5 L283.8 239 L282.7 238.4 L281.7 238.1 L280.6 238.1 L279.4 238.2 L278.1 238.2 L276.9 237.9 L276.1 237.1 L275.4 236 L275 234.8 L274.4 233.9 L273.6 233.2 L272.5 232.5 L271.6 231.7 L270.9 230.7 L270.8 229.5 L271 228.3 L271.4 227.1 L271.5 226 L271.4 224.9 L271 223.7 L270.8 222.5 L270.9 221.3 L271.6 220.3 L272.5 219.5 L273.6 218.8 L274.4 218.1 L275 217.2 L275.4 216 L276.1 214.9 L276.9 214.1 L278.1 213.8 L279.4 213.8 L280.6 213.9 L281.7 213.9 L282.7 213.6 L283.8 213 L285 212.5 L286.2 212.5 L287.3 213 L288.2 213.8 L289.1 214.7 L289.9 215.4 L291 215.8 L292.2 216 L293.3 216.5 L294.3 217.2 L294.9 218.3 L295.1 219.5 L295.1 220.7 L295.3 221.8 L295.9 222.8 L296.6 223.7 L297.3 224.8 Z" fill="#a3625a" stroke="#86372e" stroke-width="0.7"/><circle cx="287.5" cy="227.5" r="6.5" fill="#86372e"/><path d="M290.8 233.9h0.9v0.9h-0.9z M284.6 217.3h0.9v0.9h-0.9z M274.5 226.3h0.9v0.9h-0.9z M277.8 217.6h0.9v0.9h-0.9z M290.5 230.5h0.9v0.9h-0.9z M288.6 218h0.9v0.9h-0.9z M284.4 218h0.9v0.9h-0.9z" fill="#86372e" opacity="0.8"/><path d="M363.5 218 L363 219 L362.4 219.8 L362 220.7 L361.9 221.6 L361.9 222.6 L361.9 223.7 L361.5 224.7 L360.8 225.4 L359.8 225.8 L358.8 226.1 L358 226.5 L357.3 227.1 L356.6 227.9 L355.9 228.7 L355 229.2 L354 229.3 L353 229 L352 228.6 L351.1 228.4 L350.2 228.4 L349.2 228.6 L348.1 228.7 L347.1 228.5 L346.3 227.9 L345.7 227.1 L345.2 226.1 L344.6 225.4 L343.9 224.8 L343 224.3 L342.1 223.7 L341.5 222.9 L341.2 221.9 L341.3 220.9 L341.6 219.8 L341.6 218.9 L341.5 218 L341.1 217 L340.8 216 L340.8 215 L341.2 214.1 L342 213.3 L342.8 212.7 L343.5 212 L343.9 211.2 L344.3 210.3 L344.7 209.3 L345.3 208.5 L346.3 208.1 L347.3 208 L348.4 208 L349.3 208 L350.2 207.6 L351 207.1 L352 206.6 L353 206.4 L354 206.7 L354.9 207.3 L355.6 208 L356.4 208.6 L357.3 208.9 L358.3 209 L359.3 209.3 L360.2 209.8 L360.8 210.6 L361.1 211.7 L361.2 212.7 L361.4 213.6 L361.9 214.4 L362.6 215.2 L363.2 216 L363.6 217 Z" fill="#a3625a" stroke="#86372e" stroke-width="0.7"/><circle cx="354" cy="219" r="5" fill="#86372e"/><path d="M353.3 226.8h0.9v0.9h-0.9z M357.8 223.9h0.9v0.9h-0.9z M358.1 221.6h0.9v0.9h-0.9z M359 218h0.9v0.9h-0.9z M347.2 212.1h0.9v0.9h-0.9z M344.6 220.2h0.9v0.9h-0.9z" fill="#86372e" opacity="0.8"/><path d="M384.1 240 L383.6 240.9 L383.2 241.8 L383.1 242.7 L383.2 243.7 L383.3 244.8 L383 245.8 L382.4 246.6 L381.5 247.1 L380.5 247.5 L379.7 248 L379 248.6 L378.4 249.4 L377.8 250.3 L377 250.9 L376 251.1 L374.9 250.9 L373.9 250.6 L373 250.4 L372.1 250.5 L371.1 250.7 L370.1 251 L369 250.9 L368.1 250.4 L367.4 249.6 L366.9 248.7 L366.3 248 L365.6 247.4 L364.7 247 L363.7 246.5 L363 245.8 L362.6 244.9 L362.6 243.8 L362.7 242.8 L362.8 241.8 L362.5 240.9 L362.1 240 L361.7 239 L361.6 238 L361.9 237 L362.6 236.2 L363.3 235.5 L364 234.8 L364.4 234 L364.7 233 L365 232 L365.5 231.1 L366.4 230.6 L367.4 230.4 L368.5 230.3 L369.4 230.2 L370.3 229.9 L371.1 229.3 L372 228.7 L373 228.4 L374 228.5 L374.9 229.1 L375.8 229.7 L376.6 230.2 L377.4 230.5 L378.4 230.6 L379.5 230.7 L380.5 231.1 L381.1 231.9 L381.5 232.9 L381.7 233.9 L382 234.8 L382.5 235.6 L383.2 236.3 L384 237.1 L384.4 238 L384.5 239 Z" fill="#a3625a" stroke="#86372e" stroke-width="0.7"/><circle cx="375" cy="241" r="5" fill="#86372e"/><path d="M379.4 238.6h0.9v0.9h-0.9z M372.4 233.1h0.9v0.9h-0.9z M379.5 239.4h0.9v0.9h-0.9z M379 234.4h0.9v0.9h-0.9z M378.6 233h0.9v0.9h-0.9z M373.5 247.3h0.9v0.9h-0.9z" fill="#86372e" opacity="0.8"/><path d="M331.7 246 L331.4 246.9 L331.3 247.8 L331.5 248.8 L331.6 249.9 L331.5 250.9 L331 251.8 L330.1 252.4 L329.2 252.9 L328.4 253.4 L327.7 254 L327.2 254.9 L326.7 255.8 L325.9 256.5 L324.9 256.8 L323.9 256.8 L322.9 256.5 L321.9 256.4 L321 256.5 L320.1 256.8 L319 257.1 L318 257.2 L317.1 256.8 L316.3 256.1 L315.7 255.3 L315 254.5 L314.3 254 L313.3 253.7 L312.3 253.3 L311.5 252.6 L311 251.8 L310.9 250.7 L311 249.7 L310.9 248.7 L310.7 247.8 L310.2 246.9 L309.7 246 L309.5 245 L309.7 244 L310.2 243.1 L311 242.3 L311.6 241.6 L311.9 240.8 L312.1 239.8 L312.3 238.7 L312.8 237.8 L313.6 237.2 L314.6 236.9 L315.7 236.7 L316.6 236.6 L317.4 236.2 L318.2 235.5 L319 234.9 L320 234.5 L321 234.5 L322 234.9 L322.9 235.5 L323.7 235.9 L324.6 236.2 L325.6 236.2 L326.7 236.2 L327.6 236.5 L328.4 237.2 L328.9 238.1 L329.2 239.1 L329.5 240 L330.1 240.8 L330.8 241.4 L331.6 242.1 L332.2 243 L332.3 244 L332.1 245 Z" fill="#a3625a" stroke="#86372e" stroke-width="0.7"/><circle cx="318" cy="244" r="5" fill="#86372e"/><path d="M327.6 244.2h0.9v0.9h-0.9z M329.9 247.3h0.9v0.9h-0.9z M323.7 252.2h0.9v0.9h-0.9z M316.7 240h0.9v0.9h-0.9z M326.4 241.5h0.9v0.9h-0.9z M328.1 244.2h0.9v0.9h-0.9z" fill="#86372e" opacity="0.8"/><path d="M384.3 273.5 L384.3 274.6 L384.6 275.7 L384.9 276.9 L384.8 278.2 L384.4 279.3 L383.5 280.1 L382.4 280.8 L381.4 281.4 L380.7 282.2 L380.2 283.3 L379.6 284.4 L378.8 285.3 L377.8 285.9 L376.5 285.9 L375.3 285.8 L374.1 285.6 L373.1 285.8 L372 286.3 L370.8 286.8 L369.6 287 L368.5 286.7 L367.5 285.9 L366.6 285 L365.8 284.2 L364.9 283.6 L363.8 283.3 L362.6 282.9 L361.5 282.3 L360.8 281.3 L360.5 280.1 L360.5 278.9 L360.4 277.7 L360.1 276.7 L359.4 275.7 L358.7 274.7 L358.3 273.5 L358.4 272.3 L359 271.2 L359.7 270.2 L360.4 269.3 L360.8 268.3 L360.9 267.1 L361.1 265.9 L361.5 264.7 L362.4 263.9 L363.5 263.4 L364.7 263.1 L365.8 262.8 L366.8 262.3 L367.6 261.5 L368.6 260.6 L369.6 260 L370.8 259.9 L372 260.3 L373.1 260.9 L374.1 261.4 L375.2 261.6 L376.4 261.5 L377.6 261.4 L378.8 261.7 L379.8 262.3 L380.5 263.4 L381 264.5 L381.4 265.6 L382.1 266.4 L383.1 267.1 L384.1 267.9 L384.8 268.8 L385.2 270 L385 271.2 L384.6 272.4 Z" fill="#a3625a" stroke="#86372e" stroke-width="0.7"/><circle cx="369.5" cy="274" r="6.2" fill="#86372e"/><path d="M363.6 270.9h0.9v0.9h-0.9z M376.9 266.3h0.9v0.9h-0.9z M363.2 272.9h0.9v0.9h-0.9z M362.6 279h0.9v0.9h-0.9z M379.3 279.1h0.9v0.9h-0.9z M373.4 282.2h0.9v0.9h-0.9z M380.8 273.4h0.9v0.9h-0.9z" fill="#86372e" opacity="0.8"/><path d="M335.2 299 L335.6 300.3 L336.1 301.7 L336.2 303.1 L335.8 304.4 L334.9 305.5 L333.7 306.4 L332.7 307.2 L331.9 308.1 L331.4 309.4 L330.8 310.7 L330 311.9 L328.9 312.7 L327.5 312.9 L326 312.8 L324.7 312.8 L323.5 313 L322.3 313.6 L321 314.3 L319.6 314.7 L318.3 314.5 L317 313.8 L316 312.8 L315 311.9 L313.9 311.3 L312.6 311 L311.2 310.7 L309.9 310.1 L308.9 309.1 L308.4 307.8 L308.3 306.4 L308.1 305 L307.6 303.9 L306.8 302.8 L305.9 301.7 L305.3 300.4 L305.2 299 L305.7 297.7 L306.5 296.4 L307.2 295.3 L307.6 294.1 L307.7 292.8 L307.8 291.4 L308.1 290 L308.9 288.9 L310.2 288.2 L311.5 287.7 L312.8 287.3 L313.9 286.7 L314.8 285.7 L315.8 284.6 L316.9 283.8 L318.3 283.5 L319.7 283.7 L321 284.3 L322.2 284.8 L323.5 285 L324.8 284.8 L326.2 284.6 L327.7 284.7 L328.9 285.3 L329.8 286.4 L330.5 287.7 L331.1 288.9 L331.9 289.9 L333 290.6 L334.2 291.4 L335.3 292.3 L335.8 293.6 L335.8 295 L335.5 296.4 L335.2 297.8 Z" fill="#a3625a" stroke="#86372e" stroke-width="0.7"/><circle cx="323.5" cy="297" r="7" fill="#86372e"/><path d="M314.9 310.4h0.9v0.9h-0.9z M333.2 295.8h0.9v0.9h-0.9z M324.1 287h0.9v0.9h-0.9z M332.3 299h0.9v0.9h-0.9z M321.2 310.8h0.9v0.9h-0.9z M311 303.5h0.9v0.9h-0.9z M310.3 296.1h0.9v0.9h-0.9z M327 287.6h0.9v0.9h-0.9z M314.1 309h0.9v0.9h-0.9z" fill="#86372e" opacity="0.8"/><path d="M321.6 221.7 L322.2 222.9 L322.4 224.2 L322.2 225.5 L321.5 226.6 L320.5 227.5 L319.5 228.4 L318.9 229.3 L318.4 230.5 L318 231.7 L317.4 232.9 L316.5 233.8 L315.2 234.2 L313.8 234.2 L312.6 234.2 L311.4 234.5 L310.4 235.1 L309.2 235.9 L308 236.4 L306.7 236.4 L305.5 235.9 L304.4 235 L303.4 234.2 L302.4 233.7 L301.2 233.5 L299.9 233.3 L298.6 232.9 L297.6 232.1 L297 230.9 L296.7 229.6 L296.5 228.4 L296 227.3 L295.2 226.4 L294.3 225.4 L293.6 224.2 L293.3 223 L293.6 221.7 L294.3 220.5 L294.9 219.4 L295.2 218.3 L295.2 217 L295.1 215.7 L295.3 214.4 L295.9 213.2 L297 212.5 L298.2 211.9 L299.4 211.5 L300.4 210.8 L301.2 209.9 L302 208.8 L303 207.9 L304.2 207.5 L305.5 207.5 L306.8 208 L308 208.4 L309.2 208.5 L310.4 208.3 L311.7 208 L313 207.9 L314.2 208.3 L315.2 209.2 L315.9 210.4 L316.6 211.5 L317.4 212.3 L318.4 212.9 L319.6 213.6 L320.7 214.4 L321.4 215.5 L321.5 216.8 L321.3 218.1 L321.1 219.4 L321.2 220.5 Z" fill="#c8847b" stroke="#ad5f56" stroke-width="0.7"/><circle cx="312" cy="223" r="7" fill="#ad5f56"/><path d="M318.6 224.3h0.9v0.9h-0.9z M314.3 229.7h0.9v0.9h-0.9z M302.7 211.8h0.9v0.9h-0.9z M298.2 224.7h0.9v0.9h-0.9z M317.9 222.9h0.9v0.9h-0.9z M300 230h0.9v0.9h-0.9z M297.3 218.5h0.9v0.9h-0.9z M299.7 225.4h0.9v0.9h-0.9z" fill="#ad5f56" opacity="0.8"/><path d="M374.2 247.6 L374.7 249.2 L374.6 250.7 L373.7 252.1 L372.5 253.3 L371.6 254.4 L371.1 255.7 L370.9 257.4 L370.6 259 L369.7 260.3 L368.2 261 L366.6 261.3 L365.1 261.6 L363.8 262.3 L362.8 263.4 L361.6 264.6 L360.1 265.3 L358.5 265.1 L357 264.4 L355.6 263.7 L354.2 263.5 L352.7 263.7 L351 264 L349.4 263.8 L348.1 262.9 L347.3 261.5 L346.5 260.1 L345.6 259 L344.3 258.2 L342.8 257.5 L341.5 256.5 L340.9 255.1 L340.9 253.5 L341.2 251.8 L341.2 250.4 L340.7 249 L339.8 247.6 L339.3 246 L339.4 244.5 L340.3 243.1 L341.5 241.9 L342.4 240.8 L342.9 239.5 L343.1 237.8 L343.4 236.2 L344.3 234.9 L345.8 234.2 L347.4 233.9 L348.9 233.6 L350.2 232.9 L351.2 231.8 L352.4 230.6 L353.9 229.9 L355.5 230.1 L357 230.8 L358.4 231.5 L359.8 231.7 L361.3 231.5 L363 231.2 L364.6 231.4 L365.9 232.3 L366.7 233.7 L367.5 235.1 L368.4 236.2 L369.7 237 L371.2 237.7 L372.5 238.7 L373.1 240.1 L373.1 241.7 L372.8 243.4 L372.8 244.8 L373.3 246.2 Z" fill="#c8847b" stroke="#ad5f56" stroke-width="0.7"/><circle cx="359" cy="249" r="7.5" fill="#ad5f56"/><path d="M346.4 247.8h0.9v0.9h-0.9z M350.2 239.7h0.9v0.9h-0.9z M342.4 250.1h0.9v0.9h-0.9z M366.4 253.2h0.9v0.9h-0.9z M352.8 239.1h0.9v0.9h-0.9z M365 259.1h0.9v0.9h-0.9z M367.8 246.2h0.9v0.9h-0.9z M362.6 261.4h0.9v0.9h-0.9z M351 258.7h0.9v0.9h-0.9z M347 239.6h0.9v0.9h-0.9z" fill="#ad5f56" opacity="0.8"/><path d="M310.1 281 L310.2 282.3 L309.8 283.6 L308.9 284.7 L308 285.7 L307.4 286.8 L307.1 288 L306.9 289.4 L306.6 290.7 L305.8 291.8 L304.6 292.5 L303.3 292.8 L301.9 293 L300.8 293.4 L299.8 294.2 L298.8 295.1 L297.6 295.9 L296.3 296.2 L295 296 L293.7 295.4 L292.6 294.7 L291.5 294.2 L290.2 294.2 L288.8 294.2 L287.4 294.1 L286.2 293.5 L285.4 292.5 L284.8 291.2 L284.4 289.9 L283.8 288.9 L282.9 288 L281.8 287.2 L280.8 286.2 L280.2 285 L280.2 283.6 L280.6 282.3 L281.1 281 L281.3 279.8 L281.2 278.6 L280.9 277.2 L280.8 275.8 L281.1 274.5 L282 273.5 L283.2 272.7 L284.4 272.1 L285.3 271.3 L286 270.3 L286.6 269.1 L287.4 267.9 L288.5 267.1 L289.9 266.9 L291.3 267.1 L292.6 267.3 L293.8 267.3 L295 267 L296.3 266.5 L297.6 266.1 L299 266.2 L300.1 266.9 L301.1 267.9 L301.9 269 L302.9 269.8 L304 270.3 L305.3 270.7 L306.6 271.3 L307.5 272.2 L308 273.5 L308.1 274.9 L308 276.3 L308.2 277.5 L308.8 278.6 L309.5 279.7 Z" fill="#c8847b" stroke="#ad5f56" stroke-width="0.7"/><circle cx="296" cy="280.5" r="6.5" fill="#ad5f56"/><path d="M305.3 283.8h0.9v0.9h-0.9z M305.2 282.2h0.9v0.9h-0.9z M304.2 279.6h0.9v0.9h-0.9z M305.7 279.2h0.9v0.9h-0.9z M301 275.6h0.9v0.9h-0.9z M294.1 270.7h0.9v0.9h-0.9z M287.3 275.1h0.9v0.9h-0.9z M305.8 279.4h0.9v0.9h-0.9z" fill="#ad5f56" opacity="0.8"/><path d="M366.4 283 L366 284.4 L365.3 285.7 L364.4 286.9 L363.8 288 L363.5 289.3 L363.4 290.8 L363.2 292.2 L362.5 293.5 L361.4 294.4 L360 294.9 L358.5 295.2 L357.3 295.7 L356.3 296.5 L355.3 297.6 L354.2 298.6 L352.8 299.1 L351.4 299 L350 298.5 L348.7 297.8 L347.5 297.4 L346.1 297.4 L344.7 297.6 L343.2 297.6 L341.8 297.2 L340.8 296.2 L340 294.9 L339.5 293.5 L338.8 292.4 L337.8 291.6 L336.6 290.8 L335.4 289.8 L334.6 288.6 L334.5 287.2 L334.7 285.7 L335.2 284.3 L335.4 283 L335.1 281.7 L334.7 280.3 L334.4 278.8 L334.6 277.4 L335.4 276.2 L336.6 275.3 L337.8 274.5 L338.8 273.6 L339.5 272.5 L340 271.1 L340.8 269.8 L341.8 268.8 L343.2 268.4 L344.7 268.4 L346.1 268.6 L347.5 268.6 L348.7 268.1 L350 267.5 L351.4 266.9 L352.8 266.9 L354.2 267.5 L355.3 268.4 L356.3 269.5 L357.3 270.3 L358.6 270.8 L360 271.1 L361.4 271.6 L362.5 272.5 L363.2 273.8 L363.4 275.3 L363.5 276.7 L363.8 278 L364.4 279.1 L365.3 280.3 L366.1 281.6 Z" fill="#c8847b" stroke="#ad5f56" stroke-width="0.7"/><circle cx="350.6" cy="284" r="7" fill="#ad5f56"/><path d="M338.5 284.7h0.9v0.9h-0.9z M339.2 290.4h0.9v0.9h-0.9z M363.4 284.4h0.9v0.9h-0.9z M346.4 271h0.9v0.9h-0.9z M353.1 274h0.9v0.9h-0.9z M355 272.3h0.9v0.9h-0.9z M357.7 293.2h0.9v0.9h-0.9z M338.7 287.5h0.9v0.9h-0.9z M360.3 289h0.9v0.9h-0.9z" fill="#ad5f56" opacity="0.8"/><path d="M356.3 224 L355.2 225.7 L354.2 227.2 L354.1 228.8 L354.5 230.7 L354.6 232.7 L353.6 234.2 L351.8 235.1 L350.2 235.9 L349.2 237.2 L348.7 239.1 L347.8 240.8 L346.2 241.6 L344.2 241.5 L342.3 241.4 L340.8 242.1 L339.4 243.4 L337.8 244.4 L336 244.3 L334.3 243.2 L332.8 242.2 L331.2 242.1 L329.3 242.5 L327.3 242.6 L325.8 241.6 L324.9 239.8 L324.1 238.2 L322.8 237.2 L320.9 236.7 L319.2 235.8 L318.4 234.2 L318.5 232.2 L318.6 230.3 L317.9 228.8 L316.6 227.4 L315.6 225.8 L315.7 224 L316.8 222.3 L317.8 220.8 L317.9 219.2 L317.5 217.3 L317.4 215.3 L318.4 213.8 L320.2 212.9 L321.8 212.1 L322.8 210.8 L323.3 208.9 L324.2 207.2 L325.8 206.4 L327.8 206.5 L329.7 206.6 L331.2 205.9 L332.6 204.6 L334.2 203.6 L336 203.7 L337.7 204.8 L339.2 205.8 L340.8 205.9 L342.7 205.5 L344.7 205.4 L346.2 206.4 L347.1 208.2 L347.9 209.8 L349.2 210.8 L351.1 211.3 L352.8 212.2 L353.6 213.8 L353.5 215.8 L353.4 217.7 L354.1 219.2 L355.4 220.6 L356.4 222.2 Z" fill="#dc978c" stroke="#c4746b" stroke-width="0.7"/><circle cx="338" cy="221.5" r="8" fill="#c4746b"/><path d="M329.5 236.9h0.9v0.9h-0.9z M353.3 224.9h0.9v0.9h-0.9z M343.7 208.3h0.9v0.9h-0.9z M335.1 235.1h0.9v0.9h-0.9z M346.4 227.7h0.9v0.9h-0.9z M350.9 226.3h0.9v0.9h-0.9z M325.4 236h0.9v0.9h-0.9z M336.8 211.7h0.9v0.9h-0.9z M342.1 234.6h0.9v0.9h-0.9z M350.4 226.8h0.9v0.9h-0.9z M339.9 233.9h0.9v0.9h-0.9z" fill="#c4746b" opacity="0.8"/><path d="M308.9 251 L307.9 252.5 L307.5 254 L307.7 255.6 L308.1 257.3 L307.9 259 L306.8 260.3 L305.2 261.2 L303.8 262 L302.9 263.2 L302.3 264.8 L301.5 266.4 L300.2 267.4 L298.4 267.5 L296.6 267.3 L295.1 267.4 L293.7 268.3 L292.3 269.4 L290.7 270 L289.1 269.6 L287.6 268.5 L286.3 267.5 L284.8 267.1 L283.1 267.3 L281.3 267.3 L279.8 266.5 L278.9 265 L278.4 263.3 L277.7 261.9 L276.4 261 L274.8 260.2 L273.5 259 L273.1 257.4 L273.4 255.6 L273.8 254 L273.7 252.5 L272.9 251 L272.1 249.4 L272 247.7 L272.9 246.2 L274.3 245 L275.3 243.8 L275.6 242.3 L275.7 240.5 L276.2 238.8 L277.4 237.7 L279.1 237.2 L280.8 236.9 L282.2 236.2 L283.2 234.9 L284.3 233.5 L285.8 232.7 L287.5 232.8 L289.2 233.5 L290.7 234 L292.2 233.8 L293.9 233.1 L295.6 232.7 L297.1 233.3 L298.3 234.6 L299.3 236.1 L300.5 237 L302.1 237.5 L303.8 237.9 L305.2 238.8 L305.9 240.4 L306 242.2 L306.1 243.8 L306.9 245.1 L308.2 246.3 L309.3 247.7 L309.5 249.4 Z" fill="#dc978c" stroke="#c4746b" stroke-width="0.7"/><circle cx="292" cy="251.5" r="7.5" fill="#c4746b"/><path d="M294.5 242.1h0.9v0.9h-0.9z M303.2 244.5h0.9v0.9h-0.9z M290.1 263h0.9v0.9h-0.9z M300.5 253.1h0.9v0.9h-0.9z M282.3 239.3h0.9v0.9h-0.9z M295.9 263.9h0.9v0.9h-0.9z M281.4 259.8h0.9v0.9h-0.9z M296.1 241.8h0.9v0.9h-0.9z M296.2 261.7h0.9v0.9h-0.9z M302.4 249.3h0.9v0.9h-0.9z" fill="#c4746b" opacity="0.8"/><path d="M347.5 268 L346.8 269.8 L347.4 271.7 L348.2 273.8 L347.8 275.7 L346.2 277.1 L344.3 278.2 L343.4 279.8 L343.2 282 L342.6 284 L340.9 285 L338.6 285.2 L336.8 285.6 L335.5 287.1 L334.2 288.9 L332.5 289.9 L330.4 289.3 L328.4 288.4 L326.6 288.5 L324.7 289.5 L322.7 290.3 L320.8 289.6 L319.4 287.8 L318 286.4 L316.1 286.1 L313.9 286.2 L312 285.4 L311.2 283.4 L310.8 281.2 L309.9 279.7 L308 278.8 L306.1 277.5 L305.6 275.7 L306.2 273.5 L306.6 271.5 L305.8 269.8 L304.5 268 L304 266 L305.1 264.2 L306.7 262.7 L307.4 261 L307.2 258.9 L307.1 256.7 L308.2 255.1 L310.3 254.3 L312.2 253.6 L313.3 252.1 L314 250 L315.3 248.4 L317.3 248.1 L319.5 248.5 L321.3 248.3 L322.9 247 L324.6 245.6 L326.6 245.5 L328.5 246.7 L330.1 247.9 L332 248 L334.1 247.4 L336.2 247.4 L337.6 248.9 L338.5 251 L339.7 252.4 L341.6 253 L343.8 253.6 L345.1 255.1 L345.2 257.3 L345.1 259.4 L346 261 L347.7 262.3 L348.9 264.1 L348.7 266.1 Z" fill="#dc978c" stroke="#c4746b" stroke-width="0.7"/><circle cx="329" cy="269" r="9.5" fill="#c4746b"/><path d="M331.7 283.4h0.9v0.9h-0.9z M341.2 279.7h0.9v0.9h-0.9z M331.9 281.9h0.9v0.9h-0.9z M329.1 249.4h0.9v0.9h-0.9z M312 259.7h0.9v0.9h-0.9z M308.9 263.9h0.9v0.9h-0.9z M329.3 284.6h0.9v0.9h-0.9z M314.6 259.1h0.9v0.9h-0.9z M316.6 272.7h0.9v0.9h-0.9z M313 262.4h0.9v0.9h-0.9z M315.7 257.9h0.9v0.9h-0.9z M341.5 260.2h0.9v0.9h-0.9z" fill="#c4746b" opacity="0.8"/></g>
<g><circle cx="990" cy="251" r="40" fill="#633b31"/><path d="M960.5 220 L960.3 221.2 L959.6 222.3 L958.9 223.2 L958.3 224.2 L958.1 225.3 L958.1 226.5 L957.9 227.7 L957.3 228.8 L956.3 229.5 L955.2 230 L954 230.2 L952.9 230.6 L952.1 231.3 L951.2 232.2 L950.3 233 L949.2 233.5 L948 233.5 L946.8 233 L945.7 232.4 L944.7 232.1 L943.6 232.1 L942.4 232.2 L941.1 232.2 L939.9 231.9 L939.1 231.1 L938.4 230 L938 228.8 L937.4 227.9 L936.6 227.2 L935.5 226.5 L934.6 225.7 L933.9 224.7 L933.8 223.5 L934 222.3 L934.4 221.1 L934.5 220 L934.4 218.9 L934 217.7 L933.8 216.5 L933.9 215.3 L934.6 214.3 L935.5 213.5 L936.6 212.8 L937.4 212.1 L938 211.2 L938.4 210 L939.1 208.9 L939.9 208.1 L941.1 207.8 L942.4 207.8 L943.6 207.9 L944.7 207.9 L945.7 207.6 L946.8 207 L948 206.5 L949.2 206.5 L950.3 207 L951.2 207.8 L952.1 208.7 L952.9 209.4 L954 209.8 L955.2 210 L956.3 210.5 L957.3 211.2 L957.9 212.3 L958.1 213.5 L958.1 214.7 L958.3 215.8 L958.9 216.8 L959.6 217.7 L960.3 218.8 Z" fill="#633b31" stroke="#341008" stroke-width="0.7"/><circle cx="950.5" cy="221.5" r="6.5" fill="#341008"/><path d="M953.8 227.9h0.9v0.9h-0.9z M947.6 211.3h0.9v0.9h-0.9z M937.5 220.3h0.9v0.9h-0.9z M940.8 211.6h0.9v0.9h-0.9z M953.5 224.5h0.9v0.9h-0.9z M951.6 212h0.9v0.9h-0.9z M947.4 212h0.9v0.9h-0.9z" fill="#341008" opacity="0.8"/><path d="M1026.5 212 L1026 213 L1025.4 213.8 L1025 214.7 L1024.9 215.6 L1024.9 216.6 L1024.9 217.7 L1024.5 218.7 L1023.8 219.4 L1022.8 219.8 L1021.8 220.1 L1021 220.5 L1020.3 221.1 L1019.6 221.9 L1018.9 222.7 L1018 223.2 L1017 223.3 L1016 223 L1015 222.6 L1014.1 222.4 L1013.2 222.4 L1012.2 222.6 L1011.1 222.7 L1010.1 222.5 L1009.3 221.9 L1008.7 221.1 L1008.2 220.1 L1007.6 219.4 L1006.9 218.8 L1006 218.3 L1005.1 217.7 L1004.5 216.9 L1004.2 215.9 L1004.3 214.9 L1004.6 213.8 L1004.6 212.9 L1004.5 212 L1004.1 211 L1003.8 210 L1003.8 209 L1004.2 208.1 L1005 207.3 L1005.8 206.7 L1006.5 206 L1006.9 205.2 L1007.3 204.3 L1007.7 203.3 L1008.3 202.5 L1009.3 202.1 L1010.3 202 L1011.4 202 L1012.3 202 L1013.2 201.6 L1014 201.1 L1015 200.6 L1016 200.4 L1017 200.7 L1017.9 201.3 L1018.6 202 L1019.4 202.6 L1020.3 202.9 L1021.3 203 L1022.3 203.3 L1023.2 203.8 L1023.8 204.6 L1024.1 205.7 L1024.2 206.7 L1024.4 207.6 L1024.9 208.4 L1025.6 209.2 L1026.2 210 L1026.6 211 Z" fill="#633b31" stroke="#341008" stroke-width="0.7"/><circle cx="1017" cy="213" r="5" fill="#341008"/><path d="M1016.3 220.8h0.9v0.9h-0.9z M1020.8 217.9h0.9v0.9h-0.9z M1021.1 215.6h0.9v0.9h-0.9z M1022 212h0.9v0.9h-0.9z M1010.2 206.1h0.9v0.9h-0.9z M1007.6 214.2h0.9v0.9h-0.9z" fill="#341008" opacity="0.8"/><path d="M1047.1 234 L1046.6 234.9 L1046.2 235.8 L1046.1 236.7 L1046.2 237.7 L1046.3 238.8 L1046 239.8 L1045.4 240.6 L1044.5 241.1 L1043.5 241.5 L1042.7 242 L1042 242.6 L1041.4 243.4 L1040.8 244.3 L1040 244.9 L1039 245.1 L1037.9 244.9 L1036.9 244.6 L1036 244.4 L1035.1 244.5 L1034.1 244.7 L1033.1 245 L1032 244.9 L1031.1 244.4 L1030.4 243.6 L1029.9 242.7 L1029.3 242 L1028.6 241.4 L1027.7 241 L1026.7 240.5 L1026 239.8 L1025.6 238.9 L1025.6 237.8 L1025.7 236.8 L1025.8 235.8 L1025.5 234.9 L1025.1 234 L1024.7 233 L1024.6 232 L1024.9 231 L1025.6 230.2 L1026.3 229.5 L1027 228.8 L1027.4 228 L1027.7 227 L1028 226 L1028.5 225.1 L1029.4 224.6 L1030.4 224.4 L1031.5 224.3 L1032.4 224.2 L1033.3 223.9 L1034.1 223.3 L1035 222.7 L1036 222.4 L1037 222.5 L1037.9 223.1 L1038.8 223.7 L1039.6 224.2 L1040.4 224.5 L1041.4 224.6 L1042.5 224.7 L1043.5 225.1 L1044.1 225.9 L1044.5 226.9 L1044.7 227.9 L1045 228.8 L1045.5 229.6 L1046.2 230.3 L1047 231.1 L1047.4 232 L1047.5 233 Z" fill="#633b31" stroke="#341008" stroke-width="0.7"/><circle cx="1038" cy="235" r="5" fill="#341008"/><path d="M1042.4 232.6h0.9v0.9h-0.9z M1035.4 227.1h0.9v0.9h-0.9z M1042.5 233.4h0.9v0.9h-0.9z M1042 228.4h0.9v0.9h-0.9z M1041.6 227h0.9v0.9h-0.9z M1036.5 241.3h0.9v0.9h-0.9z" fill="#341008" opacity="0.8"/><path d="M994.7 240 L994.4 240.9 L994.3 241.8 L994.5 242.8 L994.6 243.9 L994.5 244.9 L994 245.8 L993.1 246.4 L992.2 246.9 L991.4 247.4 L990.7 248 L990.2 248.9 L989.7 249.8 L988.9 250.5 L987.9 250.8 L986.9 250.8 L985.9 250.5 L984.9 250.4 L984 250.5 L983.1 250.8 L982 251.1 L981 251.2 L980.1 250.8 L979.3 250.1 L978.7 249.3 L978 248.5 L977.3 248 L976.3 247.7 L975.3 247.3 L974.5 246.6 L974 245.8 L973.9 244.7 L974 243.7 L973.9 242.7 L973.7 241.8 L973.2 240.9 L972.7 240 L972.5 239 L972.7 238 L973.2 237.1 L974 236.3 L974.6 235.6 L974.9 234.8 L975.1 233.8 L975.3 232.7 L975.8 231.8 L976.6 231.2 L977.6 230.9 L978.7 230.7 L979.6 230.6 L980.4 230.2 L981.2 229.5 L982 228.9 L983 228.5 L984 228.5 L985 228.9 L985.9 229.5 L986.7 229.9 L987.6 230.2 L988.6 230.2 L989.7 230.2 L990.6 230.5 L991.4 231.2 L991.9 232.1 L992.2 233.1 L992.5 234 L993.1 234.8 L993.8 235.4 L994.6 236.1 L995.2 237 L995.3 238 L995.1 239 Z" fill="#633b31" stroke="#341008" stroke-width="0.7"/><circle cx="981" cy="238" r="5" fill="#341008"/><path d="M990.6 238.2h0.9v0.9h-0.9z M992.9 241.3h0.9v0.9h-0.9z M986.7 246.2h0.9v0.9h-0.9z M979.7 234h0.9v0.9h-0.9z M989.4 235.5h0.9v0.9h-0.9z M991.1 238.2h0.9v0.9h-0.9z" fill="#341008" opacity="0.8"/><path d="M1047.3 267.5 L1047.3 268.6 L1047.6 269.7 L1047.9 270.9 L1047.8 272.2 L1047.4 273.3 L1046.5 274.1 L1045.4 274.8 L1044.4 275.4 L1043.7 276.2 L1043.2 277.3 L1042.6 278.4 L1041.8 279.3 L1040.8 279.9 L1039.5 279.9 L1038.3 279.8 L1037.1 279.6 L1036.1 279.8 L1035 280.3 L1033.8 280.8 L1032.6 281 L1031.5 280.7 L1030.5 279.9 L1029.6 279 L1028.8 278.2 L1027.9 277.6 L1026.8 277.3 L1025.6 276.9 L1024.5 276.3 L1023.8 275.3 L1023.5 274.1 L1023.5 272.9 L1023.4 271.7 L1023.1 270.7 L1022.4 269.7 L1021.7 268.7 L1021.3 267.5 L1021.4 266.3 L1022 265.2 L1022.7 264.2 L1023.4 263.3 L1023.8 262.3 L1023.9 261.1 L1024.1 259.9 L1024.5 258.7 L1025.4 257.9 L1026.5 257.4 L1027.7 257.1 L1028.8 256.8 L1029.8 256.3 L1030.6 255.5 L1031.6 254.6 L1032.6 254 L1033.8 253.9 L1035 254.3 L1036.1 254.9 L1037.1 255.4 L1038.2 255.6 L1039.4 255.5 L1040.6 255.4 L1041.8 255.7 L1042.8 256.3 L1043.5 257.4 L1044 258.5 L1044.4 259.6 L1045.1 260.4 L1046.1 261.1 L1047.1 261.9 L1047.8 262.8 L1048.2 264 L1048 265.2 L1047.6 266.4 Z" fill="#633b31" stroke="#341008" stroke-width="0.7"/><circle cx="1032.5" cy="268" r="6.2" fill="#341008"/><path d="M1026.6 264.9h0.9v0.9h-0.9z M1039.9 260.3h0.9v0.9h-0.9z M1026.2 266.9h0.9v0.9h-0.9z M1025.6 273h0.9v0.9h-0.9z M1042.3 273.1h0.9v0.9h-0.9z M1036.4 276.2h0.9v0.9h-0.9z M1043.8 267.4h0.9v0.9h-0.9z" fill="#341008" opacity="0.8"/><path d="M998.2 293 L998.6 294.3 L999.1 295.7 L999.2 297.1 L998.8 298.4 L997.9 299.5 L996.7 300.4 L995.7 301.2 L994.9 302.1 L994.4 303.4 L993.8 304.7 L993 305.9 L991.9 306.7 L990.5 306.9 L989 306.8 L987.7 306.8 L986.5 307 L985.3 307.6 L984 308.3 L982.6 308.7 L981.3 308.5 L980 307.8 L979 306.8 L978 305.9 L976.9 305.3 L975.6 305 L974.2 304.7 L972.9 304.1 L971.9 303.1 L971.4 301.8 L971.3 300.4 L971.1 299 L970.6 297.9 L969.8 296.8 L968.9 295.7 L968.3 294.4 L968.2 293 L968.7 291.7 L969.5 290.4 L970.2 289.3 L970.6 288.1 L970.7 286.8 L970.8 285.4 L971.1 284 L971.9 282.9 L973.2 282.2 L974.5 281.7 L975.8 281.3 L976.9 280.7 L977.8 279.7 L978.8 278.6 L979.9 277.8 L981.3 277.5 L982.7 277.7 L984 278.3 L985.2 278.8 L986.5 279 L987.8 278.8 L989.2 278.6 L990.7 278.7 L991.9 279.3 L992.8 280.4 L993.5 281.7 L994.1 282.9 L994.9 283.9 L996 284.6 L997.2 285.4 L998.3 286.3 L998.8 287.6 L998.8 289 L998.5 290.4 L998.2 291.8 Z" fill="#633b31" stroke="#341008" stroke-width="0.7"/><circle cx="986.5" cy="291" r="7" fill="#341008"/><path d="M977.9 304.4h0.9v0.9h-0.9z M996.2 289.8h0.9v0.9h-0.9z M987.1 281h0.9v0.9h-0.9z M995.3 293h0.9v0.9h-0.9z M984.2 304.8h0.9v0.9h-0.9z M974 297.5h0.9v0.9h-0.9z M973.3 290.1h0.9v0.9h-0.9z M990 281.6h0.9v0.9h-0.9z M977.1 303h0.9v0.9h-0.9z" fill="#341008" opacity="0.8"/><path d="M984.6 215.7 L985.2 216.9 L985.4 218.2 L985.2 219.5 L984.5 220.6 L983.5 221.5 L982.5 222.4 L981.9 223.3 L981.4 224.5 L981 225.7 L980.4 226.9 L979.5 227.8 L978.2 228.2 L976.8 228.2 L975.6 228.2 L974.4 228.5 L973.4 229.1 L972.2 229.9 L971 230.4 L969.7 230.4 L968.5 229.9 L967.4 229 L966.4 228.2 L965.4 227.7 L964.2 227.5 L962.9 227.3 L961.6 226.9 L960.6 226.1 L960 224.9 L959.7 223.6 L959.5 222.4 L959 221.3 L958.2 220.4 L957.3 219.4 L956.6 218.2 L956.3 217 L956.6 215.7 L957.3 214.5 L957.9 213.4 L958.2 212.3 L958.2 211 L958.1 209.7 L958.3 208.4 L958.9 207.2 L960 206.5 L961.2 205.9 L962.4 205.5 L963.4 204.8 L964.2 203.9 L965 202.8 L966 201.9 L967.2 201.5 L968.5 201.5 L969.8 202 L971 202.4 L972.2 202.5 L973.4 202.3 L974.7 202 L976 201.9 L977.2 202.3 L978.2 203.2 L978.9 204.4 L979.6 205.5 L980.4 206.3 L981.4 206.9 L982.6 207.6 L983.7 208.4 L984.4 209.5 L984.5 210.8 L984.3 212.1 L984.1 213.4 L984.2 214.5 Z" fill="#875e55" stroke="#5b352c" stroke-width="0.7"/><circle cx="975" cy="217" r="7" fill="#5b352c"/><path d="M981.6 218.3h0.9v0.9h-0.9z M977.3 223.7h0.9v0.9h-0.9z M965.7 205.8h0.9v0.9h-0.9z M961.2 218.7h0.9v0.9h-0.9z M980.9 216.9h0.9v0.9h-0.9z M963 224h0.9v0.9h-0.9z M960.3 212.5h0.9v0.9h-0.9z M962.7 219.4h0.9v0.9h-0.9z" fill="#5b352c" opacity="0.8"/><path d="M1037.2 241.6 L1037.7 243.2 L1037.6 244.7 L1036.7 246.1 L1035.5 247.3 L1034.6 248.4 L1034.1 249.7 L1033.9 251.4 L1033.6 253 L1032.7 254.3 L1031.2 255 L1029.6 255.3 L1028.1 255.6 L1026.8 256.3 L1025.8 257.4 L1024.6 258.6 L1023.1 259.3 L1021.5 259.1 L1020 258.4 L1018.6 257.7 L1017.2 257.5 L1015.7 257.7 L1014 258 L1012.4 257.8 L1011.1 256.9 L1010.3 255.5 L1009.5 254.1 L1008.6 253 L1007.3 252.2 L1005.8 251.5 L1004.5 250.5 L1003.9 249.1 L1003.9 247.5 L1004.2 245.8 L1004.2 244.4 L1003.7 243 L1002.8 241.6 L1002.3 240 L1002.4 238.5 L1003.3 237.1 L1004.5 235.9 L1005.4 234.8 L1005.9 233.5 L1006.1 231.8 L1006.4 230.2 L1007.3 228.9 L1008.8 228.2 L1010.4 227.9 L1011.9 227.6 L1013.2 226.9 L1014.2 225.8 L1015.4 224.6 L1016.9 223.9 L1018.5 224.1 L1020 224.8 L1021.4 225.5 L1022.8 225.7 L1024.3 225.5 L1026 225.2 L1027.6 225.4 L1028.9 226.3 L1029.7 227.7 L1030.5 229.1 L1031.4 230.2 L1032.7 231 L1034.2 231.7 L1035.5 232.7 L1036.1 234.1 L1036.1 235.7 L1035.8 237.4 L1035.8 238.8 L1036.3 240.2 Z" fill="#875e55" stroke="#5b352c" stroke-width="0.7"/><circle cx="1022" cy="243" r="7.5" fill="#5b352c"/><path d="M1009.4 241.8h0.9v0.9h-0.9z M1013.2 233.7h0.9v0.9h-0.9z M1005.4 244.1h0.9v0.9h-0.9z M1029.4 247.2h0.9v0.9h-0.9z M1015.8 233.1h0.9v0.9h-0.9z M1028 253.1h0.9v0.9h-0.9z M1030.8 240.2h0.9v0.9h-0.9z M1025.6 255.4h0.9v0.9h-0.9z M1014 252.7h0.9v0.9h-0.9z M1010 233.6h0.9v0.9h-0.9z" fill="#5b352c" opacity="0.8"/><path d="M973.1 275 L973.2 276.3 L972.8 277.6 L971.9 278.7 L971 279.7 L970.4 280.8 L970.1 282 L969.9 283.4 L969.6 284.7 L968.8 285.8 L967.6 286.5 L966.3 286.8 L964.9 287 L963.8 287.4 L962.8 288.2 L961.8 289.1 L960.6 289.9 L959.3 290.2 L958 290 L956.7 289.4 L955.6 288.7 L954.5 288.2 L953.2 288.2 L951.8 288.2 L950.4 288.1 L949.2 287.5 L948.4 286.5 L947.8 285.2 L947.4 283.9 L946.8 282.9 L945.9 282 L944.8 281.2 L943.8 280.2 L943.2 279 L943.2 277.6 L943.6 276.3 L944.1 275 L944.3 273.8 L944.2 272.6 L943.9 271.2 L943.8 269.8 L944.1 268.5 L945 267.5 L946.2 266.7 L947.4 266.1 L948.3 265.3 L949 264.3 L949.6 263.1 L950.4 261.9 L951.5 261.1 L952.9 260.9 L954.3 261.1 L955.6 261.3 L956.8 261.3 L958 261 L959.3 260.5 L960.6 260.1 L962 260.2 L963.1 260.9 L964.1 261.9 L964.9 263 L965.9 263.8 L967 264.3 L968.3 264.7 L969.6 265.3 L970.5 266.2 L971 267.5 L971.1 268.9 L971 270.3 L971.2 271.5 L971.8 272.6 L972.5 273.7 Z" fill="#875e55" stroke="#5b352c" stroke-width="0.7"/><circle cx="959" cy="274.5" r="6.5" fill="#5b352c"/><path d="M968.3 277.8h0.9v0.9h-0.9z M968.2 276.2h0.9v0.9h-0.9z M967.2 273.6h0.9v0.9h-0.9z M968.7 273.2h0.9v0.9h-0.9z M964 269.6h0.9v0.9h-0.9z M957.1 264.7h0.9v0.9h-0.9z M950.3 269.1h0.9v0.9h-0.9z M968.8 273.4h0.9v0.9h-0.9z" fill="#5b352c" opacity="0.8"/><path d="M1029.4 277 L1029 278.4 L1028.3 279.7 L1027.4 280.9 L1026.8 282 L1026.5 283.3 L1026.4 284.8 L1026.2 286.2 L1025.5 287.5 L1024.4 288.4 L1023 288.9 L1021.5 289.2 L1020.3 289.7 L1019.3 290.5 L1018.3 291.6 L1017.2 292.6 L1015.8 293.1 L1014.4 293 L1013 292.5 L1011.7 291.8 L1010.5 291.4 L1009.1 291.4 L1007.7 291.6 L1006.2 291.6 L1004.8 291.2 L1003.8 290.2 L1003 288.9 L1002.5 287.5 L1001.8 286.4 L1000.8 285.6 L999.6 284.8 L998.4 283.8 L997.6 282.6 L997.5 281.2 L997.7 279.7 L998.2 278.3 L998.4 277 L998.1 275.7 L997.7 274.3 L997.4 272.8 L997.6 271.4 L998.4 270.2 L999.6 269.3 L1000.8 268.5 L1001.8 267.6 L1002.5 266.5 L1003 265.1 L1003.8 263.8 L1004.8 262.8 L1006.2 262.4 L1007.7 262.4 L1009.1 262.6 L1010.5 262.6 L1011.7 262.1 L1013 261.5 L1014.4 260.9 L1015.8 260.9 L1017.2 261.5 L1018.3 262.4 L1019.3 263.5 L1020.3 264.3 L1021.6 264.8 L1023 265.1 L1024.4 265.6 L1025.5 266.5 L1026.2 267.8 L1026.4 269.3 L1026.5 270.7 L1026.8 272 L1027.4 273.1 L1028.3 274.3 L1029.1 275.6 Z" fill="#875e55" stroke="#5b352c" stroke-width="0.7"/><circle cx="1013.6" cy="278" r="7" fill="#5b352c"/><path d="M1001.5 278.7h0.9v0.9h-0.9z M1002.2 284.4h0.9v0.9h-0.9z M1026.4 278.4h0.9v0.9h-0.9z M1009.4 265h0.9v0.9h-0.9z M1016.1 268h0.9v0.9h-0.9z M1018 266.3h0.9v0.9h-0.9z M1020.7 287.2h0.9v0.9h-0.9z M1001.7 281.5h0.9v0.9h-0.9z M1023.3 283h0.9v0.9h-0.9z" fill="#5b352c" opacity="0.8"/><path d="M1019.3 218 L1018.2 219.7 L1017.2 221.2 L1017.1 222.8 L1017.5 224.7 L1017.6 226.7 L1016.6 228.2 L1014.8 229.1 L1013.2 229.9 L1012.2 231.2 L1011.7 233.1 L1010.8 234.8 L1009.2 235.6 L1007.2 235.5 L1005.3 235.4 L1003.8 236.1 L1002.4 237.4 L1000.8 238.4 L999 238.3 L997.3 237.2 L995.8 236.2 L994.2 236.1 L992.3 236.5 L990.3 236.6 L988.8 235.6 L987.9 233.8 L987.1 232.2 L985.8 231.2 L983.9 230.7 L982.2 229.8 L981.4 228.2 L981.5 226.2 L981.6 224.3 L980.9 222.8 L979.6 221.4 L978.6 219.8 L978.7 218 L979.8 216.3 L980.8 214.8 L980.9 213.2 L980.5 211.3 L980.4 209.3 L981.4 207.8 L983.2 206.9 L984.8 206.1 L985.8 204.8 L986.3 202.9 L987.2 201.2 L988.8 200.4 L990.8 200.5 L992.7 200.6 L994.2 199.9 L995.6 198.6 L997.2 197.6 L999 197.7 L1000.7 198.8 L1002.2 199.8 L1003.8 199.9 L1005.7 199.5 L1007.7 199.4 L1009.2 200.4 L1010.1 202.2 L1010.9 203.8 L1012.2 204.8 L1014.1 205.3 L1015.8 206.2 L1016.6 207.8 L1016.5 209.8 L1016.4 211.7 L1017.1 213.2 L1018.4 214.6 L1019.4 216.2 Z" fill="#a37970" stroke="#7b534c" stroke-width="0.7"/><circle cx="1001" cy="215.5" r="8" fill="#7b534c"/><path d="M992.5 230.9h0.9v0.9h-0.9z M1016.3 218.9h0.9v0.9h-0.9z M1006.7 202.3h0.9v0.9h-0.9z M998.1 229.1h0.9v0.9h-0.9z M1009.4 221.7h0.9v0.9h-0.9z M1013.9 220.3h0.9v0.9h-0.9z M988.4 230h0.9v0.9h-0.9z M999.8 205.7h0.9v0.9h-0.9z M1005.1 228.6h0.9v0.9h-0.9z M1013.4 220.8h0.9v0.9h-0.9z M1002.9 227.9h0.9v0.9h-0.9z" fill="#7b534c" opacity="0.8"/><path d="M971.9 245 L970.9 246.5 L970.5 248 L970.7 249.6 L971.1 251.3 L970.9 253 L969.8 254.3 L968.2 255.2 L966.8 256 L965.9 257.2 L965.3 258.8 L964.5 260.4 L963.2 261.4 L961.4 261.5 L959.6 261.3 L958.1 261.4 L956.7 262.3 L955.3 263.4 L953.7 264 L952.1 263.6 L950.6 262.5 L949.3 261.5 L947.8 261.1 L946.1 261.3 L944.3 261.3 L942.8 260.5 L941.9 259 L941.4 257.3 L940.7 255.9 L939.4 255 L937.8 254.2 L936.5 253 L936.1 251.4 L936.4 249.6 L936.8 248 L936.7 246.5 L935.9 245 L935.1 243.4 L935 241.7 L935.9 240.2 L937.3 239 L938.3 237.8 L938.6 236.3 L938.7 234.5 L939.2 232.8 L940.4 231.7 L942.1 231.2 L943.8 230.9 L945.2 230.2 L946.2 228.9 L947.3 227.5 L948.8 226.7 L950.5 226.8 L952.2 227.5 L953.7 228 L955.2 227.8 L956.9 227.1 L958.6 226.7 L960.1 227.3 L961.3 228.6 L962.3 230.1 L963.5 231 L965.1 231.5 L966.8 231.9 L968.2 232.8 L968.9 234.4 L969 236.2 L969.1 237.8 L969.9 239.1 L971.2 240.3 L972.3 241.7 L972.5 243.4 Z" fill="#a37970" stroke="#7b534c" stroke-width="0.7"/><circle cx="955" cy="245.5" r="7.5" fill="#7b534c"/><path d="M957.5 236.1h0.9v0.9h-0.9z M966.2 238.5h0.9v0.9h-0.9z M953.1 257h0.9v0.9h-0.9z M963.5 247.1h0.9v0.9h-0.9z M945.3 233.3h0.9v0.9h-0.9z M958.9 257.9h0.9v0.9h-0.9z M944.4 253.8h0.9v0.9h-0.9z M959.1 235.8h0.9v0.9h-0.9z M959.2 255.7h0.9v0.9h-0.9z M965.4 243.3h0.9v0.9h-0.9z" fill="#7b534c" opacity="0.8"/><path d="M1010.5 262 L1009.8 263.8 L1010.4 265.7 L1011.2 267.8 L1010.8 269.7 L1009.2 271.1 L1007.3 272.2 L1006.4 273.8 L1006.2 276 L1005.6 278 L1003.9 279 L1001.6 279.2 L999.8 279.6 L998.5 281.1 L997.2 282.9 L995.5 283.9 L993.4 283.3 L991.4 282.4 L989.6 282.5 L987.7 283.5 L985.7 284.3 L983.8 283.6 L982.4 281.8 L981 280.4 L979.1 280.1 L976.9 280.2 L975 279.4 L974.2 277.4 L973.8 275.2 L972.9 273.7 L971 272.8 L969.1 271.5 L968.6 269.7 L969.2 267.5 L969.6 265.5 L968.8 263.8 L967.5 262 L967 260 L968.1 258.2 L969.7 256.7 L970.4 255 L970.2 252.9 L970.1 250.7 L971.2 249.1 L973.3 248.3 L975.2 247.6 L976.3 246.1 L977 244 L978.3 242.4 L980.3 242.1 L982.5 242.5 L984.3 242.3 L985.9 241 L987.6 239.6 L989.6 239.5 L991.5 240.7 L993.1 241.9 L995 242 L997.1 241.4 L999.2 241.4 L1000.6 242.9 L1001.5 245 L1002.7 246.4 L1004.6 247 L1006.8 247.6 L1008.1 249.1 L1008.2 251.3 L1008.1 253.4 L1009 255 L1010.7 256.3 L1011.9 258.1 L1011.7 260.1 Z" fill="#a37970" stroke="#7b534c" stroke-width="0.7"/><circle cx="992" cy="263" r="9.5" fill="#7b534c"/><path d="M994.7 277.4h0.9v0.9h-0.9z M1004.2 273.7h0.9v0.9h-0.9z M994.9 275.9h0.9v0.9h-0.9z M992.1 243.4h0.9v0.9h-0.9z M975 253.7h0.9v0.9h-0.9z M971.9 257.9h0.9v0.9h-0.9z M992.3 278.6h0.9v0.9h-0.9z M977.6 253.1h0.9v0.9h-0.9z M979.6 266.7h0.9v0.9h-0.9z M976 256.4h0.9v0.9h-0.9z M978.7 251.9h0.9v0.9h-0.9z M1004.5 254.2h0.9v0.9h-0.9z" fill="#7b534c" opacity="0.8"/></g>
<path d="M541 200 L540.8 197.5 L541.3 194.9 L543 192.5 L543.9 189.5 L544.7 186.3 L547 183.8 L548 180.5 L549.6 177.6 L552.4 175.6 L553.5 172.5 L555.7 170.4 L558.8 169.2 L560.7 166.4 L563.5 164.8 L566.7 163.7 L569.1 161.3 L572.2 160.2 L575.2 158.9 L577.7 156.9 L580.7 156.2 L583.3 154.8 L585.7 153 L588.5 152.4 L591.2 151.6 L593.5 149.9 L596.2 149.2 L599.2 149.1 L601.6 147.3 L604.5 146.5 L607.7 146.6 L610.5 144.7 L613.7 144.2 L617.1 143.9 L620.3 142.3 L623.8 142.5 L627.2 141.3 L630.6 140.5 L634.2 140.9 L637.4 139.3 L640.9 139.2 L644.2 138.8 L647.5 137.7 L650.9 138.2 L654.2 137.1 L657.5 136.6 L661 137.2 L664.2 135.9 L667.6 136.1 L670.9 136.1 L674.3 135.4 L677.7 136.3 L681.1 135.8 L684.6 135.9 L688 137 L691.5 136.3 L694.9 137.1 L698.3 137.6 L701.7 137.5 L704.7 139 L707.9 139.1 L710.9 139.5 L713.6 141 L716.5 141.2 L719.4 141.7 L721.8 143.2 L724.5 144.1 L727.3 144.6 L729.7 146.3 L732 148.1 L735 148.9 L737.3 151.1 L739.6 153.4 L742.6 154.9 L744.6 157.8 L747.3 160 L749.9 162.3 L751.3 165.6 L754.4 167.4 L756.3 170.2 L758.1 173 L760.7 175 L762.1 178 L764 180.6 L766.3 183 L767.3 186.2 L769.4 188.7 L771.2 191.3 L771.8 194.5 L773.9 196.9 L775.4 199.5 L775.7 202.6 L777.6 205.1 L778.9 207.8 L779 210.9 L780.6 213.5 L781.7 216.2 L781.6 219.1 L782.5 221.6 L783.6 224.1 L783.6 226.6 L783 229 L784 231.2 L784.5 233.3 L784.2 235.5 L783.3 237.5 L783.4 239.5 L783.6 241.5 L783.3 243.4 L782.3 245.2 L781 246.7 L781.1 248.7 L780.8 250.7 L780 252.4 L778.7 253.9 L777.2 255.2 L776.8 257.2 L776 258.9 L774.6 260.3 L772.9 261.1 L771.1 261.8 L769.9 263.4 L768.3 264.6 L766.4 265.2 L764.3 265.2 L762.3 265.5 L760.4 266.6 L758.2 267.2 L755.9 266.9 L753.5 266.7 L751.1 267.8 L748.4 268.1 L745.5 267.2 L742.4 268.2 L739.2 268.4 L736 267.3 L732.7 268.4 L729.6 268.1 L726.5 267.3 L723.6 268.1 L720.9 267.8 L718.6 266.7 L716.3 266.8 L714.2 266.9 L712.3 266.3 L710.6 265.3 L709 264.4 L707 264.7 L705.1 264.8 L703.2 264.4 L701 263.5 L698.7 264.2 L696.3 265 L693.6 264.9 L690.9 265 L688.3 266.4 L685.5 266.8 L682.5 266.5 L680 268.2 L677.3 268.8 L674.3 268.4 L671.8 269.9 L669.2 270.8 L666.2 270.7 L663.5 271.8 L660.9 273 L658 273.1 L655.3 273.8 L652.9 275.1 L650.3 275.4 L647.7 275 L645.7 276.5 L643.6 277.3 L641.5 277.4 L639.4 277.1 L637.6 278 L635.8 278.9 L633.9 279.3 L631.9 278.9 L629.8 278.5 L627.7 279.3 L625.3 279.5 L623 278.7 L620.5 277.8 L617.8 278.3 L615.2 277.8 L612.9 276.3 L610.3 276.2 L607.9 276 L605.8 275 L604.2 273.5 L602.4 273 L600.6 272.7 L599 272 L597.8 270.8 L597 269.5 L596.3 268.1 L594.8 267.4 L593.5 266.5 L592.5 265.3 L591.7 263.9 L591.4 262.1 L591.2 260.2 L590.1 258.6 L589.4 256.7 L589.2 254.8 L589.6 252.8 L589.2 251 L588.2 249.6 L587.4 248.5 L586.8 247.5 L586.2 246.6 L585.5 245.7 L584.5 245.1 L583.2 245.5 L581.9 245.9 L580.5 246 L578.9 245.8 L577.4 245.1 L575.9 244 L574 243.9 L571.9 243.5 L570 242.3 L568.4 240.4 L566 239.5 L563.5 238.6 L561.5 236.7 L559.7 234.7 L557.2 233.9 L555.2 232.4 L553.9 230.4 L552.5 228.7 L550.4 227.6 L548.9 225.9 L548.1 223.8 L547.1 221.8 L545.3 220.5 L544.1 218.8 L543.4 216.9 L543.2 214.9 L542.2 213.5 L541.1 212.3 L540.3 211.2 L539.8 209.9 L539.7 208.7 L539.7 207.4 L540.1 206.1 L539.6 204.8 L539.2 203.3 L539.3 201.6 Z" fill="#e1b1ab"/>
<path d="M546 201 L545.8 198.7 L546.5 196.4 L548.2 194.1 L548.3 191.1 L550 188.6 L550.9 185.6 L552.4 182.9 L554.1 180.4 L555.4 177.6 L558 176 L559.3 173.3 L561.8 171.7 L564.1 169.8 L566.5 167.9 L569.5 166.8 L571.8 164.7 L575 164 L577.3 161.8 L580.2 160.9 L582.7 159.4 L585.1 157.9 L588 157.4 L590.1 155.5 L592.9 154.9 L595.3 153.8 L597.8 152.5 L600.7 152.5 L603.1 150.7 L606 150.3 L608.8 149.3 L611.7 148.4 L614.9 148.1 L617.9 146.9 L621.3 147 L624.4 145.6 L627.8 146 L631 144.5 L634.4 144.8 L637.6 143.5 L641 143.7 L644.1 142.6 L647.5 142.6 L650.8 141.9 L654.1 141.7 L657.4 141.2 L660.8 140.9 L664.1 140.7 L667.4 140.4 L670.7 140.5 L674 140.1 L677.3 140.7 L680.6 140.1 L683.9 141.1 L687.3 140.4 L690.5 141.7 L693.9 141 L697 142.1 L700.2 142 L703.2 142.8 L706.1 143.3 L709 143.8 L711.6 145.3 L714.5 145.3 L717 146.7 L719.6 147.5 L722.1 148.2 L724.2 150.1 L726.9 150.6 L729.2 152 L731.2 153.7 L733.8 154.6 L735.6 156.6 L737.8 158.1 L740.1 159.6 L741.5 162.1 L744 163.3 L745.7 165.4 L747.2 167.6 L749.3 169.3 L750.3 171.8 L752 173.8 L753.5 176 L754 178.7 L755.9 180.8 L756.7 183.4 L757.3 186 L758.8 188.3 L759 191 L760 193.4 L760.9 195.8 L760.7 198.4 L761.9 200.8 L762.4 203.3 L762.1 206 L763.2 208.4 L763.1 210.9 L762.9 213.4 L763.5 215.8 L763 218 L762.2 220 L762.5 222.2 L762 224.1 L760.8 225.9 L760.4 227.8 L760 229.7 L758.8 231.3 L757 232.4 L756.1 234.3 L754.5 235.8 L752.2 236.3 L749.9 237.5 L747.3 238.5 L744.3 238.1 L741.3 239.5 L737.9 238.9 L734.5 240 L730.9 239.4 L727.3 240.4 L723.6 239.7 L720.1 241 L716.3 240.5 L712.6 241.8 L708.6 241.6 L704.7 242.4 L700.6 242.8 L696.4 242.7 L692.3 243.8 L688.2 243.4 L684.1 244.5 L680.1 244.7 L676 244.9 L672 245.8 L667.9 245.3 L663.9 246.7 L659.8 246.6 L655.8 247.3 L651.8 247.8 L647.8 247.7 L643.9 248.7 L640 248 L636.2 249.3 L632.2 249 L628.3 249.8 L624.3 250 L620.4 250.2 L616.7 250.7 L613.1 250.5 L609.7 251 L606.7 250.8 L604 250.4 L601.6 250.7 L599.6 250 L598.2 248.8 L596.6 248.6 L595.2 248.2 L594.1 247.5 L593.3 246.6 L592.5 245.4 L591.2 245 L589.7 244.8 L588.2 244.4 L586.8 243.6 L585.3 242.7 L583.6 242.9 L581.9 242.8 L580.4 242.1 L578.9 240.9 L577.1 241 L575.3 240.7 L573.7 239.6 L572.3 238.2 L570.2 238 L568.3 237.1 L566.8 235.5 L564.8 234.6 L562.8 233.8 L561.3 232.3 L559.8 230.8 L557.8 230 L556.4 228.6 L555.5 226.8 L554 225.6 L552.4 224.3 L551.5 222.6 L551 220.6 L549.3 219.4 L548.2 217.9 L547.8 216.1 L547.5 214.4 L546.4 213.3 L545.6 212.1 L545.1 211 L545 209.8 L545.1 208.7 L544.9 207.7 L544.4 206.6 L544.1 205.4 L544.3 204 L544.9 202.6 Z" fill="#e7cdc3" stroke="#dba7a1" stroke-width="1.3"/>
<path d="M597 262 L596.2 260.8 L595.6 259.3 L595.6 257.6 L596.1 255.9 L596.3 254.1 L596.1 252.1 L596.6 250.3 L597.8 248.8 L598.6 247.1 L599.3 245.4 L600.6 244.1 L602.4 243.4 L603.8 242.1 L605.3 240.7 L607.4 240 L609.7 239.5 L611.6 237.9 L614.2 237.3 L616.9 236.4 L619.7 235.1 L623.1 234.6 L626.5 233 L630.4 232.2 L634.4 231.1 L638.5 229.7 L643 229.4 L647.2 227.7 L651.5 226.8 L655.9 226.5 L659.8 225 L664 225 L667.9 224 L671.9 223.7 L676 223.5 L679.9 222.7 L684 223.3 L687.9 222.1 L692 222.4 L695.9 221.6 L699.9 221.3 L704 221.1 L708.2 219.9 L712.6 219.8 L716.8 218.6 L721.1 217.8 L725.4 217.9 L729.4 216.5 L733.3 216.9 L736.8 216 L740 216.9 L743 216.3 L745.6 217.3 L748.1 217.8 L750.6 218.2 L752.4 219.7 L754.4 220.7 L756.4 221.4 L757.8 222.8 L758.8 224.7 L760.5 225.5 L761.9 226.9 L762.6 228.8 L763.1 230.8 L764.4 232.5 L764.9 234.5 L764.6 236.6 L765.1 238.6 L765.5 240.6 L765.1 242.4 L764.1 244 L764.1 245.8 L763.8 247.6 L762.8 249.2 L761.3 250.4 L760.7 252.3 L759.6 254 L757.8 255.1 L756 256.1 L754.5 257.8 L752.3 258.7 L749.8 259 L747.4 260.4 L744.5 260.5 L741.5 261.2 L738.3 261.6 L735.1 261.6 L731.8 262.2 L728.4 261.9 L725.2 262.7 L722 262.1 L718.9 263.2 L715.7 262.5 L712.5 263.3 L709.2 262.7 L706 263.2 L702.8 262.9 L699.5 263.1 L696.3 263.2 L693.2 263.2 L690.1 263.9 L687 263.7 L684.1 265 L681 264.9 L678.2 266.4 L675.1 266.8 L672.2 267.8 L669.3 268.7 L666.2 269.1 L663.3 270.3 L660 270.1 L657 271.5 L653.6 271.2 L650.4 272.6 L646.9 272.4 L643.6 273.6 L640.2 273.4 L637 274.4 L633.8 274.3 L630.8 274.6 L628 274.9 L625.3 274 L622.7 274.7 L620.2 274.2 L617.8 273.5 L615.4 273.7 L613.2 273 L611.3 271.9 L609.2 272 L607.3 271.5 L605.8 270.4 L604.4 269.6 L602.8 269.5 L601.5 269 L600.4 268.2 L599.6 267.1 L599.1 266 L598 265.4 L597.1 264.6 L596.4 263.5 Z" fill="#e8d0c6" stroke="#d9a39d" stroke-width="1.4"/>
<clipPath id="bclip"><path d="M541 200 C542.9 193.3 547.6 180.5 554.3 173.3 C561 166.1 572.1 161.1 581 156.7 C589.9 152.3 597.7 149.5 607.7 146.7 C617.7 143.9 629.9 141.7 641 140 C652.1 138.3 663.2 136.7 674.3 136.7 C685.4 136.7 697.7 137.8 707.7 140 C717.7 142.2 726 144.4 734.3 150 C742.6 155.6 751 165 757.7 173.3 C764.4 181.6 770.1 191.1 774.3 200 C778.5 208.9 781.6 218.9 782.7 226.7 C783.8 234.5 783 240.9 781 246.7 C779 252.5 776 258.4 771 261.7 C766 265 759.3 265.9 751 266.7 C742.7 267.5 729.3 267.3 721 266.7 C712.7 266.1 708.8 263 701 263.3 C693.2 263.6 683.2 266.4 674.3 268.3 C665.4 270.2 655.5 273.3 647.7 275 C639.9 276.7 634.9 278.6 627.7 278.3 C620.5 278 610.1 275.8 604.3 273.3 C598.5 270.8 595.5 267.7 592.7 263.3 C589.9 258.9 590.8 250 587.7 246.7 C584.6 243.4 579.9 246.1 574.3 243.3 C568.7 240.5 559.6 235 554.3 230 C549 225 544.9 218.3 542.7 213.3 C540.5 208.3 539.1 206.7 541 200 Z"/></clipPath>
<g clip-path="url(#bclip)"><path d="M652.2 215.7 Q660.1 212.3 667.9 207.6 M591.7 209.5 Q581.1 200.1 577 193.9 M570.5 247.6 Q572.2 245.5 566.1 235.9 M697.8 222.8 Q701.4 224.4 704.5 233 M593 175 Q601.1 179.4 610.2 178.3 M667.3 226 Q657 224.2 647.4 226 M775.5 271.4 Q779.5 260.6 786.5 254.2 M615.3 153 Q619 143.7 617 136.3 M766.5 252.5 Q777.1 252.2 781 252.5 M771.6 194.9 Q782.6 197.4 789.1 203.5 M569.7 186.6 Q576.9 182.2 590.3 181.8 M572.8 151.7 Q575.4 144.5 577 138.1 M593.1 237.7 Q596.7 244.3 606.5 252.1 M598.1 178.5 Q607.2 179.6 619.4 174.6 M597.6 194.5 Q600.4 190.6 609.6 178.9 M598.2 177.1 Q597.7 165.8 600.5 161.3 M570.4 218.6 Q569.8 227.8 571.2 237.8 M766.8 205.9 Q754.2 198.1 746.8 195.8 M755.3 248.7 Q757.2 259.3 755.3 263 M594.4 265.6 Q600.9 256 608.6 252.6 M558.7 267.2 Q557.5 280 560.2 287.6 M684.8 181.6 Q686 188.6 694.1 200 M676.4 253.1 Q674 245.7 664.8 243 M553.7 178.5 Q545.2 179.5 541.8 182.7 M679.3 160.8 Q675.8 170.7 664.6 178.1 M706.2 218.8 Q706.3 226.9 714.1 228.4 M708.4 267.2 Q718 270.4 727.9 269.8 M622.1 271.9 Q632.2 279.3 638.6 280.4 M716.6 234.1 Q718.5 224.5 722.8 211.9 M753.6 255.5 Q747.2 261.4 734.9 266.2 M691.2 192.9 Q679.5 189.3 674.5 183.4 M774.5 256.6 Q775.2 249 772.2 240.1 M649.6 251.3 Q654.9 257.4 667.7 261.9 M658.7 173.5 Q656.7 168.3 653 156.4 M607.8 145.4 Q602.3 152.4 601.5 164.6 M754.7 228.5 Q742.7 233.9 733.5 236.6 M594.9 199.2 Q601.9 187.4 602.8 177.6 M681.8 184.5 Q690.4 194.1 693.6 198.1 M710.7 265.6 Q709.2 270.7 708.4 279.4 M598.4 197 Q590.6 193.3 585.8 184.3 M771.9 201.9 Q780.4 201 783 207.5 M710.2 217 Q702.4 224.1 702.4 237.1 M652.8 147.2 Q653.5 137 659.9 134.1 M692.2 201.1 Q687.9 197.6 678.6 186.7 M704.7 169.5 Q693.8 170.4 690.7 171.7 M711.4 166.9 Q711.9 175.1 709.1 182.9 M688.9 240.8 Q683.7 244.2 672 254.1 M760.8 236.5 Q767.7 246.1 772.7 249.2" fill="none" stroke="#d49d97" stroke-width="1"/><path d="M596 243 Q616 226 640 221 T700 213 T744 214 M622 262 Q652 256 690 250 M756 190 Q767 208 762 228 T771 248 M560 190 Q575 200 590 196 M604 160 Q614 178 630 182 M650 150 Q660 165 658 180 M700 150 Q712 165 706 185 M735 170 Q745 188 740 206 M566 214 Q580 220 596 214 M620 200 Q635 210 650 204" fill="none" stroke="#d39a95" stroke-width="1.1"/>
<path d="M634.1 216.5 Q639.6 215.9 643.1 217.3 M757.8 203.5 Q761.7 201.5 763.6 201.6 M709.4 247.5 Q714.4 245 717.5 244.6 M598.5 257.6 Q604.3 257.9 608 260.2 M669.1 244.1 Q672.9 239.2 674.8 236.4 M738.6 189.2 Q740.3 184.7 740.1 182.2 M672 241.3 Q675.1 238.8 676.1 238.3 M728.4 153.9 Q732.3 152.8 734.2 153.6 M625 243.7 Q626.9 240 626.9 238.3 M664.6 235.7 Q669.8 234.8 673 235.8 M758.2 207.1 Q761.8 206.6 763.5 208.2 M600.3 211.3 Q603.7 206.7 605.1 204.1 M691.3 210.8 Q696.2 209.9 699.1 211 M620 193.3 Q625.7 192.4 629.5 193.5 M597.4 251.5 Q602.1 251.4 604.8 253.3 M676.9 170.9 Q681.1 168 683.4 167.1 M683.9 149.4 Q688.6 149.4 691.3 151.3 M639.3 245.3 Q643.6 242.6 645.9 241.8 M702.6 154.2 Q706.7 151.4 708.7 150.6 M760.6 260.5 Q763.5 256.4 764.5 254.2 M579.7 199.8 Q585.4 198.6 589.2 199.5 M655.9 185.3 Q658.5 180.6 659.1 177.9" fill="none" stroke="#f4dfd8" stroke-width="1.5" stroke-linecap="round"/></g>
<circle cx="677" cy="171" r="18" fill="#3b2a2b"/><circle cx="672" cy="166" r="5" fill="#4a3839"/><circle cx="684" cy="176" r="4" fill="#4a3839"/>
<path d="M541.1 180.9 C495 178 445 190 400.5 213.5" fill="none" stroke="#231815" stroke-width="2.2"/>
<path d="M386.5 222.3 L399.7 204 L400.4 214.2 L409 218.3 Z" fill="#231815"/>
<path d="M771.1 181 C818 178 865 190 911.6 215" fill="none" stroke="#231815" stroke-width="2.2"/>
<path d="M925.2 222.4 L913 204.4 L911.6 215.3 L903.4 218.3 Z" fill="#231815"/>
<rect x="1093.8" y="196.5" width="4.4" height="68.1" fill="#e60012"/>
<path d="M1096 168.7 L1116.5 204 L1096 197.5 L1075.5 204 Z" fill="#e60012"/>
<g transform="translate(92.3 490.5) rotate(51)"><ellipse cx="-1" cy="-1" rx="43" ry="14" fill="#73c4b3" stroke="#a3d3ee" stroke-width="1.8"/><path transform="translate(0 -2)" d="M-44 -6 C-43 -27 -20 -39 2 -39 C26 -39 41 -26 40 -13 C40 -9 37 -7 33 -7 C10 -11 -20 -12 -44 -6 Z" fill="#d3eaf0" stroke="#a3d3ee" stroke-width="1.8"/><path transform="translate(0 2)" d="M-43 5 C-43 25 -23 38 -3 38 C21 38 39 26 38 11 C37 7 34 5 30 5 C10 9 -20 10 -43 5 Z" fill="#d3eaf0" stroke="#a3d3ee" stroke-width="1.8"/></g>
<g transform="translate(1239.4 489.5) scale(-1 1) rotate(51)"><ellipse cx="-1" cy="-1" rx="43" ry="14" fill="#73c4b3" stroke="#a3d3ee" stroke-width="1.8"/><path transform="translate(0 -2)" d="M-44 -6 C-43 -27 -20 -39 2 -39 C26 -39 41 -26 40 -13 C40 -9 37 -7 33 -7 C10 -11 -20 -12 -44 -6 Z" fill="#d3eaf0" stroke="#a3d3ee" stroke-width="1.8"/><path transform="translate(0 2)" d="M-43 5 C-43 25 -23 38 -3 38 C21 38 39 26 38 11 C37 7 34 5 30 5 C10 9 -20 10 -43 5 Z" fill="#d3eaf0" stroke="#a3d3ee" stroke-width="1.8"/></g>
<circle cx="105.2" cy="547.6" r="14.5" fill="#f5b42a"/><circle cx="131.6" cy="531.7" r="14.5" fill="#f5b42a"/><circle cx="132.7" cy="561" r="14.5" fill="#f5b42a"/>
<circle cx="473.7" cy="409.6" r="14.5" fill="#f5b42a"/><circle cx="446.7" cy="434" r="14.5" fill="#f5b42a"/><circle cx="501.4" cy="434.5" r="14.5" fill="#f5b42a"/><circle cx="466.8" cy="464.9" r="14.5" fill="#f5b42a"/>
<circle cx="835.5" cy="372.3" r="14.4" fill="#f5b42a"/><circle cx="795.3" cy="393.5" r="14.4" fill="#f5b42a"/><circle cx="863.2" cy="399" r="14.4" fill="#f5b42a"/><circle cx="830" cy="414" r="14.4" fill="#f5b42a"/><circle cx="796.6" cy="437" r="14.4" fill="#f5b42a"/><circle cx="889.9" cy="428.8" r="14.4" fill="#f5b42a"/><circle cx="855" cy="445.7" r="14.4" fill="#f5b42a"/><circle cx="824.6" cy="464.7" r="14.4" fill="#f5b42a"/>
<circle cx="1211.5" cy="543.5" r="14.5" fill="#f5b42a"/>
<ellipse cx="334.7" cy="564.1" rx="68" ry="40.6" fill="#e8d2e4" stroke="#a6d7f1" stroke-width="2.2"/>
<ellipse cx="987" cy="565.2" rx="67.6" ry="40.3" fill="#e8d2e4" stroke="#a6d7f1" stroke-width="2.2"/>
<ellipse cx="796.6" cy="566.8" rx="54" ry="31.6" fill="url(#gItch)" stroke="#3a3a3a" stroke-width="1"/>
<path d="M851 566.7 H916.5 M900.5 560.3 L917 566.7 L900.5 573.3" fill="none" stroke="#231815" stroke-width="1.9"/>
<rect x="937.8" y="399.3" width="4.4" height="69" fill="#e60012"/>
<path d="M940 371.8 L960.5 407.6 L940 400.3 L919.5 407.6 Z" fill="#e60012"/>
<rect x="1078.5" y="517.2" width="4.4" height="63" fill="#1d2088"/>
<path d="M1080.7 606.4 L1101 571.6 L1080.7 579.7 L1060.3 571.6 Z" fill="#1d2088"/>
<rect x="2" y="619" width="1319" height="334" fill="url(#gBand)"/>
<rect x="0" y="619" width="1324" height="4.2" fill="#231815"/>
<rect x="0" y="948.8" width="1324" height="4.2" fill="#231815"/>
<rect x="297.5" y="669" width="726.5" height="264" rx="46" ry="46" fill="#c8e7f8"/>
<circle cx="41.6" cy="771.3" r="14.6" fill="#e53a27"/><circle cx="78.4" cy="766.7" r="14.6" fill="#e53a27"/><circle cx="57" cy="807.3" r="14.6" fill="#e53a27"/>
<circle cx="1246.4" cy="735.3" r="14.6" fill="#e53a27"/><circle cx="1277.3" cy="748.5" r="14.6" fill="#e53a27"/><circle cx="1225.5" cy="765.8" r="14.6" fill="#e53a27"/><circle cx="1255.4" cy="777.8" r="14.6" fill="#e53a27"/><circle cx="1286.3" cy="785.3" r="14.6" fill="#e53a27"/><circle cx="1230.5" cy="804.3" r="14.6" fill="#e53a27"/><circle cx="1261.4" cy="815.3" r="14.6" fill="#e53a27"/><circle cx="1292.7" cy="825.2" r="14.6" fill="#e53a27"/><circle cx="1239" cy="838.6" r="14.6" fill="#e53a27"/><circle cx="1270.4" cy="848.2" r="14.6" fill="#e53a27"/>
<rect x="134.2" y="780" width="113.8" height="6" fill="#fff100"/><rect x="240.9" y="761" width="7.1" height="44.2" fill="#fff100"/>
<rect x="1080.3" y="779.8" width="113.7" height="6.3" fill="#fff100"/><rect x="1080.3" y="760.8" width="6.7" height="43.9" fill="#fff100"/>
<path d="M322.8 757.5 C326 758 330 772 336 783 C344 797 351 810 350.5 826 C350 845 342 860 341 878 C341 888 346 896 346.6 899.4 C343 899 336 887 328 876 C315 860 303 846 302.9 827 C303 808 315 790 318 775 C320 765 320 758 322.8 757.5 Z" fill="#d9b9a0" stroke="#c49b7d" stroke-width="1.6"/><ellipse cx="329.8" cy="823.5" rx="11.5" ry="17" fill="#c0906f"/>
<rect x="354" y="820.7" width="29" height="4" fill="#231815"/>
<circle cx="477" cy="831" r="76" fill="#b59680"/>
<g transform="translate(440 768) rotate(-112)"><path d="M0 -62 C4.5 -43.4 15 -27.9 15 -6.2 C15 18.6 3.8 37.2 0 62 C-3.8 37.2 -15 18.6 -15 -6.2 C-15 -27.9 -4.5 -43.4 0 -62 Z" fill="#b39479" stroke="#a08068" stroke-width="1.1"/></g>
<g transform="translate(546 797) rotate(-24)"><path d="M0 -58 C5.1 -40.6 17 -26.1 17 -5.8 C17 17.4 4.2 34.8 0 58 C-4.2 34.8 -17 17.4 -17 -5.8 C-17 -26.1 -5.1 -40.6 0 -58 Z" fill="#a98a72" stroke="#9a7b63" stroke-width="1.1"/><ellipse cx="0" cy="-5.8" rx="8" ry="12" fill="#8f6048"/></g>
<g transform="translate(433 868) rotate(-42)"><path d="M0 -58 C5.4 -40.6 18 -26.1 18 -5.8 C18 17.4 4.5 34.8 0 58 C-4.5 34.8 -18 17.4 -18 -5.8 C-18 -26.1 -5.4 -40.6 0 -58 Z" fill="#c4a488" stroke="#b39078" stroke-width="1.1"/><ellipse cx="0" cy="11.6" rx="9" ry="12" fill="#a57e66"/></g>
<g transform="translate(508 893) rotate(-98)"><path d="M0 -55 C4.8 -38.5 16 -24.8 16 -5.5 C16 16.5 4 33 0 55 C-4 33 -16 16.5 -16 -5.5 C-16 -24.8 -4.8 -38.5 0 -55 Z" fill="#c4a488" stroke="#b39078" stroke-width="1.1"/><ellipse cx="0" cy="27.5" rx="9" ry="12" fill="#94664c"/></g>
<g transform="translate(500 781) rotate(-79)"><path d="M0 -60 C5.4 -42 18 -27 18 -6 C18 18 4.5 36 0 60 C-4.5 36 -18 18 -18 -6 C-18 -27 -5.4 -42 0 -60 Z" fill="#d9b9a0" stroke="#c49b7d" stroke-width="1.1"/><ellipse cx="0" cy="3" rx="10" ry="14" fill="#c0906f"/></g>
<g transform="translate(436 788) rotate(-94)"><path d="M0 -52 C4.5 -36.4 15 -23.4 15 -5.2 C15 15.6 3.8 31.2 0 52 C-3.8 31.2 -15 15.6 -15 -5.2 C-15 -23.4 -4.5 -36.4 0 -52 Z" fill="#c9a98f" stroke="#b8987e" stroke-width="1.1"/><ellipse cx="0" cy="15.6" rx="8" ry="12" fill="#a98268"/></g>
<g transform="translate(444 843) rotate(-154)"><path d="M0 -57 C6.3 -39.9 21 -25.7 21 -5.7 C21 17.1 5.2 34.2 0 57 C-5.2 34.2 -21 17.1 -21 -5.7 C-21 -25.7 -6.3 -39.9 0 -57 Z" fill="#d9b9a0" stroke="#c49b7d" stroke-width="1.1"/><ellipse cx="0" cy="-17.1" rx="11" ry="15" fill="#c0906f"/></g>
<g transform="translate(492 833) rotate(-120)"><path d="M0 -64 C6 -44.8 20 -28.8 20 -6.4 C20 19.2 5 38.4 0 64 C-5 38.4 -20 19.2 -20 -6.4 C-20 -28.8 -6 -44.8 0 -64 Z" fill="#d9b9a0" stroke="#c49b7d" stroke-width="1.1"/><ellipse cx="0" cy="0" rx="11" ry="15" fill="#c0906f"/></g>
<g transform="translate(509 866) rotate(-113)"><path d="M0 -58 C5.1 -40.6 17 -26.1 17 -5.8 C17 17.4 4.2 34.8 0 58 C-4.2 34.8 -17 17.4 -17 -5.8 C-17 -26.1 -5.1 -40.6 0 -58 Z" fill="#d9b9a0" stroke="#c49b7d" stroke-width="1.1"/><ellipse cx="0" cy="-5.8" rx="10" ry="14" fill="#c0906f"/></g>
<path d="M594 920 L596 905 L604 888 L614 862 L632 830 L660 818 L698 804 L735 790 L748 761 L755 721 L770 714 L785 717 L786 920 Z" fill="#f5e3e6"/>
<path d="M755.8 713.5 C758.6 709.6 764.5 708.6 769 708 C773.5 707.4 780.2 701.3 783 710 C785.8 718.7 785.1 742.5 785.5 760 C785.9 777.5 786.8 803.4 785.5 815 C784.2 826.6 781.2 826.5 777.5 829.5 C773.8 832.5 768.4 833 763 833 C757.6 833 749.2 827.7 745 829.5 C740.8 831.3 740.1 838 737.7 844 C735.3 850 734.6 858.5 730.4 865.8 C726.2 873 718.9 883.9 712.3 887.5 C705.6 891.1 694.4 889.9 690.5 887.5 C686.6 885.1 689.9 877.8 688.7 873 C687.5 868.2 686.6 863.9 683.3 858.5 C680 853.1 672.4 841.6 668.8 840.4 C665.2 839.2 663.3 845.9 661.5 851.3 C659.7 856.7 662.1 867 657.9 873 C653.7 879 643.4 885.1 636.1 887.5 C628.9 889.9 617.7 891.1 614.4 887.5 C611.1 883.9 614.7 874.2 616.2 865.8 C617.7 857.3 620.2 842.8 623.5 836.8 C626.8 830.8 629.8 831.3 636.1 829.5 C642.4 827.7 654.2 829 661.5 826 C668.8 823 671.2 815 679.7 811.4 C688.2 807.8 703.2 806 712.3 804.2 C721.3 802.4 728 804.7 734 800.5 C740 796.3 745.5 785.4 748.5 778.8 C751.5 772.1 751.6 768.5 752.2 760.6 C752.8 752.7 751.6 739.5 752.2 731.6 C752.8 723.8 753 717.4 755.8 713.5 Z" fill="#c3d3e9" fill-opacity="0.95"/>
<clipPath id="mclipm"><path d="M755.8 713.5 C758.6 709.6 764.5 708.6 769 708 C773.5 707.4 780.2 701.3 783 710 C785.8 718.7 785.1 742.5 785.5 760 C785.9 777.5 786.8 803.4 785.5 815 C784.2 826.6 781.2 826.5 777.5 829.5 C773.8 832.5 768.4 833 763 833 C757.6 833 749.2 827.7 745 829.5 C740.8 831.3 740.1 838 737.7 844 C735.3 850 734.6 858.5 730.4 865.8 C726.2 873 718.9 883.9 712.3 887.5 C705.6 891.1 694.4 889.9 690.5 887.5 C686.6 885.1 689.9 877.8 688.7 873 C687.5 868.2 686.6 863.9 683.3 858.5 C680 853.1 672.4 841.6 668.8 840.4 C665.2 839.2 663.3 845.9 661.5 851.3 C659.7 856.7 662.1 867 657.9 873 C653.7 879 643.4 885.1 636.1 887.5 C628.9 889.9 617.7 891.1 614.4 887.5 C611.1 883.9 614.7 874.2 616.2 865.8 C617.7 857.3 620.2 842.8 623.5 836.8 C626.8 830.8 629.8 831.3 636.1 829.5 C642.4 827.7 654.2 829 661.5 826 C668.8 823 671.2 815 679.7 811.4 C688.2 807.8 703.2 806 712.3 804.2 C721.3 802.4 728 804.7 734 800.5 C740 796.3 745.5 785.4 748.5 778.8 C751.5 772.1 751.6 768.5 752.2 760.6 C752.8 752.7 751.6 739.5 752.2 731.6 C752.8 723.8 753 717.4 755.8 713.5 Z"/></clipPath>
<g clip-path="url(#mclipm)" opacity="0.7"><circle cx="770.3" cy="722.3" r="10.4" fill="#bfcfe7" stroke="#b3c5e0" stroke-width="0.8"/><circle cx="763.9" cy="743.9" r="10.8" fill="#bfcfe7" stroke="#b3c5e0" stroke-width="0.8"/><circle cx="774.7" cy="738.7" r="10.8" fill="#bfcfe7" stroke="#b3c5e0" stroke-width="0.8"/><circle cx="763.9" cy="761.2" r="8.3" fill="#bfcfe7" stroke="#b3c5e0" stroke-width="0.8"/><circle cx="777.3" cy="762.8" r="9.6" fill="#bfcfe7" stroke="#b3c5e0" stroke-width="0.8"/><circle cx="758" cy="783.1" r="8.7" fill="#bfcfe7" stroke="#b3c5e0" stroke-width="0.8"/><circle cx="776.2" cy="792.2" r="10.3" fill="#bfcfe7" stroke="#b3c5e0" stroke-width="0.8"/><circle cx="741.1" cy="807.8" r="8.4" fill="#bfcfe7" stroke="#b3c5e0" stroke-width="0.8"/><circle cx="763.7" cy="823.8" r="8" fill="#bfcfe7" stroke="#b3c5e0" stroke-width="0.8"/><circle cx="781.6" cy="813.3" r="8.6" fill="#bfcfe7" stroke="#b3c5e0" stroke-width="0.8"/><circle cx="749.6" cy="828.2" r="8.9" fill="#bfcfe7" stroke="#b3c5e0" stroke-width="0.8"/><circle cx="722.3" cy="817" r="10" fill="#bfcfe7" stroke="#b3c5e0" stroke-width="0.8"/><circle cx="692.4" cy="821.3" r="10.1" fill="#bfcfe7" stroke="#b3c5e0" stroke-width="0.8"/><circle cx="675.2" cy="837.4" r="8.9" fill="#bfcfe7" stroke="#b3c5e0" stroke-width="0.8"/><circle cx="706" cy="833" r="8.4" fill="#bfcfe7" stroke="#b3c5e0" stroke-width="0.8"/><circle cx="729.6" cy="846.5" r="9.8" fill="#bfcfe7" stroke="#b3c5e0" stroke-width="0.8"/><circle cx="707.5" cy="850.6" r="9" fill="#bfcfe7" stroke="#b3c5e0" stroke-width="0.8"/><circle cx="693.1" cy="860.4" r="9.4" fill="#bfcfe7" stroke="#b3c5e0" stroke-width="0.8"/><circle cx="707.6" cy="867.5" r="10.1" fill="#bfcfe7" stroke="#b3c5e0" stroke-width="0.8"/><circle cx="653.4" cy="856" r="8.1" fill="#bfcfe7" stroke="#b3c5e0" stroke-width="0.8"/><circle cx="635.8" cy="848" r="8.1" fill="#bfcfe7" stroke="#b3c5e0" stroke-width="0.8"/><circle cx="634.2" cy="865" r="9.7" fill="#bfcfe7" stroke="#b3c5e0" stroke-width="0.8"/><circle cx="644.1" cy="874" r="8.5" fill="#bfcfe7" stroke="#b3c5e0" stroke-width="0.8"/><circle cx="626.2" cy="882.2" r="10.3" fill="#bfcfe7" stroke="#b3c5e0" stroke-width="0.8"/><circle cx="722.1" cy="884.8" r="9" fill="#bfcfe7" stroke="#b3c5e0" stroke-width="0.8"/></g>
<ellipse cx="769.6" cy="720.8" rx="4.2" ry="3.2" fill="#8fb0d7" transform="rotate(-25 769.6 720.8)"/><ellipse cx="761.2" cy="742.5" rx="4.2" ry="3.2" fill="#8fb0d7" transform="rotate(-25 761.2 742.5)"/><ellipse cx="777.5" cy="738.9" rx="4.2" ry="3.2" fill="#8fb0d7" transform="rotate(-25 777.5 738.9)"/><ellipse cx="763" cy="758.8" rx="4.2" ry="3.2" fill="#8fb0d7" transform="rotate(-25 763 758.8)"/><ellipse cx="777.5" cy="764.3" rx="4.2" ry="3.2" fill="#8fb0d7" transform="rotate(-25 777.5 764.3)"/><ellipse cx="757.6" cy="786" rx="4.2" ry="3.2" fill="#8fb0d7" transform="rotate(-25 757.6 786)"/><ellipse cx="777.5" cy="789.7" rx="4.2" ry="3.2" fill="#8fb0d7" transform="rotate(-25 777.5 789.7)"/><ellipse cx="743.1" cy="806" rx="4.2" ry="3.2" fill="#8fb0d7" transform="rotate(-25 743.1 806)"/><ellipse cx="763" cy="826" rx="4.2" ry="3.2" fill="#8fb0d7" transform="rotate(-25 763 826)"/><ellipse cx="779.4" cy="815" rx="4.2" ry="3.2" fill="#8fb0d7" transform="rotate(-25 779.4 815)"/><ellipse cx="746.7" cy="826" rx="4.2" ry="3.2" fill="#8fb0d7" transform="rotate(-25 746.7 826)"/><ellipse cx="719.5" cy="816.8" rx="4.2" ry="3.2" fill="#8fb0d7" transform="rotate(-25 719.5 816.8)"/><ellipse cx="694.2" cy="818.7" rx="4.2" ry="3.2" fill="#8fb0d7" transform="rotate(-25 694.2 818.7)"/><ellipse cx="672.4" cy="835" rx="4.2" ry="3.2" fill="#8fb0d7" transform="rotate(-25 672.4 835)"/><ellipse cx="706.8" cy="835" rx="4.2" ry="3.2" fill="#8fb0d7" transform="rotate(-25 706.8 835)"/><ellipse cx="732.2" cy="847.7" rx="4.2" ry="3.2" fill="#8fb0d7" transform="rotate(-25 732.2 847.7)"/><ellipse cx="710.5" cy="849.5" rx="4.2" ry="3.2" fill="#8fb0d7" transform="rotate(-25 710.5 849.5)"/><ellipse cx="694.2" cy="858.5" rx="4.2" ry="3.2" fill="#8fb0d7" transform="rotate(-25 694.2 858.5)"/><ellipse cx="708.7" cy="867.6" rx="4.2" ry="3.2" fill="#8fb0d7" transform="rotate(-25 708.7 867.6)"/><ellipse cx="656.1" cy="853.1" rx="4.2" ry="3.2" fill="#8fb0d7" transform="rotate(-25 656.1 853.1)"/><ellipse cx="634.3" cy="845.9" rx="4.2" ry="3.2" fill="#8fb0d7" transform="rotate(-25 634.3 845.9)"/><ellipse cx="632.5" cy="865.8" rx="4.2" ry="3.2" fill="#8fb0d7" transform="rotate(-25 632.5 865.8)"/><ellipse cx="647" cy="876.7" rx="4.2" ry="3.2" fill="#8fb0d7" transform="rotate(-25 647 876.7)"/><ellipse cx="623.5" cy="884" rx="4.2" ry="3.2" fill="#8fb0d7" transform="rotate(-25 623.5 884)"/><ellipse cx="719.5" cy="882.1" rx="4.2" ry="3.2" fill="#8fb0d7" transform="rotate(-25 719.5 882.1)"/>
<path d="M848.6 765.9 C851.4 763.1 853.2 759.8 860.8 759.8 C868.4 759.8 872.6 765.9 881.2 765.9 C889.8 765.9 891.4 764.1 897.6 759.8 C903.8 755.5 902.1 750.9 907.8 747.6 C913.5 744.3 913.9 744.1 922 745.5 C930.1 746.9 933.8 749.4 942.4 753.7 C951 758 954 757.2 958.8 763.9 C963.6 770.5 958.1 777 962.9 782.2 C967.7 787.4 972.1 787.2 979.2 786.3 C986.3 785.4 985.9 778.7 993.5 778.2 C1001.1 777.7 1007 778.6 1011.8 784.3 C1016.6 790 1016.7 795.6 1013.9 802.7 C1011.1 809.8 1009.6 810.2 999.6 814.9 C989.6 819.6 980.5 819.2 971 823 C961.5 826.8 962.1 825.5 958.8 831.2 C955.5 836.9 954.8 840 956.7 847.6 C958.6 855.2 961.2 857.7 966.9 863.9 C972.6 870.1 977.9 867.8 981.2 874 C984.5 880.2 985.5 885.1 981.2 890.4 C976.9 895.6 972.9 896.5 962.9 896.5 C952.9 896.5 948.9 889.9 938.4 890.4 C927.9 890.9 926.6 893.4 918 898.6 C909.4 903.9 909.7 910.1 901.6 912.9 C893.5 915.7 888.5 916 883.3 910.8 C878.1 905.5 883 896.6 879.2 890.4 C875.4 884.2 872.1 886.7 866.9 884.3 C861.6 881.9 859.5 883.1 856.7 880.2 C853.9 877.3 851.4 877.2 854.7 872 C858 866.8 866.2 865.4 871 857.8 C875.8 850.2 877.5 846.1 875.1 839.4 C872.7 832.7 863.6 835.4 860.8 829.2 C858 823 863.9 815.7 862.9 812.9 C861.9 810.1 862 816 856.7 817 C851.5 818 847 819.9 840.4 817 C833.8 814.1 830.1 810.9 828.2 804.7 C826.3 798.5 826.5 793.7 832.2 790.4 C837.9 787.1 846.5 792.3 852.7 790.4 C858.9 788.5 859.8 786.5 858.8 782.2 C857.8 777.9 851 775.8 848.6 772 C846.2 768.2 845.8 768.7 848.6 765.9 Z" fill="#c8c8c8" stroke="#9b9191" stroke-width="1.3"/>
<path d="M893.5 800.6 C898.4 793.5 898.8 789 911.8 786.3 C924.8 783.6 931.5 785.5 942.4 790.4 C953.3 795.3 952.1 797.6 952.7 804.7 C953.3 811.8 947.2 807.6 944.5 816.9 C941.8 826.2 948.4 830.9 942.4 839.4 C936.4 847.9 930.7 849.2 922 848.6 C913.3 848 917.4 846.8 909.8 837.3 C902.2 827.8 897.8 822.7 893.5 812.9 C889.2 803.1 888.6 807.7 893.5 800.6 Z" fill="#878787"/>
<ellipse cx="885.7" cy="747" rx="13" ry="11" transform="rotate(0 885.7 747)" fill="#c8c8c8" stroke="#9b9191" stroke-width="1.3"/>
<ellipse cx="938.4" cy="741" rx="14" ry="9" transform="rotate(18 938.4 741)" fill="#c8c8c8" stroke="#9b9191" stroke-width="1.3"/>
<ellipse cx="833.9" cy="774" rx="3.8" ry="5" transform="rotate(0 833.9 774)" fill="#c8c8c8" stroke="#9b9191" stroke-width="1.3"/>
<ellipse cx="971" cy="772" rx="5" ry="7" transform="rotate(-10 971 772)" fill="#c8c8c8" stroke="#9b9191" stroke-width="1.3"/>
<ellipse cx="846.5" cy="847.5" rx="20" ry="19" transform="rotate(-20 846.5 847.5)" fill="#c8c8c8" stroke="#9b9191" stroke-width="1.3"/>
<ellipse cx="993.5" cy="847.5" rx="27" ry="16.5" transform="rotate(10 993.5 847.5)" fill="#b5b5b5" stroke="#9b9191" stroke-width="1.3"/>
<ellipse cx="995.5" cy="882" rx="5.5" ry="11" transform="rotate(-25 995.5 882)" fill="#c8c8c8" stroke="#9b9191" stroke-width="1.3"/>
<ellipse cx="939.4" cy="915" rx="18" ry="12" transform="rotate(0 939.4 915)" fill="#c8c8c8" stroke="#9b9191" stroke-width="1.3"/>
<circle cx="882.6" cy="749" r="3.5" fill="#878787"/><circle cx="845" cy="848.5" r="3.7" fill="#878787"/><circle cx="997.8" cy="848.8" r="3.7" fill="#878787"/><circle cx="937" cy="915.5" r="2" fill="#878787"/><circle cx="937.8" cy="770" r="3.7" fill="#878787"/><circle cx="874.6" cy="813" r="3.7" fill="#878787"/><circle cx="885.9" cy="829.6" r="3.7" fill="#878787"/><circle cx="899" cy="863.5" r="3.7" fill="#878787"/><circle cx="936.7" cy="867" r="3" fill="#878787"/><circle cx="894.6" cy="892.2" r="3" fill="#878787"/><circle cx="874.9" cy="792.6" r="2" fill="#878787"/><circle cx="851" cy="800.6" r="2" fill="#878787"/><circle cx="897.8" cy="784.9" r="1.8" fill="#878787"/><circle cx="897.8" cy="845.8" r="2" fill="#878787"/><circle cx="914" cy="870" r="2" fill="#878787"/><circle cx="948" cy="858" r="2" fill="#878787"/><circle cx="968" cy="790.5" r="2" fill="#878787"/>
<ellipse cx="952.6" cy="820.6" rx="4.5" ry="6" fill="#878787"/>
<g transform="translate(171 1027) scale(1.0000 1.0055)"><path d="M0 38 C2 15 45 0 80 0 C115 0 152 15 156 40 C158 62 138 73 112 73 C98 73 90 70 78 70 C66 70 55 73 42 73 C15 72 -2 58 0 38 Z" fill="#eba786"/><path d="M0 38 C2 15 45 0 80 0 C115 0 152 15 156 40 C157 48 150 56 140 57 C120 57 100 48 78 49 C55 49 35 58 18 57 C6 55 -1 48 0 38 Z" fill="#de9068"/><path d="M6 40 C8 22 45 5 80 5 C112 5 148 20 150 40 C150 48 144 52 135 52 C118 52 100 44 78 45 C55 45 35 53 22 53 C12 53 6 48 6 40 Z" fill="#fae0d6"/><clipPath id="mclip1"><path d="M6 40 C8 22 45 5 80 5 C112 5 148 20 150 40 C150 48 144 52 135 52 C118 52 100 44 78 45 C55 45 35 53 22 53 C12 53 6 48 6 40 Z"/></clipPath><path d="M26.4 15 L29.4 30 M46 3 L47.2 19.6 M58.2 3 L61.9 30 M76.6 2 L77.2 30 M85.1 2 L86.4 16.6 M96.8 3 L97.4 17.2 M110.8 6 L107.8 30 M121.8 10 L122.5 24 M131.6 15 L132.9 31.9 M6 53 L21.5 41 M4 28 L22.7 33.7 M30 56 L32.5 37.4 M34 9 L42.3 33.7 M50.9 52 L50.9 24 M72.9 50 Q71.7 28.8 66.8 16.6 M85.1 50 L83.9 27.6 M97.4 52 L98.6 22.7 M113.3 54 L112.7 37.4 M125.5 54 L124.9 32.5 M140.2 54 L140.8 41" fill="none" stroke="#de9068" stroke-width="3.3" stroke-linecap="round" clip-path="url(#mclip1)"/><path d="M22 64 Q50 66 70 60" fill="none" stroke="#f3c0a6" stroke-width="3" stroke-linecap="round"/></g>
<g transform="translate(971.8 1003.5) scale(0.7949 0.9630)"><path d="M0 38 C2 15 45 0 80 0 C115 0 152 15 156 40 C158 62 138 73 112 73 C98 73 90 70 78 70 C66 70 55 73 42 73 C15 72 -2 58 0 38 Z" fill="#7e2a1f"/><path d="M0 38 C2 15 45 0 80 0 C115 0 152 15 156 40 C157 48 150 56 140 57 C120 57 100 48 78 49 C55 49 35 58 18 57 C6 55 -1 48 0 38 Z" fill="#5c1c11"/><path d="M8.6 37.9 L36 31 M19.8 47.6 L32.3 38.8 M26.2 20.4 L42.4 29.5 M36 45.6 L39.8 34.6 M46 13.8 L54.8 34.6 M40 35 L122 29 M57.3 9.1 L64.7 21.5 L62 36 M72.2 8 L74.7 30 M87.3 4.9 L89.8 30 M98.7 5.9 L98.7 30 M122.2 10 L119.6 28 M141.9 22.5 L122 26.4 M133.2 35.2 L125.6 26.4 M117.6 36.2 L116.3 26.4 M92.7 35.2 L90.1 26.4 M62.7 38.3 L60.1 26.4" fill="none" stroke="#b98b78" stroke-width="8.5" stroke-linecap="round" stroke-linejoin="round"/><path d="M38 33 L124 28" stroke="#b98b78" stroke-width="11" stroke-linecap="round"/><path d="M22 64 Q50 66 70 60" fill="none" stroke="#9b5044" stroke-width="3" stroke-linecap="round"/></g>
<g transform="translate(1059 1053) scale(0.7885 1.0110)"><path d="M0 38 C2 15 45 0 80 0 C115 0 152 15 156 40 C158 62 138 73 112 73 C98 73 90 70 78 70 C66 70 55 73 42 73 C15 72 -2 58 0 38 Z" fill="#7e2a1f"/><path d="M0 38 C2 15 45 0 80 0 C115 0 152 15 156 40 C157 48 150 56 140 57 C120 57 100 48 78 49 C55 49 35 58 18 57 C6 55 -1 48 0 38 Z" fill="#5c1c11"/><path d="M8.6 37.9 L36 31 M19.8 47.6 L32.3 38.8 M26.2 20.4 L42.4 29.5 M36 45.6 L39.8 34.6 M46 13.8 L54.8 34.6 M40 35 L122 29 M57.3 9.1 L64.7 21.5 L62 36 M72.2 8 L74.7 30 M87.3 4.9 L89.8 30 M98.7 5.9 L98.7 30 M122.2 10 L119.6 28 M141.9 22.5 L122 26.4 M133.2 35.2 L125.6 26.4 M117.6 36.2 L116.3 26.4 M92.7 35.2 L90.1 26.4 M62.7 38.3 L60.1 26.4" fill="none" stroke="#b98b78" stroke-width="8.5" stroke-linecap="round" stroke-linejoin="round"/><path d="M38 33 L124 28" stroke="#b98b78" stroke-width="11" stroke-linecap="round"/><path d="M22 64 Q50 66 70 60" fill="none" stroke="#9b5044" stroke-width="3" stroke-linecap="round"/></g>
<path d="M443.1 1050.4 L459.8 1075.4 L486.9 1061.3 L478.4 1090.8 L505.3 1102.4 L477 1113.4 L485 1142.4 L458.9 1127 L440.5 1151.3 L436.7 1121.6 L406.2 1122.5 L426.3 1100.3 L407.3 1077.6 L438 1079.9 Z" fill="#f2adbb"/>
<path d="M739.5 1061.7 L756.2 1086.7 L783.3 1072.6 L774.8 1102.1 L801.7 1113.7 L773.4 1124.7 L781.4 1153.7 L755.3 1138.3 L736.9 1162.6 L733.1 1132.9 L702.6 1133.8 L722.7 1111.6 L703.7 1088.9 L734.4 1091.2 Z" fill="#f2adbb"/>
<path d="M845.5 1030.8 L862.2 1055.8 L889.3 1041.7 L880.8 1071.2 L907.7 1082.8 L879.4 1093.8 L887.4 1122.8 L861.3 1107.4 L842.9 1131.7 L839.1 1102 L808.6 1102.9 L828.7 1080.7 L809.7 1058 L840.4 1060.3 Z" fill="#f2adbb"/>
<path d="M144 1219.4 L162 1191" stroke="#00a0e9" stroke-width="2.8" fill="none"/><path d="M173.9 1174 L153.9 1184.3 L173 1196.7 Z" fill="#00a0e9"/>
<path d="M1179.8 1218 L1161.5 1189.5" stroke="#00a0e9" stroke-width="2.8" fill="none"/><path d="M1149.9 1172.7 L1169.7 1182.8 L1151.3 1194.7 Z" fill="#00a0e9"/>
<path d="M529.9 1265.6 L595.6 1247.4 L578 1214.5 L639.4 1229 L646.6 1199.2 L676 1225.5 L722 1201.4 L712.7 1229.9 L777.3 1226.8 L747.8 1264.5 L794.9 1298.4 L711.6 1289.6 L700.7 1304.3 L686.4 1284.2 L651.4 1310.5 L632.8 1288.6 L597.1 1311.5 L600 1274.3 Z" fill="#f0ea6a"/>
<text transform="translate(273.7 49.7) scale(0.87 1)" font-size="48.6" font-weight="bold" fill="#231815"><tspan font-style="italic">TP53</tspan>-wt</text>
<text transform="translate(923.2 49.6) scale(0.862 1)" font-size="48.6" font-weight="bold" fill="#231815"><tspan font-style="italic">TP53</tspan>-mut</text>
<text x="5.5" y="121.2" font-size="30.2" fill="#231815" stroke="#231815" stroke-width="0.8" letter-spacing="0.018"><tspan font-style="italic">TP53</tspan> mutation affects iron homeostasis in GBM and astrocytes.</text>
<rect x="5" y="123.9" width="852" height="2" fill="#231815"/>
<text x="6.5" y="653.8" font-size="30.2" fill="#231815" stroke="#231815" stroke-width="0.8" letter-spacing="0.018"><tspan font-style="italic">TP53</tspan> mutant astrocytes were more tolerant of the high iron environment.</text>
<rect x="5.7" y="656.4" width="970.3" height="2" fill="#231815"/>
<text x="10.5" y="984" font-size="30.2" fill="#231815" stroke="#231815" stroke-width="0.8" letter-spacing="0.018"><tspan font-style="italic">TP53</tspan> mutant astrocytes were more sensitive to Erastin-induced ferroptosis.</text>
<rect x="9.8" y="986.9" width="1004.8" height="2" fill="#231815"/>
<text x="643" y="209.6" font-size="27.4" fill="#231815" stroke="#231815" stroke-width="0.3">GBM</text>
<text x="909" y="184" font-size="30.4" fill="#231815" stroke="#231815" stroke-width="0.3">Iron contents</text>
<text x="580.5" y="346.2" font-size="35" fill="#231815" stroke="#231815" stroke-width="0.3">Astrocyte</text>
<text x="23" y="433.7" font-size="26" fill="#231815" stroke="#231815" stroke-width="0.3">FPN</text>
<text x="1253" y="433.7" font-size="26" fill="#231815" stroke="#231815" stroke-width="0.3">FPN</text>
<text transform="translate(111.1 598.4) scale(0.88 1)" font-size="27" fill="#231815" stroke="#231815" stroke-width="0.3">Fe<tspan font-size="15.5" dy="-9.5" dx="0.3">2+</tspan></text>
<text transform="translate(414.3 387.6) scale(0.88 1)" font-size="27" fill="#231815" stroke="#231815" stroke-width="0.3">Fe<tspan font-size="15.5" dy="-9.5" dx="0.3">2+</tspan></text>
<text transform="translate(884 387.2) scale(0.88 1)" font-size="27" fill="#231815" stroke="#231815" stroke-width="0.3">Fe<tspan font-size="15.5" dy="-9.5" dx="0.3">2+</tspan></text>
<text transform="translate(1190.8 598.4) scale(0.88 1)" font-size="27" fill="#231815" stroke="#231815" stroke-width="0.3">Fe<tspan font-size="15.5" dy="-9.5" dx="0.3">2+</tspan></text>
<text x="294" y="572.2" font-size="26" fill="#231815" stroke="#231815" stroke-width="0.3">Ferritin</text>
<text x="950" y="571.6" font-size="26" fill="#231815" stroke="#231815" stroke-width="0.3">Ferritin</text>
<text x="765" y="573" font-size="26" fill="#231815" stroke="#231815" stroke-width="0.3">ITCH</text>
<text x="860" y="560.6" font-size="26" fill="#231815" stroke="#231815" stroke-width="0.3">Ub</text>
<text x="354" y="706.8" font-size="30.4" fill="#231815" stroke="#231815" stroke-width="0.3">Proliferation</text>
<text x="563" y="705.5" font-size="30.4" fill="#231815" stroke="#231815" stroke-width="0.3">Migration &amp; invasion</text>
<text x="862.5" y="706.3" font-size="30.6" fill="#231815" stroke="#231815" stroke-width="0.3">Apoptosis</text>
<text transform="translate(32.2 886.2) scale(0.88 1)" font-size="27" fill="#231815" stroke="#231815" stroke-width="0.3">Fe<tspan font-size="15.5" dy="-9.5" dx="0.3">3+</tspan></text>
<text transform="translate(1248.6 885.8) scale(0.88 1)" font-size="27" fill="#231815" stroke="#231815" stroke-width="0.3">Fe<tspan font-size="15.5" dy="-9.5" dx="0.3">3+</tspan></text>
<text x="426" y="1109.6" font-size="28.2" fill="#231815" stroke="#231815" stroke-width="0.3">ROS</text>
<text x="720.4" y="1120.9" font-size="28.2" fill="#231815" stroke="#231815" stroke-width="0.3">ROS</text>
<text x="827.4" y="1090" font-size="28.2" fill="#231815" stroke="#231815" stroke-width="0.3">ROS</text>
<text x="107.5" y="1246" font-size="31" fill="#231815" stroke="#231815" stroke-width="0.3">Erastin</text>
<text x="1133.5" y="1246" font-size="31" fill="#231815" stroke="#231815" stroke-width="0.3">Erastin</text>
<text x="596" y="1272.8" font-size="30.6" fill="#231815" stroke="#231815" stroke-width="0.3">Ferroptosis</text>
</svg>
</body></html>
